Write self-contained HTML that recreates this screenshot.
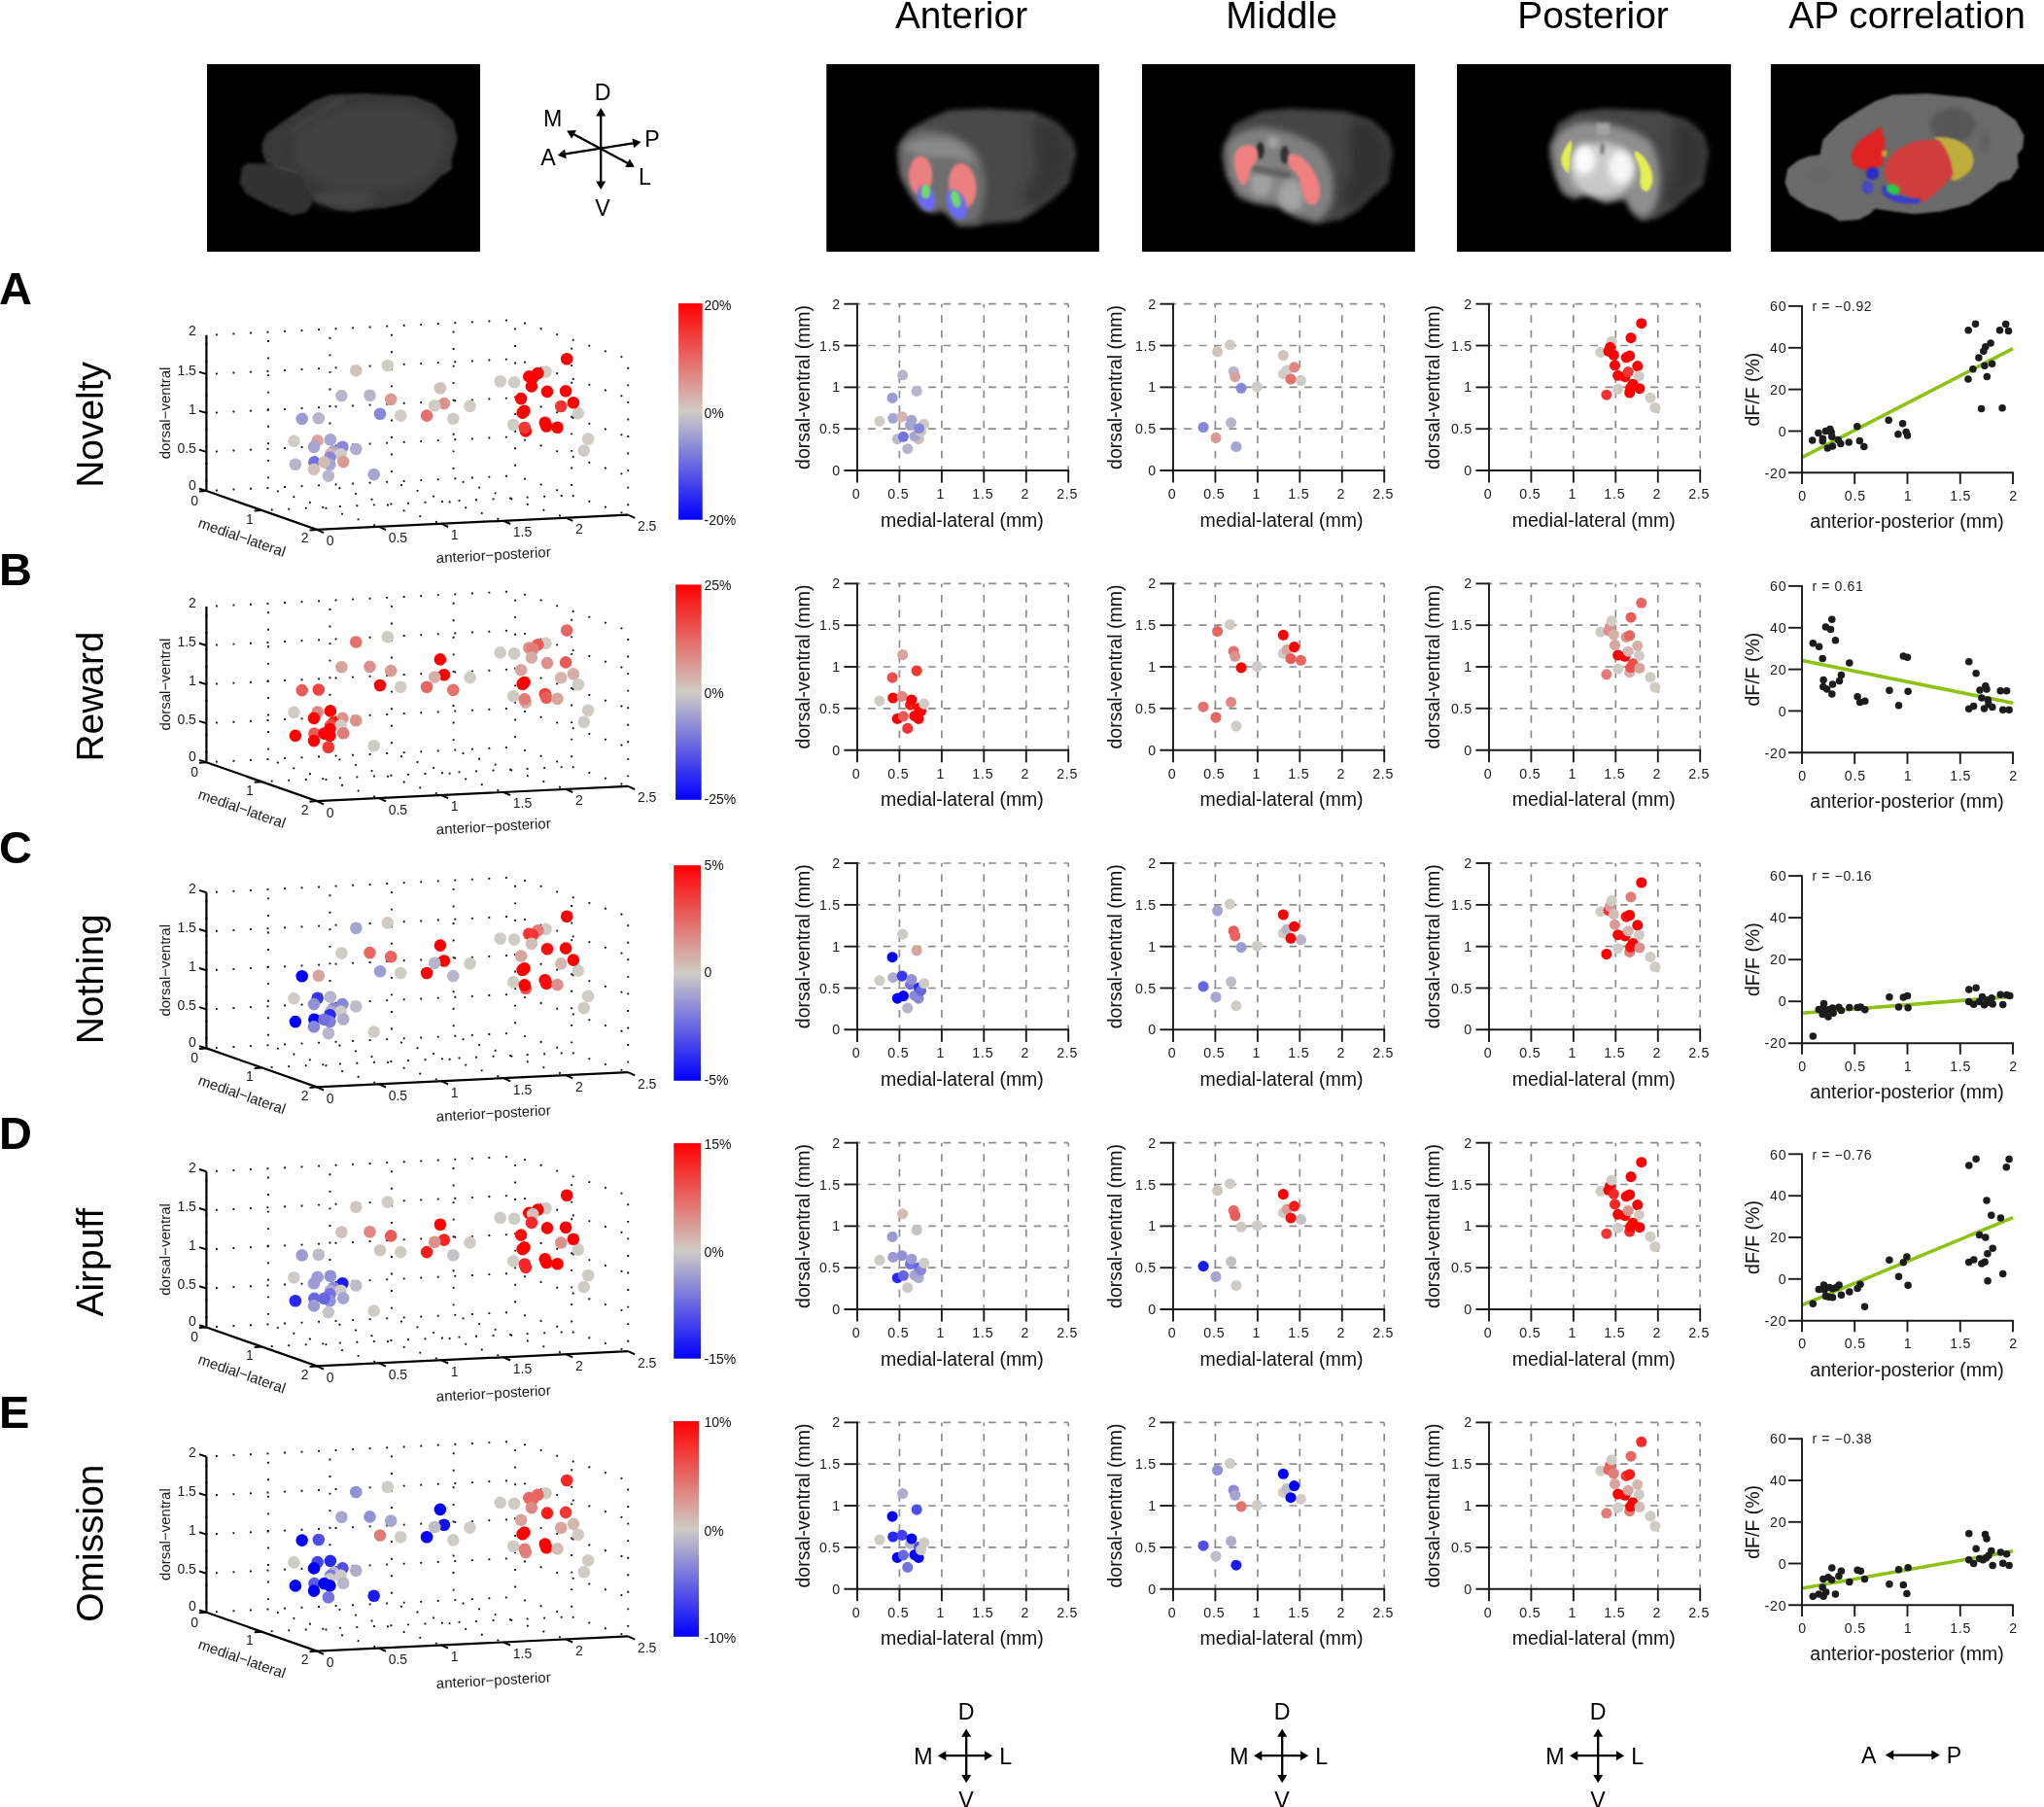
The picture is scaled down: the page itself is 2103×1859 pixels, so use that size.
<!DOCTYPE html>
<html lang="en"><head><meta charset="utf-8"><title>Figure</title>
<style>
html,body{margin:0;padding:0;background:#fff}
svg{display:block}
text{font-family:"Liberation Sans", Arial, Helvetica, sans-serif}
</style></head>
<body>
<svg width="2103" height="1859" viewBox="0 0 2103 1859" font-family='"Liberation Sans", Arial, Helvetica, sans-serif'>
<defs>
<linearGradient id="cb" x1="0" y1="0" x2="0" y2="1">
<stop offset="0" stop-color="#ff0000"/><stop offset="0.5" stop-color="#cfccc5"/><stop offset="1" stop-color="#0000ff"/>
</linearGradient>
</defs>
<rect x="0" y="0" width="2103" height="1859" fill="#fff"/>
<g style="will-change:transform">
<text x="989.0" y="28.5" font-size="38.9" text-anchor="middle" font-weight="normal" fill="#000">Anterior</text>
<text x="1318.5" y="28.5" font-size="38.9" text-anchor="middle" font-weight="normal" fill="#000">Middle</text>
<text x="1639.0" y="28.5" font-size="38.9" text-anchor="middle" font-weight="normal" fill="#000">Posterior</text>
<text x="1962.0" y="28.5" font-size="38.9" text-anchor="middle" font-weight="normal" fill="#000">AP correlation</text>
<defs>
<filter id="f40" x="-40%" y="-40%" width="180%" height="180%"><feGaussianBlur stdDeviation="40"/></filter>
<filter id="f28" x="-40%" y="-40%" width="180%" height="180%"><feGaussianBlur stdDeviation="28"/></filter>
<filter id="f18" x="-40%" y="-40%" width="180%" height="180%"><feGaussianBlur stdDeviation="18"/></filter>
<filter id="f12" x="-40%" y="-40%" width="180%" height="180%"><feGaussianBlur stdDeviation="12"/></filter>
<filter id="f8" x="-40%" y="-40%" width="180%" height="180%"><feGaussianBlur stdDeviation="8"/></filter>
<clipPath id="bc0"><rect x="213.0" y="66" width="281.0" height="192.9"/></clipPath>
<clipPath id="bc1"><rect x="850.3" y="66" width="280.6" height="192.9"/></clipPath>
<clipPath id="bc2"><rect x="1175.0" y="66" width="280.9" height="192.9"/></clipPath>
<clipPath id="bc3"><rect x="1499.0" y="66" width="281.9" height="192.9"/></clipPath>
<clipPath id="bc4"><rect x="1821.9" y="66" width="282.0" height="192.9"/></clipPath>
</defs>
<rect x="213.0" y="66" width="281.0" height="192.9" fill="#000"/>
<rect x="850.3" y="66" width="280.6" height="192.9" fill="#000"/>
<rect x="1175.0" y="66" width="280.9" height="192.9" fill="#000"/>
<rect x="1499.0" y="66" width="281.9" height="192.9" fill="#000"/>
<rect x="1821.9" y="66" width="282.0" height="192.9" fill="#000"/>
<g clip-path="url(#bc0)"><g transform="translate(205 60) scale(0.146778)">
<path d="M285 880 L300 760 L340 735 L520 740 L720 800 L800 900 L790 1020 L750 1080 L650 1100 L480 1030 L330 950 Z" fill="#323232" filter="url(#f12)"/>
<path d="M440 600 L470 530 L620 420 L800 300 L920 255 L1150 245 L1500 265 L1650 320 L1780 440 L1810 560 L1790 640 L1770 700 L1770 780 L1690 830 L1600 920 L1480 1010 L1300 1050 L1150 1060 L1080 1075 L950 1060 L870 1020 L800 1000 L700 800 L470 735 L440 650 Z" fill="#383838" filter="url(#f12)"/>
<path d="M700 520 Q900 330 1300 320 Q1650 350 1720 520 Q1740 700 1600 830 Q1400 950 1100 920 Q800 880 690 760 Q640 640 700 520Z" fill="#424242" opacity="0.9" filter="url(#f28)"/>
<path d="M640 520 Q820 380 1010 290" stroke="#424242" stroke-width="40" fill="none" filter="url(#f18)"/>
<ellipse cx="1020" cy="985" rx="220" ry="55" fill="#474747" filter="url(#f28)"/>
<path d="M520 750 L700 800" stroke="#454545" stroke-width="24" fill="none" filter="url(#f12)"/>
</g></g>
<g clip-path="url(#bc1)"><g transform="translate(850 60) scale(0.14188)">
<path d="M520 640 L600 520 L760 430 L900 375 L1150 365 L1500 385 L1680 470 L1790 600 L1810 700 L1770 830 L1760 900 L1650 1010 L1500 1120 L1400 1180 L1150 1200 L1100 1220 L960 1215 L900 1150 L840 1100 L780 1120 L700 1100 L620 1000 L540 850 L515 720 Z" fill="#484848" filter="url(#f18)"/>
<path d="M540 650 Q560 560 700 520 Q900 520 1060 640 Q1180 800 1150 1000 Q1130 1150 1080 1190 L960 1200 L900 1140 L840 1090 L780 1110 L700 1090 L620 990 L545 850 Z" fill="#6e6e6e" filter="url(#f28)"/>
<path d="M560 640 Q700 560 900 590 Q1050 650 1080 760 Q900 700 760 720 Q620 700 560 640Z" fill="#8a8a8a" filter="url(#f28)"/>
<path d="M1500 420 L1700 480 L1800 620 L1790 800 L1700 960 L1500 1100 L1420 1000 L1520 800 L1500 600 Z" fill="#262626" opacity="0.55" filter="url(#f40)"/>
<ellipse cx="685" cy="850" rx="86" ry="142" fill="#ec7f7f" filter="url(#f12)"/>
<ellipse cx="988" cy="925" rx="100" ry="165" fill="#ec7f7f" filter="url(#f12)" transform="rotate(-6 988 925)"/>
<ellipse cx="728" cy="1015" rx="62" ry="95" fill="#6a6af2" filter="url(#f12)" transform="rotate(-18 728 1015)"/>
<ellipse cx="945" cy="1060" rx="68" ry="112" fill="#6a6af2" filter="url(#f12)" transform="rotate(-22 945 1060)"/>
<ellipse cx="722" cy="965" rx="34" ry="52" fill="#6fd86f" filter="url(#f8)"/>
<ellipse cx="940" cy="1020" rx="34" ry="66" fill="#6fd86f" filter="url(#f8)" transform="rotate(-15 940 1020)"/>
</g></g>
<g clip-path="url(#bc2)"><g transform="translate(1170 60) scale(0.14188)">
<path d="M625 640 L700 480 L900 385 L1100 365 L1500 385 L1700 450 L1820 560 L1850 680 L1830 800 L1820 900 L1700 1000 L1600 1100 L1480 1170 L1300 1200 L1150 1150 L1050 1080 L850 1050 L730 1000 L650 850 L615 720 Z" fill="#444444" filter="url(#f18)"/>
<path d="M640 640 Q700 520 900 500 Q1150 520 1330 660 Q1440 800 1420 1000 Q1400 1130 1300 1180 L1150 1140 L1050 1070 L850 1040 L735 990 L655 850 Z" fill="#808080" filter="url(#f28)"/>
<path d="M1560 430 L1740 490 L1840 640 L1820 860 L1700 990 L1540 1120 L1480 1000 L1560 800 L1540 600 Z" fill="#242424" opacity="0.55" filter="url(#f40)"/>
<ellipse cx="900" cy="905" rx="85" ry="100" fill="#a0a0a0" filter="url(#f28)"/>
<ellipse cx="1115" cy="995" rx="95" ry="115" fill="#a4a4a4" filter="url(#f28)"/>
<path d="M840 800 L1110 850" stroke="#5a5a5a" stroke-width="46" fill="none" filter="url(#f18)"/>
<ellipse cx="892" cy="668" rx="30" ry="62" fill="#2a2a2a" filter="url(#f12)"/>
<ellipse cx="1070" cy="700" rx="32" ry="66" fill="#303030" filter="url(#f12)"/>
<ellipse cx="985" cy="610" rx="45" ry="40" fill="#a6a6a6" filter="url(#f18)"/>
<path d="M705 700 Q730 630 800 625 Q860 630 875 680 Q880 730 850 765 Q815 790 812 850 Q805 905 765 925 Q725 880 708 800 Q700 745 705 700Z" fill="#f08080" filter="url(#f12)"/>
<path d="M1095 705 Q1130 680 1190 715 Q1280 790 1318 900 Q1340 1000 1300 1055 Q1260 1075 1225 1040 Q1195 980 1185 900 Q1170 840 1115 800 Q1085 750 1095 705Z" fill="#f08080" filter="url(#f12)"/>
</g></g>
<g clip-path="url(#bc3)"><g transform="translate(1495 60) scale(0.14188)">
<path d="M700 640 L760 470 L900 390 L1100 365 L1500 385 L1700 450 L1820 560 L1850 680 L1830 800 L1810 920 L1700 1000 L1600 1090 L1480 1160 L1370 1180 L1300 1120 L1250 1020 L1100 1050 L980 980 L880 1020 L800 980 L740 850 L700 720 Z" fill="#464646" filter="url(#f18)"/>
<path d="M715 640 Q770 490 950 460 Q1250 470 1430 600 Q1520 760 1500 960 Q1470 1120 1380 1160 L1300 1110 L1250 1010 L1100 1040 L980 970 L880 1010 L800 970 L745 850 Z" fill="#8e8e8e" filter="url(#f28)"/>
<path d="M1600 430 L1760 490 L1850 640 L1820 880 L1700 990 L1560 1100 L1540 1000 L1600 800 L1590 600 Z" fill="#242424" opacity="0.5" filter="url(#f40)"/>
<ellipse cx="1085" cy="810" rx="235" ry="200" fill="#c9c9c9" filter="url(#f28)"/>
<ellipse cx="952" cy="735" rx="80" ry="110" fill="#fbfbfb" filter="url(#f28)"/>
<ellipse cx="1215" cy="790" rx="90" ry="120" fill="#f6f6f6" filter="url(#f28)"/>
<rect x="1040" y="470" width="95" height="85" fill="#a2a2a2" filter="url(#f12)"/>
<ellipse cx="1082" cy="655" rx="16" ry="45" fill="#7a7a7a" filter="url(#f12)"/>
<path d="M858 590 Q800 650 782 730 Q790 810 838 835 Q850 770 850 700 Q870 640 858 590Z" fill="#e4ee55" filter="url(#f8)"/>
<path d="M1320 670 Q1400 700 1440 820 Q1465 920 1410 965 Q1360 965 1355 900 Q1370 800 1330 740 Q1312 700 1320 670Z" fill="#e4ee55" filter="url(#f8)"/>
</g></g>
<g clip-path="url(#bc4)"><g transform="translate(1813 60) scale(0.14188)">
<path d="M165 900 L185 800 L260 740 L340 710 L420 700 L440 590 L560 470 L700 380 L820 310 L950 265 L1200 255 L1500 285 L1700 350 L1840 450 L1900 560 L1890 650 L1850 700 L1860 790 L1800 880 L1720 900 L1650 960 L1500 1060 L1300 1110 L1100 1130 L950 1110 L820 1090 L780 1130 L700 1170 L560 1180 L480 1130 L330 1080 L200 990 Z" fill="#6b6b6b" filter="url(#f8)"/>
<ellipse cx="1385" cy="485" rx="165" ry="125" fill="#565656" filter="url(#f18)"/>
<ellipse cx="1610" cy="600" rx="40" ry="70" fill="#606060" filter="url(#f18)"/>
<ellipse cx="420" cy="850" rx="70" ry="60" fill="#666" filter="url(#f18)"/>
<path d="M1245 575 Q1400 555 1500 650 Q1565 740 1505 820 Q1440 880 1385 892 L1330 800 L1290 620 Z" fill="#bfae3c" filter="url(#f8)"/>
<path d="M645 690 L700 600 L860 498 L892 600 L880 765 L820 802 L740 812 L655 770 Z" fill="#e02222" filter="url(#f8)"/>
<path d="M885 820 Q900 690 1060 620 Q1200 575 1290 600 Q1370 700 1385 840 Q1300 960 1170 1042 Q1050 1010 960 960 Q890 900 885 820Z" fill="#d03c3c" filter="url(#f8)"/>
<rect x="868" y="668" width="36" height="44" fill="#c8a030" filter="url(#f8)"/>
<ellipse cx="800" cy="835" rx="48" ry="45" fill="#2c2cc8" filter="url(#f8)"/>
<ellipse cx="765" cy="935" rx="42" ry="50" fill="#4646c0" filter="url(#f8)"/>
<path d="M870 930 Q900 900 930 960 Q1000 1010 1150 1020 Q1160 1050 1100 1055 Q960 1060 890 1000 Q860 970 870 930Z" fill="#3a3ec8" filter="url(#f8)"/>
<ellipse cx="950" cy="950" rx="52" ry="36" fill="#2fc84a" filter="url(#f8)" transform="rotate(25 950 950)"/>
</g></g>
<line x1="618.2" y1="188.3" x2="618.2" y2="117.7" stroke="#000" stroke-width="2.3"/>
<polygon points="618.2,111.1 623.2,119.4 613.2,119.4" fill="#000"/>
<polygon points="618.2,194.9 623.2,186.6 613.2,186.6" fill="#000"/>
<line x1="647.0" y1="168.6" x2="589.1" y2="137.5" stroke="#000" stroke-width="2.3"/>
<polygon points="583.2,134.4 592.9,134.0 588.2,142.7" fill="#000"/>
<polygon points="652.9,171.7 647.9,163.4 643.2,172.1" fill="#000"/>
<line x1="580.3" y1="158.7" x2="652.9" y2="147.1" stroke="#000" stroke-width="2.3"/>
<polygon points="659.5,146.1 652.1,152.3 650.5,142.5" fill="#000"/>
<polygon points="573.7,159.7 582.7,163.3 581.1,153.5" fill="#000"/>
<text x="620.2" y="102.8" font-size="23.2" text-anchor="middle" font-weight="normal" fill="#000">D</text>
<text x="619.9" y="221.7" font-size="23.2" text-anchor="middle" font-weight="normal" fill="#000">V</text>
<text x="568.7" y="129.8" font-size="23.2" text-anchor="middle" font-weight="normal" fill="#000">M</text>
<text x="670.9" y="151.0" font-size="23.2" text-anchor="middle" font-weight="normal" fill="#000">P</text>
<text x="563.9" y="169.8" font-size="23.2" text-anchor="middle" font-weight="normal" fill="#000">A</text>
<text x="663.5" y="189.7" font-size="23.2" text-anchor="middle" font-weight="normal" fill="#000">L</text>
<line x1="994.2" y1="1827.7" x2="994.2" y2="1785.0" stroke="#000" stroke-width="2.3"/>
<polygon points="994.2,1778.4 999.2,1786.7 989.2,1786.7" fill="#000"/>
<polygon points="994.2,1834.3 999.2,1826.0 989.2,1826.0" fill="#000"/>
<line x1="971.6" y1="1806.2" x2="1014.6" y2="1806.2" stroke="#000" stroke-width="2.3"/>
<polygon points="1021.2,1806.2 1012.9,1811.2 1012.9,1801.2" fill="#000"/>
<polygon points="965.0,1806.2 973.3,1811.2 973.3,1801.2" fill="#000"/>
<text x="994.2" y="1769.0" font-size="23.2" text-anchor="middle" font-weight="normal" fill="#000">D</text>
<text x="993.9" y="1859.7" font-size="23.2" text-anchor="middle" font-weight="normal" fill="#000">V</text>
<text x="949.8" y="1814.9" font-size="23.2" text-anchor="middle" font-weight="normal" fill="#000">M</text>
<text x="1034.6" y="1814.9" font-size="23.2" text-anchor="middle" font-weight="normal" fill="#000">L</text>
<line x1="1319.2" y1="1827.7" x2="1319.2" y2="1785.0" stroke="#000" stroke-width="2.3"/>
<polygon points="1319.2,1778.4 1324.2,1786.7 1314.2,1786.7" fill="#000"/>
<polygon points="1319.2,1834.3 1324.2,1826.0 1314.2,1826.0" fill="#000"/>
<line x1="1296.6" y1="1806.2" x2="1339.6" y2="1806.2" stroke="#000" stroke-width="2.3"/>
<polygon points="1346.2,1806.2 1337.9,1811.2 1337.9,1801.2" fill="#000"/>
<polygon points="1290.0,1806.2 1298.3,1811.2 1298.3,1801.2" fill="#000"/>
<text x="1319.2" y="1769.0" font-size="23.2" text-anchor="middle" font-weight="normal" fill="#000">D</text>
<text x="1318.9" y="1859.7" font-size="23.2" text-anchor="middle" font-weight="normal" fill="#000">V</text>
<text x="1274.8" y="1814.9" font-size="23.2" text-anchor="middle" font-weight="normal" fill="#000">M</text>
<text x="1359.6" y="1814.9" font-size="23.2" text-anchor="middle" font-weight="normal" fill="#000">L</text>
<line x1="1644.2" y1="1827.7" x2="1644.2" y2="1785.0" stroke="#000" stroke-width="2.3"/>
<polygon points="1644.2,1778.4 1649.2,1786.7 1639.2,1786.7" fill="#000"/>
<polygon points="1644.2,1834.3 1649.2,1826.0 1639.2,1826.0" fill="#000"/>
<line x1="1621.6" y1="1806.2" x2="1664.6" y2="1806.2" stroke="#000" stroke-width="2.3"/>
<polygon points="1671.2,1806.2 1662.9,1811.2 1662.9,1801.2" fill="#000"/>
<polygon points="1615.0,1806.2 1623.3,1811.2 1623.3,1801.2" fill="#000"/>
<text x="1644.2" y="1769.0" font-size="23.2" text-anchor="middle" font-weight="normal" fill="#000">D</text>
<text x="1643.9" y="1859.7" font-size="23.2" text-anchor="middle" font-weight="normal" fill="#000">V</text>
<text x="1599.8" y="1814.9" font-size="23.2" text-anchor="middle" font-weight="normal" fill="#000">M</text>
<text x="1684.6" y="1814.9" font-size="23.2" text-anchor="middle" font-weight="normal" fill="#000">L</text>
<line x1="1946.5" y1="1805.6" x2="1989.1" y2="1805.6" stroke="#000" stroke-width="2.3"/>
<polygon points="1995.7,1805.6 1987.4,1810.5 1987.4,1800.6" fill="#000"/>
<polygon points="1939.9,1805.6 1948.2,1810.5 1948.2,1800.6" fill="#000"/>
<text x="1922.7" y="1813.8" font-size="23.2" text-anchor="middle" font-weight="normal" fill="#000">A</text>
<text x="2010.6" y="1813.8" font-size="23.2" text-anchor="middle" font-weight="normal" fill="#000">P</text>
<text x="-1.0" y="312.8" font-size="47.0" text-anchor="start" font-weight="bold" fill="#000">A</text>
<text x="105.8" y="436.9" font-size="38.9" text-anchor="middle" font-weight="normal" fill="#000" transform="rotate(-90 105.8 436.9)">Novelty</text>
<line x1="212.4" y1="505.0" x2="212.4" y2="344.8" stroke="#111" stroke-width="1.9" stroke-dasharray="1.9 15.65" stroke-dashoffset="8.0"/>
<line x1="275.9" y1="501.9" x2="275.9" y2="341.7" stroke="#111" stroke-width="1.9" stroke-dasharray="1.9 15.65" stroke-dashoffset="8.0"/>
<line x1="339.5" y1="498.7" x2="339.5" y2="338.5" stroke="#111" stroke-width="1.9" stroke-dasharray="1.9 15.65" stroke-dashoffset="8.0"/>
<line x1="403.0" y1="495.6" x2="403.0" y2="335.4" stroke="#111" stroke-width="1.9" stroke-dasharray="1.9 15.65" stroke-dashoffset="8.0"/>
<line x1="466.6" y1="492.4" x2="466.6" y2="332.2" stroke="#111" stroke-width="1.9" stroke-dasharray="1.9 15.65" stroke-dashoffset="8.0"/>
<line x1="530.1" y1="489.3" x2="530.1" y2="329.1" stroke="#111" stroke-width="1.9" stroke-dasharray="1.9 15.65" stroke-dashoffset="8.0"/>
<line x1="212.4" y1="505.0" x2="530.1" y2="489.3" stroke="#111" stroke-width="1.9" stroke-dasharray="1.9 15.65" stroke-dashoffset="8.0"/>
<line x1="212.4" y1="464.9" x2="530.1" y2="449.2" stroke="#111" stroke-width="1.9" stroke-dasharray="1.9 15.65" stroke-dashoffset="8.0"/>
<line x1="212.4" y1="424.9" x2="530.1" y2="409.2" stroke="#111" stroke-width="1.9" stroke-dasharray="1.9 15.65" stroke-dashoffset="8.0"/>
<line x1="212.4" y1="384.9" x2="530.1" y2="369.2" stroke="#111" stroke-width="1.9" stroke-dasharray="1.9 15.65" stroke-dashoffset="8.0"/>
<line x1="212.4" y1="344.8" x2="530.1" y2="329.1" stroke="#111" stroke-width="1.9" stroke-dasharray="1.9 15.65" stroke-dashoffset="8.0"/>
<line x1="588.2" y1="509.5" x2="588.2" y2="349.3" stroke="#111" stroke-width="1.9" stroke-dasharray="1.9 15.65" stroke-dashoffset="8.0"/>
<line x1="646.2" y1="529.7" x2="646.2" y2="369.5" stroke="#111" stroke-width="1.9" stroke-dasharray="1.9 15.65" stroke-dashoffset="8.0"/>
<line x1="530.1" y1="489.3" x2="646.2" y2="529.7" stroke="#111" stroke-width="1.9" stroke-dasharray="1.9 15.65" stroke-dashoffset="8.0"/>
<line x1="530.1" y1="449.2" x2="646.2" y2="489.7" stroke="#111" stroke-width="1.9" stroke-dasharray="1.9 15.65" stroke-dashoffset="8.0"/>
<line x1="530.1" y1="409.2" x2="646.2" y2="449.6" stroke="#111" stroke-width="1.9" stroke-dasharray="1.9 15.65" stroke-dashoffset="8.0"/>
<line x1="530.1" y1="369.2" x2="646.2" y2="409.6" stroke="#111" stroke-width="1.9" stroke-dasharray="1.9 15.65" stroke-dashoffset="8.0"/>
<line x1="530.1" y1="329.1" x2="646.2" y2="369.5" stroke="#111" stroke-width="1.9" stroke-dasharray="1.9 15.65" stroke-dashoffset="8.0"/>
<line x1="275.9" y1="501.9" x2="390.0" y2="541.9" stroke="#111" stroke-width="1.9" stroke-dasharray="1.9 15.65" stroke-dashoffset="8.0"/>
<line x1="339.5" y1="498.7" x2="454.1" y2="538.8" stroke="#111" stroke-width="1.9" stroke-dasharray="1.9 15.65" stroke-dashoffset="8.0"/>
<line x1="403.0" y1="495.6" x2="518.1" y2="535.8" stroke="#111" stroke-width="1.9" stroke-dasharray="1.9 15.65" stroke-dashoffset="8.0"/>
<line x1="466.6" y1="492.4" x2="582.2" y2="532.7" stroke="#111" stroke-width="1.9" stroke-dasharray="1.9 15.65" stroke-dashoffset="8.0"/>
<line x1="269.2" y1="525.0" x2="588.2" y2="509.5" stroke="#111" stroke-width="1.9" stroke-dasharray="1.9 15.65" stroke-dashoffset="8.0"/>
<circle cx="366.3" cy="381.3" r="6.3" fill="#d1c3bc"/>
<circle cx="398.8" cy="376.0" r="6.3" fill="#cfccc5"/>
<circle cx="351.4" cy="407.1" r="6.3" fill="#b7b5cc"/>
<circle cx="380.5" cy="406.7" r="6.3" fill="#b7b5cc"/>
<circle cx="402.2" cy="410.9" r="6.3" fill="#db9b95"/>
<circle cx="391.0" cy="425.8" r="6.3" fill="#8987d9"/>
<circle cx="412.2" cy="427.6" r="6.3" fill="#cfccc5"/>
<circle cx="439.1" cy="427.6" r="6.3" fill="#e4716d"/>
<circle cx="310.7" cy="430.9" r="6.3" fill="#9d9bd3"/>
<circle cx="327.8" cy="430.3" r="6.3" fill="#b7b5cc"/>
<circle cx="302.4" cy="453.7" r="6.3" fill="#cfccc5"/>
<circle cx="326.7" cy="453.4" r="6.3" fill="#d8a49e"/>
<circle cx="339.9" cy="452.2" r="6.3" fill="#a6a4d0"/>
<circle cx="323.0" cy="459.7" r="6.3" fill="#a6a4d0"/>
<circle cx="352.4" cy="459.7" r="6.3" fill="#8987d9"/>
<circle cx="366.3" cy="462.0" r="6.3" fill="#afadce"/>
<circle cx="343.2" cy="464.2" r="6.3" fill="#a6a4d0"/>
<circle cx="340.2" cy="467.2" r="6.3" fill="#d4b5af"/>
<circle cx="350.6" cy="467.2" r="6.3" fill="#cfccc5"/>
<circle cx="339.4" cy="470.9" r="6.3" fill="#8987d9"/>
<circle cx="353.2" cy="475.1" r="6.3" fill="#db9b95"/>
<circle cx="323.4" cy="475.4" r="6.3" fill="#7371df"/>
<circle cx="339.4" cy="477.7" r="6.3" fill="#a6a4d0"/>
<circle cx="333.5" cy="475.4" r="6.3" fill="#d3bcb6"/>
<circle cx="303.9" cy="477.7" r="6.3" fill="#b7b5cc"/>
<circle cx="323.0" cy="482.9" r="6.3" fill="#d1c3bc"/>
<circle cx="337.9" cy="489.6" r="6.3" fill="#b7b5cc"/>
<circle cx="384.7" cy="488.1" r="6.3" fill="#a6a4d0"/>
<circle cx="452.9" cy="399.2" r="6.3" fill="#d1c3bc"/>
<circle cx="456.9" cy="415.1" r="6.3" fill="#dd918c"/>
<circle cx="447.2" cy="417.3" r="6.3" fill="#cfccc5"/>
<circle cx="483.5" cy="417.9" r="6.3" fill="#cfccc5"/>
<circle cx="466.3" cy="430.7" r="6.3" fill="#cfccc5"/>
<circle cx="514.7" cy="392.2" r="6.3" fill="#cfccc5"/>
<circle cx="529.1" cy="393.2" r="6.3" fill="#cfccc5"/>
<circle cx="561.5" cy="382.5" r="6.3" fill="#cfccc5"/>
<circle cx="594.8" cy="425.1" r="6.3" fill="#cfccc5"/>
<circle cx="528.2" cy="437.0" r="6.3" fill="#cfccc5"/>
<circle cx="605.1" cy="451.5" r="6.3" fill="#cfccc5"/>
<circle cx="600.8" cy="463.6" r="6.3" fill="#cfccc5"/>
<circle cx="583.2" cy="369.3" r="6.3" fill="#ff0000"/>
<circle cx="553.3" cy="384.0" r="6.3" fill="#ff0000"/>
<circle cx="544.3" cy="387.4" r="6.3" fill="#ff0000"/>
<circle cx="548.1" cy="388.5" r="6.3" fill="#ff0000"/>
<circle cx="546.9" cy="397.4" r="6.3" fill="#ff0000"/>
<circle cx="563.0" cy="402.9" r="6.3" fill="#ff0000"/>
<circle cx="582.1" cy="402.2" r="6.3" fill="#ff0000"/>
<circle cx="536.1" cy="410.1" r="6.3" fill="#ff0000"/>
<circle cx="589.9" cy="414.2" r="6.3" fill="#ff0000"/>
<circle cx="577.2" cy="418.0" r="6.3" fill="#f33533"/>
<circle cx="539.5" cy="422.8" r="6.3" fill="#ff0000"/>
<circle cx="537.6" cy="424.6" r="6.3" fill="#ff0000"/>
<circle cx="560.8" cy="434.8" r="6.3" fill="#ff0000"/>
<circle cx="562.2" cy="438.5" r="6.3" fill="#ff0000"/>
<circle cx="573.5" cy="439.7" r="6.3" fill="#ff0000"/>
<circle cx="540.9" cy="443.4" r="6.3" fill="#ff0000"/>
<circle cx="539.8" cy="440.0" r="6.3" fill="#f33533"/>
<polyline points="212.4,344.8 212.4,505.0 326.0,544.9 646.2,529.7" fill="none" stroke="#000" stroke-width="2.2" stroke-linejoin="miter"/>
<line x1="204.9" y1="502.7" x2="212.4" y2="505.0" stroke="#000" stroke-width="2.0"/>
<text x="201.9" y="503.6" font-size="14.0" text-anchor="end" font-weight="normal" fill="#1a1a1a">0</text>
<line x1="204.9" y1="462.6" x2="212.4" y2="464.9" stroke="#000" stroke-width="2.0"/>
<text x="201.9" y="465.6" font-size="14.0" text-anchor="end" font-weight="normal" fill="#1a1a1a">0.5</text>
<line x1="204.9" y1="422.6" x2="212.4" y2="424.9" stroke="#000" stroke-width="2.0"/>
<text x="201.9" y="425.5" font-size="14.0" text-anchor="end" font-weight="normal" fill="#1a1a1a">1</text>
<line x1="204.9" y1="382.6" x2="212.4" y2="384.9" stroke="#000" stroke-width="2.0"/>
<text x="201.9" y="385.5" font-size="14.0" text-anchor="end" font-weight="normal" fill="#1a1a1a">1.5</text>
<text x="201.9" y="345.4" font-size="14.0" text-anchor="end" font-weight="normal" fill="#1a1a1a">2</text>
<line x1="204.9" y1="505.6" x2="212.4" y2="505.0" stroke="#000" stroke-width="2.0"/>
<text x="200.1" y="519.9" font-size="14.0" text-anchor="middle" font-weight="normal" fill="#1a1a1a">0</text>
<line x1="261.7" y1="525.6" x2="269.2" y2="525.0" stroke="#000" stroke-width="2.0"/>
<text x="256.9" y="538.5" font-size="14.0" text-anchor="middle" font-weight="normal" fill="#1a1a1a">1</text>
<line x1="318.5" y1="545.5" x2="326.0" y2="544.9" stroke="#000" stroke-width="2.0"/>
<text x="313.7" y="558.4" font-size="14.0" text-anchor="middle" font-weight="normal" fill="#1a1a1a">2</text>
<line x1="326.0" y1="544.9" x2="333.0" y2="548.1" stroke="#000" stroke-width="2.0"/>
<text x="335.7" y="561.3" font-size="14.0" text-anchor="start" font-weight="normal" fill="#1a1a1a">0</text>
<line x1="390.0" y1="541.9" x2="397.0" y2="545.1" stroke="#000" stroke-width="2.0"/>
<text x="399.7" y="558.3" font-size="14.0" text-anchor="start" font-weight="normal" fill="#1a1a1a">0.5</text>
<line x1="454.1" y1="538.8" x2="461.1" y2="542.0" stroke="#000" stroke-width="2.0"/>
<text x="463.8" y="555.2" font-size="14.0" text-anchor="start" font-weight="normal" fill="#1a1a1a">1</text>
<line x1="518.1" y1="535.8" x2="525.1" y2="539.0" stroke="#000" stroke-width="2.0"/>
<text x="527.8" y="552.2" font-size="14.0" text-anchor="start" font-weight="normal" fill="#1a1a1a">1.5</text>
<line x1="582.2" y1="532.7" x2="589.2" y2="535.9" stroke="#000" stroke-width="2.0"/>
<text x="591.9" y="549.1" font-size="14.0" text-anchor="start" font-weight="normal" fill="#1a1a1a">2</text>
<line x1="646.2" y1="529.7" x2="653.2" y2="532.9" stroke="#000" stroke-width="2.0"/>
<text x="655.9" y="546.1" font-size="14.0" text-anchor="start" font-weight="normal" fill="#1a1a1a">2.5</text>
<text x="174.9" y="424.9" font-size="15.0" text-anchor="middle" font-weight="normal" fill="#1a1a1a" transform="rotate(-90 174.9 424.9)">dorsal−ventral</text>
<text x="247.3" y="557.5" font-size="15.0" text-anchor="middle" font-weight="normal" fill="#1a1a1a" transform="rotate(19.3 247.3 557.5)">medial−lateral</text>
<text x="508.0" y="576.0" font-size="15.0" text-anchor="middle" font-weight="normal" fill="#1a1a1a" transform="rotate(-3.2 508.0 576.0)">anterior−posterior</text>
<rect x="698.1" y="312.1" width="24.65" height="222.6" fill="url(#cb)"/>
<text x="724.5" y="318.7" font-size="14" text-anchor="start" font-weight="normal" fill="#111">20%</text>
<text x="724.5" y="429.7" font-size="14" text-anchor="start" font-weight="normal" fill="#111">0%</text>
<text x="724.5" y="539.8" font-size="14" text-anchor="start" font-weight="normal" fill="#111">-20%</text>
<line x1="925.4" y1="312.7" x2="925.4" y2="484.0" stroke="#8c8c8c" stroke-width="1.7" stroke-dasharray="7.75 7.75" stroke-dashoffset="3.9"/>
<line x1="968.9" y1="312.7" x2="968.9" y2="484.0" stroke="#8c8c8c" stroke-width="1.7" stroke-dasharray="7.75 7.75" stroke-dashoffset="3.9"/>
<line x1="1012.3" y1="312.7" x2="1012.3" y2="484.0" stroke="#8c8c8c" stroke-width="1.7" stroke-dasharray="7.75 7.75" stroke-dashoffset="3.9"/>
<line x1="1055.8" y1="312.7" x2="1055.8" y2="484.0" stroke="#8c8c8c" stroke-width="1.7" stroke-dasharray="7.75 7.75" stroke-dashoffset="3.9"/>
<line x1="1099.2" y1="312.7" x2="1099.2" y2="484.0" stroke="#8c8c8c" stroke-width="1.7" stroke-dasharray="7.75 7.75" stroke-dashoffset="3.9"/>
<line x1="882.0" y1="441.2" x2="1099.2" y2="441.2" stroke="#8c8c8c" stroke-width="1.7" stroke-dasharray="7.75 7.75" stroke-dashoffset="4.4"/>
<line x1="882.0" y1="398.4" x2="1099.2" y2="398.4" stroke="#8c8c8c" stroke-width="1.7" stroke-dasharray="7.75 7.75" stroke-dashoffset="4.4"/>
<line x1="882.0" y1="355.5" x2="1099.2" y2="355.5" stroke="#8c8c8c" stroke-width="1.7" stroke-dasharray="7.75 7.75" stroke-dashoffset="4.4"/>
<line x1="882.0" y1="312.7" x2="1099.2" y2="312.7" stroke="#8c8c8c" stroke-width="1.7" stroke-dasharray="7.75 7.75" stroke-dashoffset="4.4"/>
<circle cx="905.0" cy="433.4" r="5.55" fill="#cfccc5"/>
<circle cx="945.1" cy="451.7" r="5.55" fill="#d3bcb6"/>
<circle cx="923.3" cy="451.7" r="5.55" fill="#bfbcc9"/>
<circle cx="928.7" cy="385.8" r="5.55" fill="#b7b5cc"/>
<circle cx="943.2" cy="402.4" r="5.55" fill="#b7b5cc"/>
<circle cx="918.1" cy="409.4" r="5.55" fill="#9d9bd3"/>
<circle cx="918.8" cy="430.3" r="5.55" fill="#a6a4d0"/>
<circle cx="928.1" cy="428.7" r="5.55" fill="#d4b5af"/>
<circle cx="936.6" cy="437.5" r="5.55" fill="#a6a4d0"/>
<circle cx="937.9" cy="432.3" r="5.55" fill="#a6a4d0"/>
<circle cx="941.1" cy="448.8" r="5.55" fill="#a6a4d0"/>
<circle cx="947.5" cy="443.8" r="5.55" fill="#cbc8c6"/>
<circle cx="950.7" cy="436.4" r="5.55" fill="#cfccc5"/>
<circle cx="945.6" cy="440.7" r="5.55" fill="#8987d9"/>
<circle cx="929.4" cy="449.3" r="5.55" fill="#7371df"/>
<circle cx="933.8" cy="461.7" r="5.55" fill="#b7b5cc"/>
<line x1="882.0" y1="311.8" x2="882.0" y2="496.6" stroke="#1a1a1a" stroke-width="1.9"/>
<line x1="868.4" y1="484.0" x2="1100.1" y2="484.0" stroke="#1a1a1a" stroke-width="1.9"/>
<line x1="925.4" y1="484.0" x2="925.4" y2="496.6" stroke="#1a1a1a" stroke-width="1.9"/>
<line x1="968.9" y1="484.0" x2="968.9" y2="496.6" stroke="#1a1a1a" stroke-width="1.9"/>
<line x1="1012.3" y1="484.0" x2="1012.3" y2="496.6" stroke="#1a1a1a" stroke-width="1.9"/>
<line x1="1055.8" y1="484.0" x2="1055.8" y2="496.6" stroke="#1a1a1a" stroke-width="1.9"/>
<line x1="1099.2" y1="484.0" x2="1099.2" y2="496.6" stroke="#1a1a1a" stroke-width="1.9"/>
<line x1="868.4" y1="441.2" x2="882.0" y2="441.2" stroke="#1a1a1a" stroke-width="1.9"/>
<line x1="868.4" y1="398.4" x2="882.0" y2="398.4" stroke="#1a1a1a" stroke-width="1.9"/>
<line x1="868.4" y1="355.5" x2="882.0" y2="355.5" stroke="#1a1a1a" stroke-width="1.9"/>
<line x1="868.4" y1="312.7" x2="882.0" y2="312.7" stroke="#1a1a1a" stroke-width="1.9"/>
<text x="881.0" y="513.0" font-size="14.2" text-anchor="middle" font-weight="normal" fill="#1a1a1a" letter-spacing="0.8">0</text>
<text x="924.4" y="513.0" font-size="14.2" text-anchor="middle" font-weight="normal" fill="#1a1a1a" letter-spacing="0.8">0.5</text>
<text x="967.9" y="513.0" font-size="14.2" text-anchor="middle" font-weight="normal" fill="#1a1a1a" letter-spacing="0.8">1</text>
<text x="1011.3" y="513.0" font-size="14.2" text-anchor="middle" font-weight="normal" fill="#1a1a1a" letter-spacing="0.8">1.5</text>
<text x="1054.8" y="513.0" font-size="14.2" text-anchor="middle" font-weight="normal" fill="#1a1a1a" letter-spacing="0.8">2</text>
<text x="1098.2" y="513.0" font-size="14.2" text-anchor="middle" font-weight="normal" fill="#1a1a1a" letter-spacing="0.8">2.5</text>
<text x="865.0" y="489.0" font-size="14.2" text-anchor="end" font-weight="normal" fill="#1a1a1a" letter-spacing="0.8">0</text>
<text x="865.0" y="446.2" font-size="14.2" text-anchor="end" font-weight="normal" fill="#1a1a1a" letter-spacing="0.8">0.5</text>
<text x="865.0" y="403.4" font-size="14.2" text-anchor="end" font-weight="normal" fill="#1a1a1a" letter-spacing="0.8">1</text>
<text x="865.0" y="360.5" font-size="14.2" text-anchor="end" font-weight="normal" fill="#1a1a1a" letter-spacing="0.8">1.5</text>
<text x="865.0" y="317.7" font-size="14.2" text-anchor="end" font-weight="normal" fill="#1a1a1a" letter-spacing="0.8">2</text>
<text x="989.9" y="541.7" font-size="19.5" text-anchor="middle" font-weight="normal" fill="#111">medial-lateral (mm)</text>
<text x="833.0" y="398.4" font-size="19.5" text-anchor="middle" font-weight="normal" fill="#111" transform="rotate(-90 833.0 398.4)">dorsal-ventral (mm)</text>
<line x1="1250.4" y1="312.7" x2="1250.4" y2="484.0" stroke="#8c8c8c" stroke-width="1.7" stroke-dasharray="7.75 7.75" stroke-dashoffset="3.9"/>
<line x1="1293.9" y1="312.7" x2="1293.9" y2="484.0" stroke="#8c8c8c" stroke-width="1.7" stroke-dasharray="7.75 7.75" stroke-dashoffset="3.9"/>
<line x1="1337.3" y1="312.7" x2="1337.3" y2="484.0" stroke="#8c8c8c" stroke-width="1.7" stroke-dasharray="7.75 7.75" stroke-dashoffset="3.9"/>
<line x1="1380.8" y1="312.7" x2="1380.8" y2="484.0" stroke="#8c8c8c" stroke-width="1.7" stroke-dasharray="7.75 7.75" stroke-dashoffset="3.9"/>
<line x1="1424.2" y1="312.7" x2="1424.2" y2="484.0" stroke="#8c8c8c" stroke-width="1.7" stroke-dasharray="7.75 7.75" stroke-dashoffset="3.9"/>
<line x1="1207.0" y1="441.2" x2="1424.2" y2="441.2" stroke="#8c8c8c" stroke-width="1.7" stroke-dasharray="7.75 7.75" stroke-dashoffset="4.4"/>
<line x1="1207.0" y1="398.4" x2="1424.2" y2="398.4" stroke="#8c8c8c" stroke-width="1.7" stroke-dasharray="7.75 7.75" stroke-dashoffset="4.4"/>
<line x1="1207.0" y1="355.5" x2="1424.2" y2="355.5" stroke="#8c8c8c" stroke-width="1.7" stroke-dasharray="7.75 7.75" stroke-dashoffset="4.4"/>
<line x1="1207.0" y1="312.7" x2="1424.2" y2="312.7" stroke="#8c8c8c" stroke-width="1.7" stroke-dasharray="7.75 7.75" stroke-dashoffset="4.4"/>
<circle cx="1265.5" cy="354.8" r="5.55" fill="#cfccc5"/>
<circle cx="1252.6" cy="361.8" r="5.55" fill="#d1c3bc"/>
<circle cx="1320.3" cy="365.6" r="5.55" fill="#d1c3bc"/>
<circle cx="1269.2" cy="382.3" r="5.55" fill="#b7b5cc"/>
<circle cx="1270.8" cy="387.6" r="5.55" fill="#d8a49e"/>
<circle cx="1320.3" cy="384.7" r="5.55" fill="#cfccc5"/>
<circle cx="1324.0" cy="381.0" r="5.55" fill="#cfccc5"/>
<circle cx="1338.5" cy="391.6" r="5.55" fill="#cfccc5"/>
<circle cx="1331.6" cy="377.9" r="5.55" fill="#df8782"/>
<circle cx="1328.0" cy="390.0" r="5.55" fill="#e4716d"/>
<circle cx="1293.4" cy="397.9" r="5.55" fill="#cfccc5"/>
<circle cx="1277.1" cy="399.3" r="5.55" fill="#8987d9"/>
<circle cx="1266.6" cy="434.8" r="5.55" fill="#b7b5cc"/>
<circle cx="1238.1" cy="439.5" r="5.55" fill="#8987d9"/>
<circle cx="1251.0" cy="450.4" r="5.55" fill="#db9b95"/>
<circle cx="1271.9" cy="459.5" r="5.55" fill="#a6a4d0"/>
<line x1="1207.0" y1="311.8" x2="1207.0" y2="496.6" stroke="#1a1a1a" stroke-width="1.9"/>
<line x1="1193.4" y1="484.0" x2="1425.1" y2="484.0" stroke="#1a1a1a" stroke-width="1.9"/>
<line x1="1250.4" y1="484.0" x2="1250.4" y2="496.6" stroke="#1a1a1a" stroke-width="1.9"/>
<line x1="1293.9" y1="484.0" x2="1293.9" y2="496.6" stroke="#1a1a1a" stroke-width="1.9"/>
<line x1="1337.3" y1="484.0" x2="1337.3" y2="496.6" stroke="#1a1a1a" stroke-width="1.9"/>
<line x1="1380.8" y1="484.0" x2="1380.8" y2="496.6" stroke="#1a1a1a" stroke-width="1.9"/>
<line x1="1424.2" y1="484.0" x2="1424.2" y2="496.6" stroke="#1a1a1a" stroke-width="1.9"/>
<line x1="1193.4" y1="441.2" x2="1207.0" y2="441.2" stroke="#1a1a1a" stroke-width="1.9"/>
<line x1="1193.4" y1="398.4" x2="1207.0" y2="398.4" stroke="#1a1a1a" stroke-width="1.9"/>
<line x1="1193.4" y1="355.5" x2="1207.0" y2="355.5" stroke="#1a1a1a" stroke-width="1.9"/>
<line x1="1193.4" y1="312.7" x2="1207.0" y2="312.7" stroke="#1a1a1a" stroke-width="1.9"/>
<text x="1206.0" y="513.0" font-size="14.2" text-anchor="middle" font-weight="normal" fill="#1a1a1a" letter-spacing="0.8">0</text>
<text x="1249.4" y="513.0" font-size="14.2" text-anchor="middle" font-weight="normal" fill="#1a1a1a" letter-spacing="0.8">0.5</text>
<text x="1292.9" y="513.0" font-size="14.2" text-anchor="middle" font-weight="normal" fill="#1a1a1a" letter-spacing="0.8">1</text>
<text x="1336.3" y="513.0" font-size="14.2" text-anchor="middle" font-weight="normal" fill="#1a1a1a" letter-spacing="0.8">1.5</text>
<text x="1379.8" y="513.0" font-size="14.2" text-anchor="middle" font-weight="normal" fill="#1a1a1a" letter-spacing="0.8">2</text>
<text x="1423.2" y="513.0" font-size="14.2" text-anchor="middle" font-weight="normal" fill="#1a1a1a" letter-spacing="0.8">2.5</text>
<text x="1190.0" y="489.0" font-size="14.2" text-anchor="end" font-weight="normal" fill="#1a1a1a" letter-spacing="0.8">0</text>
<text x="1190.0" y="446.2" font-size="14.2" text-anchor="end" font-weight="normal" fill="#1a1a1a" letter-spacing="0.8">0.5</text>
<text x="1190.0" y="403.4" font-size="14.2" text-anchor="end" font-weight="normal" fill="#1a1a1a" letter-spacing="0.8">1</text>
<text x="1190.0" y="360.5" font-size="14.2" text-anchor="end" font-weight="normal" fill="#1a1a1a" letter-spacing="0.8">1.5</text>
<text x="1190.0" y="317.7" font-size="14.2" text-anchor="end" font-weight="normal" fill="#1a1a1a" letter-spacing="0.8">2</text>
<text x="1318.6" y="541.7" font-size="19.5" text-anchor="middle" font-weight="normal" fill="#111">medial-lateral (mm)</text>
<text x="1154.2" y="398.4" font-size="19.5" text-anchor="middle" font-weight="normal" fill="#111" transform="rotate(-90 1154.2 398.4)">dorsal-ventral (mm)</text>
<line x1="1575.4" y1="312.7" x2="1575.4" y2="484.0" stroke="#8c8c8c" stroke-width="1.7" stroke-dasharray="7.75 7.75" stroke-dashoffset="3.9"/>
<line x1="1618.9" y1="312.7" x2="1618.9" y2="484.0" stroke="#8c8c8c" stroke-width="1.7" stroke-dasharray="7.75 7.75" stroke-dashoffset="3.9"/>
<line x1="1662.3" y1="312.7" x2="1662.3" y2="484.0" stroke="#8c8c8c" stroke-width="1.7" stroke-dasharray="7.75 7.75" stroke-dashoffset="3.9"/>
<line x1="1705.8" y1="312.7" x2="1705.8" y2="484.0" stroke="#8c8c8c" stroke-width="1.7" stroke-dasharray="7.75 7.75" stroke-dashoffset="3.9"/>
<line x1="1749.2" y1="312.7" x2="1749.2" y2="484.0" stroke="#8c8c8c" stroke-width="1.7" stroke-dasharray="7.75 7.75" stroke-dashoffset="3.9"/>
<line x1="1532.0" y1="441.2" x2="1749.2" y2="441.2" stroke="#8c8c8c" stroke-width="1.7" stroke-dasharray="7.75 7.75" stroke-dashoffset="4.4"/>
<line x1="1532.0" y1="398.4" x2="1749.2" y2="398.4" stroke="#8c8c8c" stroke-width="1.7" stroke-dasharray="7.75 7.75" stroke-dashoffset="4.4"/>
<line x1="1532.0" y1="355.5" x2="1749.2" y2="355.5" stroke="#8c8c8c" stroke-width="1.7" stroke-dasharray="7.75 7.75" stroke-dashoffset="4.4"/>
<line x1="1532.0" y1="312.7" x2="1749.2" y2="312.7" stroke="#8c8c8c" stroke-width="1.7" stroke-dasharray="7.75 7.75" stroke-dashoffset="4.4"/>
<circle cx="1646.9" cy="362.4" r="5.55" fill="#cfccc5"/>
<circle cx="1658.2" cy="351.2" r="5.55" fill="#cfccc5"/>
<circle cx="1655.0" cy="361.3" r="5.55" fill="#ff0000"/>
<circle cx="1656.6" cy="357.3" r="5.55" fill="#ff0000"/>
<circle cx="1660.3" cy="365.3" r="5.55" fill="#ff0000"/>
<circle cx="1673.2" cy="367.8" r="5.55" fill="#ff0000"/>
<circle cx="1676.7" cy="366.1" r="5.55" fill="#ff0000"/>
<circle cx="1688.8" cy="332.7" r="5.55" fill="#ff0000"/>
<circle cx="1678.0" cy="347.6" r="5.55" fill="#ff0000"/>
<circle cx="1661.5" cy="375.8" r="5.55" fill="#ff0000"/>
<circle cx="1684.8" cy="376.6" r="5.55" fill="#ff0000"/>
<circle cx="1664.7" cy="386.3" r="5.55" fill="#ff0000"/>
<circle cx="1671.9" cy="387.6" r="5.55" fill="#ff0000"/>
<circle cx="1675.2" cy="382.6" r="5.55" fill="#f33533"/>
<circle cx="1686.4" cy="386.8" r="5.55" fill="#cfccc5"/>
<circle cx="1676.7" cy="404.0" r="5.55" fill="#ff0000"/>
<circle cx="1677.6" cy="399.1" r="5.55" fill="#ff0000"/>
<circle cx="1680.0" cy="395.2" r="5.55" fill="#ff0000"/>
<circle cx="1686.9" cy="399.7" r="5.55" fill="#ff0000"/>
<circle cx="1664.7" cy="400.4" r="5.55" fill="#cfccc5"/>
<circle cx="1652.9" cy="406.2" r="5.55" fill="#f33533"/>
<circle cx="1698.0" cy="409.2" r="5.55" fill="#cfccc5"/>
<circle cx="1702.9" cy="419.4" r="5.55" fill="#cfccc5"/>
<line x1="1532.0" y1="311.8" x2="1532.0" y2="496.6" stroke="#1a1a1a" stroke-width="1.9"/>
<line x1="1518.4" y1="484.0" x2="1750.1" y2="484.0" stroke="#1a1a1a" stroke-width="1.9"/>
<line x1="1575.4" y1="484.0" x2="1575.4" y2="496.6" stroke="#1a1a1a" stroke-width="1.9"/>
<line x1="1618.9" y1="484.0" x2="1618.9" y2="496.6" stroke="#1a1a1a" stroke-width="1.9"/>
<line x1="1662.3" y1="484.0" x2="1662.3" y2="496.6" stroke="#1a1a1a" stroke-width="1.9"/>
<line x1="1705.8" y1="484.0" x2="1705.8" y2="496.6" stroke="#1a1a1a" stroke-width="1.9"/>
<line x1="1749.2" y1="484.0" x2="1749.2" y2="496.6" stroke="#1a1a1a" stroke-width="1.9"/>
<line x1="1518.4" y1="441.2" x2="1532.0" y2="441.2" stroke="#1a1a1a" stroke-width="1.9"/>
<line x1="1518.4" y1="398.4" x2="1532.0" y2="398.4" stroke="#1a1a1a" stroke-width="1.9"/>
<line x1="1518.4" y1="355.5" x2="1532.0" y2="355.5" stroke="#1a1a1a" stroke-width="1.9"/>
<line x1="1518.4" y1="312.7" x2="1532.0" y2="312.7" stroke="#1a1a1a" stroke-width="1.9"/>
<text x="1531.0" y="513.0" font-size="14.2" text-anchor="middle" font-weight="normal" fill="#1a1a1a" letter-spacing="0.8">0</text>
<text x="1574.4" y="513.0" font-size="14.2" text-anchor="middle" font-weight="normal" fill="#1a1a1a" letter-spacing="0.8">0.5</text>
<text x="1617.9" y="513.0" font-size="14.2" text-anchor="middle" font-weight="normal" fill="#1a1a1a" letter-spacing="0.8">1</text>
<text x="1661.3" y="513.0" font-size="14.2" text-anchor="middle" font-weight="normal" fill="#1a1a1a" letter-spacing="0.8">1.5</text>
<text x="1704.8" y="513.0" font-size="14.2" text-anchor="middle" font-weight="normal" fill="#1a1a1a" letter-spacing="0.8">2</text>
<text x="1748.2" y="513.0" font-size="14.2" text-anchor="middle" font-weight="normal" fill="#1a1a1a" letter-spacing="0.8">2.5</text>
<text x="1515.0" y="489.0" font-size="14.2" text-anchor="end" font-weight="normal" fill="#1a1a1a" letter-spacing="0.8">0</text>
<text x="1515.0" y="446.2" font-size="14.2" text-anchor="end" font-weight="normal" fill="#1a1a1a" letter-spacing="0.8">0.5</text>
<text x="1515.0" y="403.4" font-size="14.2" text-anchor="end" font-weight="normal" fill="#1a1a1a" letter-spacing="0.8">1</text>
<text x="1515.0" y="360.5" font-size="14.2" text-anchor="end" font-weight="normal" fill="#1a1a1a" letter-spacing="0.8">1.5</text>
<text x="1515.0" y="317.7" font-size="14.2" text-anchor="end" font-weight="normal" fill="#1a1a1a" letter-spacing="0.8">2</text>
<text x="1639.7" y="541.7" font-size="19.5" text-anchor="middle" font-weight="normal" fill="#111">medial-lateral (mm)</text>
<text x="1480.9" y="398.4" font-size="19.5" text-anchor="middle" font-weight="normal" fill="#111" transform="rotate(-90 1480.9 398.4)">dorsal-ventral (mm)</text>
<line x1="1854.0" y1="470.7" x2="2071.0" y2="358.6" stroke="#8cc211" stroke-width="3.6"/>
<circle cx="1864.7" cy="452.9" r="3.75" fill="#1c1c1c"/>
<circle cx="1870.9" cy="445.4" r="3.75" fill="#1c1c1c"/>
<circle cx="1875.2" cy="453.8" r="3.75" fill="#1c1c1c"/>
<circle cx="1875.4" cy="451.2" r="3.75" fill="#1c1c1c"/>
<circle cx="1878.4" cy="443.5" r="3.75" fill="#1c1c1c"/>
<circle cx="1882.9" cy="441.6" r="3.75" fill="#1c1c1c"/>
<circle cx="1884.2" cy="444.8" r="3.75" fill="#1c1c1c"/>
<circle cx="1884.8" cy="449.3" r="3.75" fill="#1c1c1c"/>
<circle cx="1880.3" cy="460.9" r="3.75" fill="#1c1c1c"/>
<circle cx="1885.5" cy="458.9" r="3.75" fill="#1c1c1c"/>
<circle cx="1891.2" cy="452.5" r="3.75" fill="#1c1c1c"/>
<circle cx="1893.8" cy="456.4" r="3.75" fill="#1c1c1c"/>
<circle cx="1902.2" cy="455.1" r="3.75" fill="#1c1c1c"/>
<circle cx="1910.8" cy="438.7" r="3.75" fill="#1c1c1c"/>
<circle cx="1913.3" cy="453.4" r="3.75" fill="#1c1c1c"/>
<circle cx="1917.8" cy="459.6" r="3.75" fill="#1c1c1c"/>
<circle cx="1943.2" cy="432.2" r="3.75" fill="#1c1c1c"/>
<circle cx="1952.9" cy="446.7" r="3.75" fill="#1c1c1c"/>
<circle cx="1957.6" cy="435.8" r="3.75" fill="#1c1c1c"/>
<circle cx="1961.2" cy="444.5" r="3.75" fill="#1c1c1c"/>
<circle cx="1962.5" cy="448.0" r="3.75" fill="#1c1c1c"/>
<circle cx="2025.2" cy="339.7" r="3.75" fill="#1c1c1c"/>
<circle cx="2032.5" cy="333.3" r="3.75" fill="#1c1c1c"/>
<circle cx="2025.0" cy="389.9" r="3.75" fill="#1c1c1c"/>
<circle cx="2029.9" cy="379.8" r="3.75" fill="#1c1c1c"/>
<circle cx="2035.9" cy="367.9" r="3.75" fill="#1c1c1c"/>
<circle cx="2040.8" cy="361.2" r="3.75" fill="#1c1c1c"/>
<circle cx="2042.8" cy="356.7" r="3.75" fill="#1c1c1c"/>
<circle cx="2048.1" cy="353.1" r="3.75" fill="#1c1c1c"/>
<circle cx="2041.9" cy="376.2" r="3.75" fill="#1c1c1c"/>
<circle cx="2049.6" cy="374.3" r="3.75" fill="#1c1c1c"/>
<circle cx="2044.3" cy="387.6" r="3.75" fill="#1c1c1c"/>
<circle cx="2038.6" cy="420.4" r="3.75" fill="#1c1c1c"/>
<circle cx="2060.1" cy="419.7" r="3.75" fill="#1c1c1c"/>
<circle cx="2057.5" cy="339.7" r="3.75" fill="#1c1c1c"/>
<circle cx="2063.7" cy="333.5" r="3.75" fill="#1c1c1c"/>
<circle cx="2066.5" cy="340.4" r="3.75" fill="#1c1c1c"/>
<line x1="1854.0" y1="314.0" x2="1854.0" y2="497.9" stroke="#1a1a1a" stroke-width="1.9"/>
<line x1="1840.0" y1="486.3" x2="2071.9" y2="486.3" stroke="#1a1a1a" stroke-width="1.9"/>
<line x1="1908.2" y1="486.3" x2="1908.2" y2="497.9" stroke="#1a1a1a" stroke-width="1.9"/>
<line x1="1962.5" y1="486.3" x2="1962.5" y2="497.9" stroke="#1a1a1a" stroke-width="1.9"/>
<line x1="2016.8" y1="486.3" x2="2016.8" y2="497.9" stroke="#1a1a1a" stroke-width="1.9"/>
<line x1="2071.0" y1="486.3" x2="2071.0" y2="497.9" stroke="#1a1a1a" stroke-width="1.9"/>
<line x1="1840.0" y1="314.9" x2="1854.0" y2="314.9" stroke="#1a1a1a" stroke-width="1.9"/>
<line x1="1840.0" y1="357.8" x2="1854.0" y2="357.8" stroke="#1a1a1a" stroke-width="1.9"/>
<line x1="1840.0" y1="400.6" x2="1854.0" y2="400.6" stroke="#1a1a1a" stroke-width="1.9"/>
<line x1="1840.0" y1="443.5" x2="1854.0" y2="443.5" stroke="#1a1a1a" stroke-width="1.9"/>
<text x="1854.5" y="514.9" font-size="14.2" text-anchor="middle" font-weight="normal" fill="#1a1a1a" letter-spacing="0.8">0</text>
<text x="1908.8" y="514.9" font-size="14.2" text-anchor="middle" font-weight="normal" fill="#1a1a1a" letter-spacing="0.8">0.5</text>
<text x="1963.0" y="514.9" font-size="14.2" text-anchor="middle" font-weight="normal" fill="#1a1a1a" letter-spacing="0.8">1</text>
<text x="2017.2" y="514.9" font-size="14.2" text-anchor="middle" font-weight="normal" fill="#1a1a1a" letter-spacing="0.8">1.5</text>
<text x="2071.5" y="514.9" font-size="14.2" text-anchor="middle" font-weight="normal" fill="#1a1a1a" letter-spacing="0.8">2</text>
<text x="1838.5" y="320.1" font-size="14.2" text-anchor="end" font-weight="normal" fill="#1a1a1a" letter-spacing="0.8">60</text>
<text x="1838.5" y="362.9" font-size="14.2" text-anchor="end" font-weight="normal" fill="#1a1a1a" letter-spacing="0.8">40</text>
<text x="1838.5" y="405.8" font-size="14.2" text-anchor="end" font-weight="normal" fill="#1a1a1a" letter-spacing="0.8">20</text>
<text x="1838.5" y="448.7" font-size="14.2" text-anchor="end" font-weight="normal" fill="#1a1a1a" letter-spacing="0.8">0</text>
<text x="1838.5" y="491.5" font-size="14.2" text-anchor="end" font-weight="normal" fill="#1a1a1a" letter-spacing="0.8">-20</text>
<text x="1962.0" y="543.1" font-size="19.5" text-anchor="middle" font-weight="normal" fill="#111">anterior-posterior (mm)</text>
<text x="1810.0" y="400.6" font-size="19.5" text-anchor="middle" font-weight="normal" fill="#111" transform="rotate(-90 1810.0 400.6)">dF/F (%)</text>
<text x="1864.4" y="320.1" font-size="14.0" text-anchor="start" font-weight="normal" fill="#1a1a1a" letter-spacing="0.65">r = −0.92</text>
<text x="-1.0" y="601.5" font-size="47.0" text-anchor="start" font-weight="bold" fill="#000">B</text>
<text x="105.8" y="716.5" font-size="38.9" text-anchor="middle" font-weight="normal" fill="#000" transform="rotate(-90 105.8 716.5)">Reward</text>
<line x1="212.4" y1="784.2" x2="212.4" y2="624.0" stroke="#111" stroke-width="1.9" stroke-dasharray="1.9 15.65" stroke-dashoffset="8.0"/>
<line x1="275.9" y1="781.1" x2="275.9" y2="620.9" stroke="#111" stroke-width="1.9" stroke-dasharray="1.9 15.65" stroke-dashoffset="8.0"/>
<line x1="339.5" y1="777.9" x2="339.5" y2="617.7" stroke="#111" stroke-width="1.9" stroke-dasharray="1.9 15.65" stroke-dashoffset="8.0"/>
<line x1="403.0" y1="774.8" x2="403.0" y2="614.6" stroke="#111" stroke-width="1.9" stroke-dasharray="1.9 15.65" stroke-dashoffset="8.0"/>
<line x1="466.6" y1="771.6" x2="466.6" y2="611.4" stroke="#111" stroke-width="1.9" stroke-dasharray="1.9 15.65" stroke-dashoffset="8.0"/>
<line x1="530.1" y1="768.5" x2="530.1" y2="608.3" stroke="#111" stroke-width="1.9" stroke-dasharray="1.9 15.65" stroke-dashoffset="8.0"/>
<line x1="212.4" y1="784.2" x2="530.1" y2="768.5" stroke="#111" stroke-width="1.9" stroke-dasharray="1.9 15.65" stroke-dashoffset="8.0"/>
<line x1="212.4" y1="744.1" x2="530.1" y2="728.5" stroke="#111" stroke-width="1.9" stroke-dasharray="1.9 15.65" stroke-dashoffset="8.0"/>
<line x1="212.4" y1="704.1" x2="530.1" y2="688.4" stroke="#111" stroke-width="1.9" stroke-dasharray="1.9 15.65" stroke-dashoffset="8.0"/>
<line x1="212.4" y1="664.0" x2="530.1" y2="648.4" stroke="#111" stroke-width="1.9" stroke-dasharray="1.9 15.65" stroke-dashoffset="8.0"/>
<line x1="212.4" y1="624.0" x2="530.1" y2="608.3" stroke="#111" stroke-width="1.9" stroke-dasharray="1.9 15.65" stroke-dashoffset="8.0"/>
<line x1="588.2" y1="788.7" x2="588.2" y2="628.5" stroke="#111" stroke-width="1.9" stroke-dasharray="1.9 15.65" stroke-dashoffset="8.0"/>
<line x1="646.2" y1="808.9" x2="646.2" y2="648.7" stroke="#111" stroke-width="1.9" stroke-dasharray="1.9 15.65" stroke-dashoffset="8.0"/>
<line x1="530.1" y1="768.5" x2="646.2" y2="808.9" stroke="#111" stroke-width="1.9" stroke-dasharray="1.9 15.65" stroke-dashoffset="8.0"/>
<line x1="530.1" y1="728.5" x2="646.2" y2="768.9" stroke="#111" stroke-width="1.9" stroke-dasharray="1.9 15.65" stroke-dashoffset="8.0"/>
<line x1="530.1" y1="688.4" x2="646.2" y2="728.8" stroke="#111" stroke-width="1.9" stroke-dasharray="1.9 15.65" stroke-dashoffset="8.0"/>
<line x1="530.1" y1="648.4" x2="646.2" y2="688.8" stroke="#111" stroke-width="1.9" stroke-dasharray="1.9 15.65" stroke-dashoffset="8.0"/>
<line x1="530.1" y1="608.3" x2="646.2" y2="648.7" stroke="#111" stroke-width="1.9" stroke-dasharray="1.9 15.65" stroke-dashoffset="8.0"/>
<line x1="275.9" y1="781.1" x2="390.0" y2="821.1" stroke="#111" stroke-width="1.9" stroke-dasharray="1.9 15.65" stroke-dashoffset="8.0"/>
<line x1="339.5" y1="777.9" x2="454.1" y2="818.0" stroke="#111" stroke-width="1.9" stroke-dasharray="1.9 15.65" stroke-dashoffset="8.0"/>
<line x1="403.0" y1="774.8" x2="518.1" y2="815.0" stroke="#111" stroke-width="1.9" stroke-dasharray="1.9 15.65" stroke-dashoffset="8.0"/>
<line x1="466.6" y1="771.6" x2="582.2" y2="811.9" stroke="#111" stroke-width="1.9" stroke-dasharray="1.9 15.65" stroke-dashoffset="8.0"/>
<line x1="269.2" y1="804.2" x2="588.2" y2="788.7" stroke="#111" stroke-width="1.9" stroke-dasharray="1.9 15.65" stroke-dashoffset="8.0"/>
<circle cx="366.3" cy="660.5" r="6.3" fill="#e4716d"/>
<circle cx="398.8" cy="655.2" r="6.3" fill="#cfccc5"/>
<circle cx="351.4" cy="686.3" r="6.3" fill="#d8a49e"/>
<circle cx="380.5" cy="685.9" r="6.3" fill="#dd918c"/>
<circle cx="402.2" cy="690.1" r="6.3" fill="#db9b95"/>
<circle cx="391.0" cy="705.0" r="6.3" fill="#ff0000"/>
<circle cx="412.2" cy="706.8" r="6.3" fill="#cfccc5"/>
<circle cx="439.1" cy="706.8" r="6.3" fill="#e76662"/>
<circle cx="310.7" cy="710.1" r="6.3" fill="#ea5a57"/>
<circle cx="327.8" cy="709.5" r="6.3" fill="#f0423f"/>
<circle cx="302.4" cy="732.9" r="6.3" fill="#cfccc5"/>
<circle cx="326.7" cy="732.6" r="6.3" fill="#df8782"/>
<circle cx="339.9" cy="731.4" r="6.3" fill="#ff0000"/>
<circle cx="323.0" cy="738.9" r="6.3" fill="#ff0000"/>
<circle cx="352.4" cy="738.9" r="6.3" fill="#dd918c"/>
<circle cx="366.3" cy="741.2" r="6.3" fill="#dd918c"/>
<circle cx="343.2" cy="743.4" r="6.3" fill="#f91b1a"/>
<circle cx="340.2" cy="746.4" r="6.3" fill="#ed4e4b"/>
<circle cx="350.6" cy="746.4" r="6.3" fill="#cfccc5"/>
<circle cx="339.4" cy="750.1" r="6.3" fill="#ff0000"/>
<circle cx="353.2" cy="754.3" r="6.3" fill="#e27c78"/>
<circle cx="323.4" cy="754.6" r="6.3" fill="#ea5a57"/>
<circle cx="339.4" cy="756.9" r="6.3" fill="#ff0000"/>
<circle cx="333.5" cy="754.6" r="6.3" fill="#ff0000"/>
<circle cx="303.9" cy="756.9" r="6.3" fill="#ff0000"/>
<circle cx="323.0" cy="762.1" r="6.3" fill="#ff0000"/>
<circle cx="337.9" cy="768.8" r="6.3" fill="#f33533"/>
<circle cx="384.7" cy="767.3" r="6.3" fill="#cfccc5"/>
<circle cx="452.9" cy="678.4" r="6.3" fill="#ff0000"/>
<circle cx="456.9" cy="694.3" r="6.3" fill="#ff0000"/>
<circle cx="447.2" cy="696.5" r="6.3" fill="#d6ada7"/>
<circle cx="483.5" cy="697.1" r="6.3" fill="#cfccc5"/>
<circle cx="466.3" cy="709.9" r="6.3" fill="#e4716d"/>
<circle cx="514.7" cy="671.4" r="6.3" fill="#cfccc5"/>
<circle cx="529.1" cy="672.4" r="6.3" fill="#cfccc5"/>
<circle cx="561.5" cy="661.7" r="6.3" fill="#cfccc5"/>
<circle cx="594.8" cy="704.3" r="6.3" fill="#cfccc5"/>
<circle cx="528.2" cy="716.2" r="6.3" fill="#cfccc5"/>
<circle cx="605.1" cy="730.7" r="6.3" fill="#cfccc5"/>
<circle cx="600.8" cy="742.8" r="6.3" fill="#cfccc5"/>
<circle cx="583.2" cy="648.5" r="6.3" fill="#e76662"/>
<circle cx="553.3" cy="663.2" r="6.3" fill="#ea5a57"/>
<circle cx="544.3" cy="666.6" r="6.3" fill="#dd918c"/>
<circle cx="548.1" cy="667.7" r="6.3" fill="#e27c78"/>
<circle cx="546.9" cy="676.6" r="6.3" fill="#d6ada7"/>
<circle cx="563.0" cy="682.1" r="6.3" fill="#dd918c"/>
<circle cx="582.1" cy="681.4" r="6.3" fill="#ea5a57"/>
<circle cx="536.1" cy="689.3" r="6.3" fill="#d8a49e"/>
<circle cx="589.9" cy="693.4" r="6.3" fill="#d6ada7"/>
<circle cx="577.2" cy="697.2" r="6.3" fill="#d4b5af"/>
<circle cx="539.5" cy="702.0" r="6.3" fill="#ff0000"/>
<circle cx="537.6" cy="703.8" r="6.3" fill="#ff0000"/>
<circle cx="560.8" cy="714.0" r="6.3" fill="#f0423f"/>
<circle cx="562.2" cy="717.7" r="6.3" fill="#ea5a57"/>
<circle cx="573.5" cy="718.9" r="6.3" fill="#d8a49e"/>
<circle cx="540.9" cy="722.6" r="6.3" fill="#d6ada7"/>
<circle cx="539.8" cy="719.2" r="6.3" fill="#e27c78"/>
<polyline points="212.4,624.0 212.4,784.2 326.0,824.1 646.2,808.9" fill="none" stroke="#000" stroke-width="2.2" stroke-linejoin="miter"/>
<line x1="204.9" y1="781.9" x2="212.4" y2="784.2" stroke="#000" stroke-width="2.0"/>
<text x="201.9" y="782.8" font-size="14.0" text-anchor="end" font-weight="normal" fill="#1a1a1a">0</text>
<line x1="204.9" y1="741.9" x2="212.4" y2="744.1" stroke="#000" stroke-width="2.0"/>
<text x="201.9" y="744.8" font-size="14.0" text-anchor="end" font-weight="normal" fill="#1a1a1a">0.5</text>
<line x1="204.9" y1="701.8" x2="212.4" y2="704.1" stroke="#000" stroke-width="2.0"/>
<text x="201.9" y="704.7" font-size="14.0" text-anchor="end" font-weight="normal" fill="#1a1a1a">1</text>
<line x1="204.9" y1="661.8" x2="212.4" y2="664.0" stroke="#000" stroke-width="2.0"/>
<text x="201.9" y="664.6" font-size="14.0" text-anchor="end" font-weight="normal" fill="#1a1a1a">1.5</text>
<text x="201.9" y="624.6" font-size="14.0" text-anchor="end" font-weight="normal" fill="#1a1a1a">2</text>
<line x1="204.9" y1="784.8" x2="212.4" y2="784.2" stroke="#000" stroke-width="2.0"/>
<text x="200.1" y="799.1" font-size="14.0" text-anchor="middle" font-weight="normal" fill="#1a1a1a">0</text>
<line x1="261.7" y1="804.8" x2="269.2" y2="804.2" stroke="#000" stroke-width="2.0"/>
<text x="256.9" y="817.7" font-size="14.0" text-anchor="middle" font-weight="normal" fill="#1a1a1a">1</text>
<line x1="318.5" y1="824.7" x2="326.0" y2="824.1" stroke="#000" stroke-width="2.0"/>
<text x="313.7" y="837.6" font-size="14.0" text-anchor="middle" font-weight="normal" fill="#1a1a1a">2</text>
<line x1="326.0" y1="824.1" x2="333.0" y2="827.3" stroke="#000" stroke-width="2.0"/>
<text x="335.7" y="840.5" font-size="14.0" text-anchor="start" font-weight="normal" fill="#1a1a1a">0</text>
<line x1="390.0" y1="821.1" x2="397.0" y2="824.3" stroke="#000" stroke-width="2.0"/>
<text x="399.7" y="837.5" font-size="14.0" text-anchor="start" font-weight="normal" fill="#1a1a1a">0.5</text>
<line x1="454.1" y1="818.0" x2="461.1" y2="821.2" stroke="#000" stroke-width="2.0"/>
<text x="463.8" y="834.4" font-size="14.0" text-anchor="start" font-weight="normal" fill="#1a1a1a">1</text>
<line x1="518.1" y1="815.0" x2="525.1" y2="818.2" stroke="#000" stroke-width="2.0"/>
<text x="527.8" y="831.4" font-size="14.0" text-anchor="start" font-weight="normal" fill="#1a1a1a">1.5</text>
<line x1="582.2" y1="811.9" x2="589.2" y2="815.1" stroke="#000" stroke-width="2.0"/>
<text x="591.9" y="828.3" font-size="14.0" text-anchor="start" font-weight="normal" fill="#1a1a1a">2</text>
<line x1="646.2" y1="808.9" x2="653.2" y2="812.1" stroke="#000" stroke-width="2.0"/>
<text x="655.9" y="825.3" font-size="14.0" text-anchor="start" font-weight="normal" fill="#1a1a1a">2.5</text>
<text x="174.9" y="704.1" font-size="15.0" text-anchor="middle" font-weight="normal" fill="#1a1a1a" transform="rotate(-90 174.9 704.1)">dorsal−ventral</text>
<text x="247.3" y="836.7" font-size="15.0" text-anchor="middle" font-weight="normal" fill="#1a1a1a" transform="rotate(19.3 247.3 836.7)">medial−lateral</text>
<text x="508.0" y="855.2" font-size="15.0" text-anchor="middle" font-weight="normal" fill="#1a1a1a" transform="rotate(-3.2 508.0 855.2)">anterior−posterior</text>
<rect x="695.1" y="601.4" width="26.60" height="221.4" fill="url(#cb)"/>
<text x="724.5" y="606.9" font-size="14" text-anchor="start" font-weight="normal" fill="#111">25%</text>
<text x="724.5" y="717.5" font-size="14" text-anchor="start" font-weight="normal" fill="#111">0%</text>
<text x="724.5" y="827.3" font-size="14" text-anchor="start" font-weight="normal" fill="#111">-25%</text>
<line x1="925.4" y1="600.4" x2="925.4" y2="771.7" stroke="#8c8c8c" stroke-width="1.7" stroke-dasharray="7.75 7.75" stroke-dashoffset="3.9"/>
<line x1="968.9" y1="600.4" x2="968.9" y2="771.7" stroke="#8c8c8c" stroke-width="1.7" stroke-dasharray="7.75 7.75" stroke-dashoffset="3.9"/>
<line x1="1012.3" y1="600.4" x2="1012.3" y2="771.7" stroke="#8c8c8c" stroke-width="1.7" stroke-dasharray="7.75 7.75" stroke-dashoffset="3.9"/>
<line x1="1055.8" y1="600.4" x2="1055.8" y2="771.7" stroke="#8c8c8c" stroke-width="1.7" stroke-dasharray="7.75 7.75" stroke-dashoffset="3.9"/>
<line x1="1099.2" y1="600.4" x2="1099.2" y2="771.7" stroke="#8c8c8c" stroke-width="1.7" stroke-dasharray="7.75 7.75" stroke-dashoffset="3.9"/>
<line x1="882.0" y1="728.8" x2="1099.2" y2="728.8" stroke="#8c8c8c" stroke-width="1.7" stroke-dasharray="7.75 7.75" stroke-dashoffset="4.4"/>
<line x1="882.0" y1="686.0" x2="1099.2" y2="686.0" stroke="#8c8c8c" stroke-width="1.7" stroke-dasharray="7.75 7.75" stroke-dashoffset="4.4"/>
<line x1="882.0" y1="643.2" x2="1099.2" y2="643.2" stroke="#8c8c8c" stroke-width="1.7" stroke-dasharray="7.75 7.75" stroke-dashoffset="4.4"/>
<line x1="882.0" y1="600.4" x2="1099.2" y2="600.4" stroke="#8c8c8c" stroke-width="1.7" stroke-dasharray="7.75 7.75" stroke-dashoffset="4.4"/>
<circle cx="905.0" cy="721.1" r="5.55" fill="#cfccc5"/>
<circle cx="945.1" cy="739.4" r="5.55" fill="#ff0000"/>
<circle cx="923.3" cy="739.4" r="5.55" fill="#ff0000"/>
<circle cx="928.7" cy="673.5" r="5.55" fill="#d8a49e"/>
<circle cx="943.2" cy="690.1" r="5.55" fill="#f33533"/>
<circle cx="918.1" cy="697.1" r="5.55" fill="#ed4e4b"/>
<circle cx="918.8" cy="718.0" r="5.55" fill="#ff0000"/>
<circle cx="928.1" cy="716.4" r="5.55" fill="#df8782"/>
<circle cx="936.6" cy="725.2" r="5.55" fill="#f91b1a"/>
<circle cx="937.9" cy="720.0" r="5.55" fill="#ff0000"/>
<circle cx="941.1" cy="736.5" r="5.55" fill="#ff0000"/>
<circle cx="945.6" cy="728.4" r="5.55" fill="#ff0000"/>
<circle cx="947.5" cy="731.5" r="5.55" fill="#ff0000"/>
<circle cx="950.7" cy="724.1" r="5.55" fill="#cfccc5"/>
<circle cx="929.4" cy="736.9" r="5.55" fill="#ea5a57"/>
<circle cx="933.8" cy="749.4" r="5.55" fill="#f33533"/>
<line x1="882.0" y1="599.5" x2="882.0" y2="784.3" stroke="#1a1a1a" stroke-width="1.9"/>
<line x1="868.4" y1="771.7" x2="1100.1" y2="771.7" stroke="#1a1a1a" stroke-width="1.9"/>
<line x1="925.4" y1="771.7" x2="925.4" y2="784.3" stroke="#1a1a1a" stroke-width="1.9"/>
<line x1="968.9" y1="771.7" x2="968.9" y2="784.3" stroke="#1a1a1a" stroke-width="1.9"/>
<line x1="1012.3" y1="771.7" x2="1012.3" y2="784.3" stroke="#1a1a1a" stroke-width="1.9"/>
<line x1="1055.8" y1="771.7" x2="1055.8" y2="784.3" stroke="#1a1a1a" stroke-width="1.9"/>
<line x1="1099.2" y1="771.7" x2="1099.2" y2="784.3" stroke="#1a1a1a" stroke-width="1.9"/>
<line x1="868.4" y1="728.8" x2="882.0" y2="728.8" stroke="#1a1a1a" stroke-width="1.9"/>
<line x1="868.4" y1="686.0" x2="882.0" y2="686.0" stroke="#1a1a1a" stroke-width="1.9"/>
<line x1="868.4" y1="643.2" x2="882.0" y2="643.2" stroke="#1a1a1a" stroke-width="1.9"/>
<line x1="868.4" y1="600.4" x2="882.0" y2="600.4" stroke="#1a1a1a" stroke-width="1.9"/>
<text x="881.0" y="800.7" font-size="14.2" text-anchor="middle" font-weight="normal" fill="#1a1a1a" letter-spacing="0.8">0</text>
<text x="924.4" y="800.7" font-size="14.2" text-anchor="middle" font-weight="normal" fill="#1a1a1a" letter-spacing="0.8">0.5</text>
<text x="967.9" y="800.7" font-size="14.2" text-anchor="middle" font-weight="normal" fill="#1a1a1a" letter-spacing="0.8">1</text>
<text x="1011.3" y="800.7" font-size="14.2" text-anchor="middle" font-weight="normal" fill="#1a1a1a" letter-spacing="0.8">1.5</text>
<text x="1054.8" y="800.7" font-size="14.2" text-anchor="middle" font-weight="normal" fill="#1a1a1a" letter-spacing="0.8">2</text>
<text x="1098.2" y="800.7" font-size="14.2" text-anchor="middle" font-weight="normal" fill="#1a1a1a" letter-spacing="0.8">2.5</text>
<text x="865.0" y="776.7" font-size="14.2" text-anchor="end" font-weight="normal" fill="#1a1a1a" letter-spacing="0.8">0</text>
<text x="865.0" y="733.8" font-size="14.2" text-anchor="end" font-weight="normal" fill="#1a1a1a" letter-spacing="0.8">0.5</text>
<text x="865.0" y="691.0" font-size="14.2" text-anchor="end" font-weight="normal" fill="#1a1a1a" letter-spacing="0.8">1</text>
<text x="865.0" y="648.2" font-size="14.2" text-anchor="end" font-weight="normal" fill="#1a1a1a" letter-spacing="0.8">1.5</text>
<text x="865.0" y="605.4" font-size="14.2" text-anchor="end" font-weight="normal" fill="#1a1a1a" letter-spacing="0.8">2</text>
<text x="989.9" y="829.4" font-size="19.5" text-anchor="middle" font-weight="normal" fill="#111">medial-lateral (mm)</text>
<text x="833.0" y="686.0" font-size="19.5" text-anchor="middle" font-weight="normal" fill="#111" transform="rotate(-90 833.0 686.0)">dorsal-ventral (mm)</text>
<line x1="1250.4" y1="600.4" x2="1250.4" y2="771.7" stroke="#8c8c8c" stroke-width="1.7" stroke-dasharray="7.75 7.75" stroke-dashoffset="3.9"/>
<line x1="1293.9" y1="600.4" x2="1293.9" y2="771.7" stroke="#8c8c8c" stroke-width="1.7" stroke-dasharray="7.75 7.75" stroke-dashoffset="3.9"/>
<line x1="1337.3" y1="600.4" x2="1337.3" y2="771.7" stroke="#8c8c8c" stroke-width="1.7" stroke-dasharray="7.75 7.75" stroke-dashoffset="3.9"/>
<line x1="1380.8" y1="600.4" x2="1380.8" y2="771.7" stroke="#8c8c8c" stroke-width="1.7" stroke-dasharray="7.75 7.75" stroke-dashoffset="3.9"/>
<line x1="1424.2" y1="600.4" x2="1424.2" y2="771.7" stroke="#8c8c8c" stroke-width="1.7" stroke-dasharray="7.75 7.75" stroke-dashoffset="3.9"/>
<line x1="1207.0" y1="728.8" x2="1424.2" y2="728.8" stroke="#8c8c8c" stroke-width="1.7" stroke-dasharray="7.75 7.75" stroke-dashoffset="4.4"/>
<line x1="1207.0" y1="686.0" x2="1424.2" y2="686.0" stroke="#8c8c8c" stroke-width="1.7" stroke-dasharray="7.75 7.75" stroke-dashoffset="4.4"/>
<line x1="1207.0" y1="643.2" x2="1424.2" y2="643.2" stroke="#8c8c8c" stroke-width="1.7" stroke-dasharray="7.75 7.75" stroke-dashoffset="4.4"/>
<line x1="1207.0" y1="600.4" x2="1424.2" y2="600.4" stroke="#8c8c8c" stroke-width="1.7" stroke-dasharray="7.75 7.75" stroke-dashoffset="4.4"/>
<circle cx="1265.5" cy="642.5" r="5.55" fill="#cfccc5"/>
<circle cx="1252.6" cy="649.5" r="5.55" fill="#e76662"/>
<circle cx="1320.3" cy="653.3" r="5.55" fill="#ff0000"/>
<circle cx="1269.2" cy="670.0" r="5.55" fill="#e4716d"/>
<circle cx="1270.8" cy="675.3" r="5.55" fill="#dd918c"/>
<circle cx="1320.3" cy="672.4" r="5.55" fill="#cfccc5"/>
<circle cx="1324.0" cy="668.6" r="5.55" fill="#d8a49e"/>
<circle cx="1338.5" cy="679.3" r="5.55" fill="#e76662"/>
<circle cx="1331.6" cy="665.6" r="5.55" fill="#ff0000"/>
<circle cx="1328.0" cy="677.6" r="5.55" fill="#ea5a57"/>
<circle cx="1293.4" cy="685.6" r="5.55" fill="#cfccc5"/>
<circle cx="1277.1" cy="686.9" r="5.55" fill="#ff0000"/>
<circle cx="1266.6" cy="722.4" r="5.55" fill="#df8782"/>
<circle cx="1238.1" cy="727.2" r="5.55" fill="#e4716d"/>
<circle cx="1251.0" cy="738.0" r="5.55" fill="#e76662"/>
<circle cx="1271.9" cy="747.1" r="5.55" fill="#cfccc5"/>
<line x1="1207.0" y1="599.5" x2="1207.0" y2="784.3" stroke="#1a1a1a" stroke-width="1.9"/>
<line x1="1193.4" y1="771.7" x2="1425.1" y2="771.7" stroke="#1a1a1a" stroke-width="1.9"/>
<line x1="1250.4" y1="771.7" x2="1250.4" y2="784.3" stroke="#1a1a1a" stroke-width="1.9"/>
<line x1="1293.9" y1="771.7" x2="1293.9" y2="784.3" stroke="#1a1a1a" stroke-width="1.9"/>
<line x1="1337.3" y1="771.7" x2="1337.3" y2="784.3" stroke="#1a1a1a" stroke-width="1.9"/>
<line x1="1380.8" y1="771.7" x2="1380.8" y2="784.3" stroke="#1a1a1a" stroke-width="1.9"/>
<line x1="1424.2" y1="771.7" x2="1424.2" y2="784.3" stroke="#1a1a1a" stroke-width="1.9"/>
<line x1="1193.4" y1="728.8" x2="1207.0" y2="728.8" stroke="#1a1a1a" stroke-width="1.9"/>
<line x1="1193.4" y1="686.0" x2="1207.0" y2="686.0" stroke="#1a1a1a" stroke-width="1.9"/>
<line x1="1193.4" y1="643.2" x2="1207.0" y2="643.2" stroke="#1a1a1a" stroke-width="1.9"/>
<line x1="1193.4" y1="600.4" x2="1207.0" y2="600.4" stroke="#1a1a1a" stroke-width="1.9"/>
<text x="1206.0" y="800.7" font-size="14.2" text-anchor="middle" font-weight="normal" fill="#1a1a1a" letter-spacing="0.8">0</text>
<text x="1249.4" y="800.7" font-size="14.2" text-anchor="middle" font-weight="normal" fill="#1a1a1a" letter-spacing="0.8">0.5</text>
<text x="1292.9" y="800.7" font-size="14.2" text-anchor="middle" font-weight="normal" fill="#1a1a1a" letter-spacing="0.8">1</text>
<text x="1336.3" y="800.7" font-size="14.2" text-anchor="middle" font-weight="normal" fill="#1a1a1a" letter-spacing="0.8">1.5</text>
<text x="1379.8" y="800.7" font-size="14.2" text-anchor="middle" font-weight="normal" fill="#1a1a1a" letter-spacing="0.8">2</text>
<text x="1423.2" y="800.7" font-size="14.2" text-anchor="middle" font-weight="normal" fill="#1a1a1a" letter-spacing="0.8">2.5</text>
<text x="1190.0" y="776.7" font-size="14.2" text-anchor="end" font-weight="normal" fill="#1a1a1a" letter-spacing="0.8">0</text>
<text x="1190.0" y="733.8" font-size="14.2" text-anchor="end" font-weight="normal" fill="#1a1a1a" letter-spacing="0.8">0.5</text>
<text x="1190.0" y="691.0" font-size="14.2" text-anchor="end" font-weight="normal" fill="#1a1a1a" letter-spacing="0.8">1</text>
<text x="1190.0" y="648.2" font-size="14.2" text-anchor="end" font-weight="normal" fill="#1a1a1a" letter-spacing="0.8">1.5</text>
<text x="1190.0" y="605.4" font-size="14.2" text-anchor="end" font-weight="normal" fill="#1a1a1a" letter-spacing="0.8">2</text>
<text x="1318.6" y="829.4" font-size="19.5" text-anchor="middle" font-weight="normal" fill="#111">medial-lateral (mm)</text>
<text x="1154.2" y="686.0" font-size="19.5" text-anchor="middle" font-weight="normal" fill="#111" transform="rotate(-90 1154.2 686.0)">dorsal-ventral (mm)</text>
<line x1="1575.4" y1="600.4" x2="1575.4" y2="771.7" stroke="#8c8c8c" stroke-width="1.7" stroke-dasharray="7.75 7.75" stroke-dashoffset="3.9"/>
<line x1="1618.9" y1="600.4" x2="1618.9" y2="771.7" stroke="#8c8c8c" stroke-width="1.7" stroke-dasharray="7.75 7.75" stroke-dashoffset="3.9"/>
<line x1="1662.3" y1="600.4" x2="1662.3" y2="771.7" stroke="#8c8c8c" stroke-width="1.7" stroke-dasharray="7.75 7.75" stroke-dashoffset="3.9"/>
<line x1="1705.8" y1="600.4" x2="1705.8" y2="771.7" stroke="#8c8c8c" stroke-width="1.7" stroke-dasharray="7.75 7.75" stroke-dashoffset="3.9"/>
<line x1="1749.2" y1="600.4" x2="1749.2" y2="771.7" stroke="#8c8c8c" stroke-width="1.7" stroke-dasharray="7.75 7.75" stroke-dashoffset="3.9"/>
<line x1="1532.0" y1="728.8" x2="1749.2" y2="728.8" stroke="#8c8c8c" stroke-width="1.7" stroke-dasharray="7.75 7.75" stroke-dashoffset="4.4"/>
<line x1="1532.0" y1="686.0" x2="1749.2" y2="686.0" stroke="#8c8c8c" stroke-width="1.7" stroke-dasharray="7.75 7.75" stroke-dashoffset="4.4"/>
<line x1="1532.0" y1="643.2" x2="1749.2" y2="643.2" stroke="#8c8c8c" stroke-width="1.7" stroke-dasharray="7.75 7.75" stroke-dashoffset="4.4"/>
<line x1="1532.0" y1="600.4" x2="1749.2" y2="600.4" stroke="#8c8c8c" stroke-width="1.7" stroke-dasharray="7.75 7.75" stroke-dashoffset="4.4"/>
<circle cx="1646.9" cy="650.1" r="5.55" fill="#cfccc5"/>
<circle cx="1655.0" cy="648.9" r="5.55" fill="#dd918c"/>
<circle cx="1656.6" cy="644.9" r="5.55" fill="#dd918c"/>
<circle cx="1658.2" cy="638.9" r="5.55" fill="#cfccc5"/>
<circle cx="1660.3" cy="653.0" r="5.55" fill="#d6ada7"/>
<circle cx="1673.2" cy="655.4" r="5.55" fill="#dd918c"/>
<circle cx="1676.7" cy="653.8" r="5.55" fill="#e76662"/>
<circle cx="1688.8" cy="620.3" r="5.55" fill="#e76662"/>
<circle cx="1678.0" cy="635.2" r="5.55" fill="#ea5a57"/>
<circle cx="1661.5" cy="663.5" r="5.55" fill="#d8a49e"/>
<circle cx="1684.8" cy="664.3" r="5.55" fill="#d6ada7"/>
<circle cx="1664.7" cy="674.0" r="5.55" fill="#ff0000"/>
<circle cx="1671.9" cy="675.3" r="5.55" fill="#ff0000"/>
<circle cx="1675.2" cy="670.2" r="5.55" fill="#d4b5af"/>
<circle cx="1686.4" cy="674.5" r="5.55" fill="#cfccc5"/>
<circle cx="1676.7" cy="691.7" r="5.55" fill="#d6ada7"/>
<circle cx="1677.6" cy="686.8" r="5.55" fill="#ed4e4b"/>
<circle cx="1680.0" cy="682.8" r="5.55" fill="#ed4e4b"/>
<circle cx="1686.9" cy="687.4" r="5.55" fill="#d8a49e"/>
<circle cx="1664.7" cy="688.0" r="5.55" fill="#cfccc5"/>
<circle cx="1652.9" cy="693.8" r="5.55" fill="#e27c78"/>
<circle cx="1698.0" cy="696.9" r="5.55" fill="#cfccc5"/>
<circle cx="1702.9" cy="707.1" r="5.55" fill="#cfccc5"/>
<line x1="1532.0" y1="599.5" x2="1532.0" y2="784.3" stroke="#1a1a1a" stroke-width="1.9"/>
<line x1="1518.4" y1="771.7" x2="1750.1" y2="771.7" stroke="#1a1a1a" stroke-width="1.9"/>
<line x1="1575.4" y1="771.7" x2="1575.4" y2="784.3" stroke="#1a1a1a" stroke-width="1.9"/>
<line x1="1618.9" y1="771.7" x2="1618.9" y2="784.3" stroke="#1a1a1a" stroke-width="1.9"/>
<line x1="1662.3" y1="771.7" x2="1662.3" y2="784.3" stroke="#1a1a1a" stroke-width="1.9"/>
<line x1="1705.8" y1="771.7" x2="1705.8" y2="784.3" stroke="#1a1a1a" stroke-width="1.9"/>
<line x1="1749.2" y1="771.7" x2="1749.2" y2="784.3" stroke="#1a1a1a" stroke-width="1.9"/>
<line x1="1518.4" y1="728.8" x2="1532.0" y2="728.8" stroke="#1a1a1a" stroke-width="1.9"/>
<line x1="1518.4" y1="686.0" x2="1532.0" y2="686.0" stroke="#1a1a1a" stroke-width="1.9"/>
<line x1="1518.4" y1="643.2" x2="1532.0" y2="643.2" stroke="#1a1a1a" stroke-width="1.9"/>
<line x1="1518.4" y1="600.4" x2="1532.0" y2="600.4" stroke="#1a1a1a" stroke-width="1.9"/>
<text x="1531.0" y="800.7" font-size="14.2" text-anchor="middle" font-weight="normal" fill="#1a1a1a" letter-spacing="0.8">0</text>
<text x="1574.4" y="800.7" font-size="14.2" text-anchor="middle" font-weight="normal" fill="#1a1a1a" letter-spacing="0.8">0.5</text>
<text x="1617.9" y="800.7" font-size="14.2" text-anchor="middle" font-weight="normal" fill="#1a1a1a" letter-spacing="0.8">1</text>
<text x="1661.3" y="800.7" font-size="14.2" text-anchor="middle" font-weight="normal" fill="#1a1a1a" letter-spacing="0.8">1.5</text>
<text x="1704.8" y="800.7" font-size="14.2" text-anchor="middle" font-weight="normal" fill="#1a1a1a" letter-spacing="0.8">2</text>
<text x="1748.2" y="800.7" font-size="14.2" text-anchor="middle" font-weight="normal" fill="#1a1a1a" letter-spacing="0.8">2.5</text>
<text x="1515.0" y="776.7" font-size="14.2" text-anchor="end" font-weight="normal" fill="#1a1a1a" letter-spacing="0.8">0</text>
<text x="1515.0" y="733.8" font-size="14.2" text-anchor="end" font-weight="normal" fill="#1a1a1a" letter-spacing="0.8">0.5</text>
<text x="1515.0" y="691.0" font-size="14.2" text-anchor="end" font-weight="normal" fill="#1a1a1a" letter-spacing="0.8">1</text>
<text x="1515.0" y="648.2" font-size="14.2" text-anchor="end" font-weight="normal" fill="#1a1a1a" letter-spacing="0.8">1.5</text>
<text x="1515.0" y="605.4" font-size="14.2" text-anchor="end" font-weight="normal" fill="#1a1a1a" letter-spacing="0.8">2</text>
<text x="1639.7" y="829.4" font-size="19.5" text-anchor="middle" font-weight="normal" fill="#111">medial-lateral (mm)</text>
<text x="1480.9" y="686.0" font-size="19.5" text-anchor="middle" font-weight="normal" fill="#111" transform="rotate(-90 1480.9 686.0)">dorsal-ventral (mm)</text>
<line x1="1854.0" y1="679.4" x2="2071.0" y2="723.3" stroke="#8cc211" stroke-width="3.6"/>
<circle cx="1865.3" cy="661.7" r="3.75" fill="#1c1c1c"/>
<circle cx="1871.6" cy="665.3" r="3.75" fill="#1c1c1c"/>
<circle cx="1875.2" cy="677.5" r="3.75" fill="#1c1c1c"/>
<circle cx="1878.4" cy="645.1" r="3.75" fill="#1c1c1c"/>
<circle cx="1883.5" cy="647.5" r="3.75" fill="#1c1c1c"/>
<circle cx="1884.8" cy="637.2" r="3.75" fill="#1c1c1c"/>
<circle cx="1888.4" cy="658.8" r="3.75" fill="#1c1c1c"/>
<circle cx="1876.1" cy="699.4" r="3.75" fill="#1c1c1c"/>
<circle cx="1875.8" cy="706.4" r="3.75" fill="#1c1c1c"/>
<circle cx="1879.7" cy="709.0" r="3.75" fill="#1c1c1c"/>
<circle cx="1884.8" cy="714.1" r="3.75" fill="#1c1c1c"/>
<circle cx="1885.5" cy="703.9" r="3.75" fill="#1c1c1c"/>
<circle cx="1892.5" cy="700.6" r="3.75" fill="#1c1c1c"/>
<circle cx="1894.4" cy="694.5" r="3.75" fill="#1c1c1c"/>
<circle cx="1902.8" cy="682.0" r="3.75" fill="#1c1c1c"/>
<circle cx="1911.1" cy="716.7" r="3.75" fill="#1c1c1c"/>
<circle cx="1913.7" cy="722.5" r="3.75" fill="#1c1c1c"/>
<circle cx="1918.8" cy="721.2" r="3.75" fill="#1c1c1c"/>
<circle cx="1943.9" cy="710.3" r="3.75" fill="#1c1c1c"/>
<circle cx="1953.5" cy="725.7" r="3.75" fill="#1c1c1c"/>
<circle cx="1958.3" cy="674.9" r="3.75" fill="#1c1c1c"/>
<circle cx="1962.5" cy="676.2" r="3.75" fill="#1c1c1c"/>
<circle cx="1963.1" cy="711.3" r="3.75" fill="#1c1c1c"/>
<circle cx="2025.8" cy="680.7" r="3.75" fill="#1c1c1c"/>
<circle cx="2033.1" cy="692.7" r="3.75" fill="#1c1c1c"/>
<circle cx="2025.7" cy="729.3" r="3.75" fill="#1c1c1c"/>
<circle cx="2030.6" cy="726.6" r="3.75" fill="#1c1c1c"/>
<circle cx="2037.0" cy="709.9" r="3.75" fill="#1c1c1c"/>
<circle cx="2042.8" cy="705.8" r="3.75" fill="#1c1c1c"/>
<circle cx="2044.0" cy="709.0" r="3.75" fill="#1c1c1c"/>
<circle cx="2038.9" cy="718.0" r="3.75" fill="#1c1c1c"/>
<circle cx="2045.3" cy="719.9" r="3.75" fill="#1c1c1c"/>
<circle cx="2041.5" cy="728.9" r="3.75" fill="#1c1c1c"/>
<circle cx="2046.0" cy="724.4" r="3.75" fill="#1c1c1c"/>
<circle cx="2049.8" cy="727.6" r="3.75" fill="#1c1c1c"/>
<circle cx="2058.2" cy="710.7" r="3.75" fill="#1c1c1c"/>
<circle cx="2064.6" cy="710.7" r="3.75" fill="#1c1c1c"/>
<circle cx="2060.7" cy="730.2" r="3.75" fill="#1c1c1c"/>
<circle cx="2067.1" cy="730.2" r="3.75" fill="#1c1c1c"/>
<line x1="1854.0" y1="602.0" x2="1854.0" y2="785.9" stroke="#1a1a1a" stroke-width="1.9"/>
<line x1="1840.0" y1="774.3" x2="2071.9" y2="774.3" stroke="#1a1a1a" stroke-width="1.9"/>
<line x1="1908.2" y1="774.3" x2="1908.2" y2="785.9" stroke="#1a1a1a" stroke-width="1.9"/>
<line x1="1962.5" y1="774.3" x2="1962.5" y2="785.9" stroke="#1a1a1a" stroke-width="1.9"/>
<line x1="2016.8" y1="774.3" x2="2016.8" y2="785.9" stroke="#1a1a1a" stroke-width="1.9"/>
<line x1="2071.0" y1="774.3" x2="2071.0" y2="785.9" stroke="#1a1a1a" stroke-width="1.9"/>
<line x1="1840.0" y1="602.9" x2="1854.0" y2="602.9" stroke="#1a1a1a" stroke-width="1.9"/>
<line x1="1840.0" y1="645.8" x2="1854.0" y2="645.8" stroke="#1a1a1a" stroke-width="1.9"/>
<line x1="1840.0" y1="688.6" x2="1854.0" y2="688.6" stroke="#1a1a1a" stroke-width="1.9"/>
<line x1="1840.0" y1="731.4" x2="1854.0" y2="731.4" stroke="#1a1a1a" stroke-width="1.9"/>
<text x="1854.5" y="802.9" font-size="14.2" text-anchor="middle" font-weight="normal" fill="#1a1a1a" letter-spacing="0.8">0</text>
<text x="1908.8" y="802.9" font-size="14.2" text-anchor="middle" font-weight="normal" fill="#1a1a1a" letter-spacing="0.8">0.5</text>
<text x="1963.0" y="802.9" font-size="14.2" text-anchor="middle" font-weight="normal" fill="#1a1a1a" letter-spacing="0.8">1</text>
<text x="2017.2" y="802.9" font-size="14.2" text-anchor="middle" font-weight="normal" fill="#1a1a1a" letter-spacing="0.8">1.5</text>
<text x="2071.5" y="802.9" font-size="14.2" text-anchor="middle" font-weight="normal" fill="#1a1a1a" letter-spacing="0.8">2</text>
<text x="1838.5" y="608.1" font-size="14.2" text-anchor="end" font-weight="normal" fill="#1a1a1a" letter-spacing="0.8">60</text>
<text x="1838.5" y="651.0" font-size="14.2" text-anchor="end" font-weight="normal" fill="#1a1a1a" letter-spacing="0.8">40</text>
<text x="1838.5" y="693.8" font-size="14.2" text-anchor="end" font-weight="normal" fill="#1a1a1a" letter-spacing="0.8">20</text>
<text x="1838.5" y="736.6" font-size="14.2" text-anchor="end" font-weight="normal" fill="#1a1a1a" letter-spacing="0.8">0</text>
<text x="1838.5" y="779.5" font-size="14.2" text-anchor="end" font-weight="normal" fill="#1a1a1a" letter-spacing="0.8">-20</text>
<text x="1962.0" y="831.1" font-size="19.5" text-anchor="middle" font-weight="normal" fill="#111">anterior-posterior (mm)</text>
<text x="1810.0" y="688.6" font-size="19.5" text-anchor="middle" font-weight="normal" fill="#111" transform="rotate(-90 1810.0 688.6)">dF/F (%)</text>
<text x="1864.4" y="608.1" font-size="14.0" text-anchor="start" font-weight="normal" fill="#1a1a1a" letter-spacing="0.65">r = 0.61</text>
<text x="-1.0" y="888.0" font-size="47.0" text-anchor="start" font-weight="bold" fill="#000">C</text>
<text x="105.8" y="1007.3" font-size="38.9" text-anchor="middle" font-weight="normal" fill="#000" transform="rotate(-90 105.8 1007.3)">Nothing</text>
<line x1="212.4" y1="1078.4" x2="212.4" y2="918.2" stroke="#111" stroke-width="1.9" stroke-dasharray="1.9 15.65" stroke-dashoffset="8.0"/>
<line x1="275.9" y1="1075.3" x2="275.9" y2="915.1" stroke="#111" stroke-width="1.9" stroke-dasharray="1.9 15.65" stroke-dashoffset="8.0"/>
<line x1="339.5" y1="1072.1" x2="339.5" y2="911.9" stroke="#111" stroke-width="1.9" stroke-dasharray="1.9 15.65" stroke-dashoffset="8.0"/>
<line x1="403.0" y1="1069.0" x2="403.0" y2="908.8" stroke="#111" stroke-width="1.9" stroke-dasharray="1.9 15.65" stroke-dashoffset="8.0"/>
<line x1="466.6" y1="1065.8" x2="466.6" y2="905.6" stroke="#111" stroke-width="1.9" stroke-dasharray="1.9 15.65" stroke-dashoffset="8.0"/>
<line x1="530.1" y1="1062.7" x2="530.1" y2="902.5" stroke="#111" stroke-width="1.9" stroke-dasharray="1.9 15.65" stroke-dashoffset="8.0"/>
<line x1="212.4" y1="1078.4" x2="530.1" y2="1062.7" stroke="#111" stroke-width="1.9" stroke-dasharray="1.9 15.65" stroke-dashoffset="8.0"/>
<line x1="212.4" y1="1038.4" x2="530.1" y2="1022.7" stroke="#111" stroke-width="1.9" stroke-dasharray="1.9 15.65" stroke-dashoffset="8.0"/>
<line x1="212.4" y1="998.3" x2="530.1" y2="982.6" stroke="#111" stroke-width="1.9" stroke-dasharray="1.9 15.65" stroke-dashoffset="8.0"/>
<line x1="212.4" y1="958.3" x2="530.1" y2="942.6" stroke="#111" stroke-width="1.9" stroke-dasharray="1.9 15.65" stroke-dashoffset="8.0"/>
<line x1="212.4" y1="918.2" x2="530.1" y2="902.5" stroke="#111" stroke-width="1.9" stroke-dasharray="1.9 15.65" stroke-dashoffset="8.0"/>
<line x1="588.2" y1="1082.9" x2="588.2" y2="922.7" stroke="#111" stroke-width="1.9" stroke-dasharray="1.9 15.65" stroke-dashoffset="8.0"/>
<line x1="646.2" y1="1103.1" x2="646.2" y2="942.9" stroke="#111" stroke-width="1.9" stroke-dasharray="1.9 15.65" stroke-dashoffset="8.0"/>
<line x1="530.1" y1="1062.7" x2="646.2" y2="1103.1" stroke="#111" stroke-width="1.9" stroke-dasharray="1.9 15.65" stroke-dashoffset="8.0"/>
<line x1="530.1" y1="1022.7" x2="646.2" y2="1063.1" stroke="#111" stroke-width="1.9" stroke-dasharray="1.9 15.65" stroke-dashoffset="8.0"/>
<line x1="530.1" y1="982.6" x2="646.2" y2="1023.0" stroke="#111" stroke-width="1.9" stroke-dasharray="1.9 15.65" stroke-dashoffset="8.0"/>
<line x1="530.1" y1="942.6" x2="646.2" y2="983.0" stroke="#111" stroke-width="1.9" stroke-dasharray="1.9 15.65" stroke-dashoffset="8.0"/>
<line x1="530.1" y1="902.5" x2="646.2" y2="942.9" stroke="#111" stroke-width="1.9" stroke-dasharray="1.9 15.65" stroke-dashoffset="8.0"/>
<line x1="275.9" y1="1075.3" x2="390.0" y2="1115.3" stroke="#111" stroke-width="1.9" stroke-dasharray="1.9 15.65" stroke-dashoffset="8.0"/>
<line x1="339.5" y1="1072.1" x2="454.1" y2="1112.2" stroke="#111" stroke-width="1.9" stroke-dasharray="1.9 15.65" stroke-dashoffset="8.0"/>
<line x1="403.0" y1="1069.0" x2="518.1" y2="1109.2" stroke="#111" stroke-width="1.9" stroke-dasharray="1.9 15.65" stroke-dashoffset="8.0"/>
<line x1="466.6" y1="1065.8" x2="582.2" y2="1106.1" stroke="#111" stroke-width="1.9" stroke-dasharray="1.9 15.65" stroke-dashoffset="8.0"/>
<line x1="269.2" y1="1098.4" x2="588.2" y2="1082.9" stroke="#111" stroke-width="1.9" stroke-dasharray="1.9 15.65" stroke-dashoffset="8.0"/>
<circle cx="366.3" cy="954.7" r="6.3" fill="#a6a4d0"/>
<circle cx="398.8" cy="949.4" r="6.3" fill="#cfccc5"/>
<circle cx="351.4" cy="980.5" r="6.3" fill="#cfccc5"/>
<circle cx="380.5" cy="980.1" r="6.3" fill="#e76662"/>
<circle cx="402.2" cy="984.3" r="6.3" fill="#e76662"/>
<circle cx="391.0" cy="999.2" r="6.3" fill="#9d9bd3"/>
<circle cx="412.2" cy="1001.0" r="6.3" fill="#cfccc5"/>
<circle cx="439.1" cy="1001.0" r="6.3" fill="#ff0000"/>
<circle cx="310.7" cy="1004.3" r="6.3" fill="#0000ff"/>
<circle cx="327.8" cy="1003.7" r="6.3" fill="#d8a49e"/>
<circle cx="302.4" cy="1027.1" r="6.3" fill="#cfccc5"/>
<circle cx="326.7" cy="1026.8" r="6.3" fill="#3635f0"/>
<circle cx="339.9" cy="1025.6" r="6.3" fill="#b7b5cc"/>
<circle cx="323.0" cy="1033.1" r="6.3" fill="#9391d6"/>
<circle cx="352.4" cy="1033.1" r="6.3" fill="#8987d9"/>
<circle cx="366.3" cy="1035.4" r="6.3" fill="#bfbcc9"/>
<circle cx="343.2" cy="1037.6" r="6.3" fill="#8987d9"/>
<circle cx="340.2" cy="1040.6" r="6.3" fill="#afadce"/>
<circle cx="350.6" cy="1040.6" r="6.3" fill="#cfccc5"/>
<circle cx="339.4" cy="1044.3" r="6.3" fill="#2928f4"/>
<circle cx="353.2" cy="1048.5" r="6.3" fill="#afadce"/>
<circle cx="323.4" cy="1048.8" r="6.3" fill="#0000ff"/>
<circle cx="339.4" cy="1051.1" r="6.3" fill="#7e7cdc"/>
<circle cx="333.5" cy="1048.8" r="6.3" fill="#7371df"/>
<circle cx="303.9" cy="1051.1" r="6.3" fill="#0000ff"/>
<circle cx="323.0" cy="1056.3" r="6.3" fill="#8987d9"/>
<circle cx="337.9" cy="1063.0" r="6.3" fill="#b7b5cc"/>
<circle cx="384.7" cy="1061.5" r="6.3" fill="#cfccc5"/>
<circle cx="452.9" cy="972.6" r="6.3" fill="#ff0000"/>
<circle cx="456.9" cy="988.5" r="6.3" fill="#ff0000"/>
<circle cx="447.2" cy="990.7" r="6.3" fill="#b7b5cc"/>
<circle cx="483.5" cy="991.3" r="6.3" fill="#cfccc5"/>
<circle cx="466.3" cy="1004.1" r="6.3" fill="#b7b5cc"/>
<circle cx="514.7" cy="965.6" r="6.3" fill="#cfccc5"/>
<circle cx="529.1" cy="966.6" r="6.3" fill="#cfccc5"/>
<circle cx="561.5" cy="955.9" r="6.3" fill="#cfccc5"/>
<circle cx="594.8" cy="998.5" r="6.3" fill="#cfccc5"/>
<circle cx="528.2" cy="1010.4" r="6.3" fill="#cfccc5"/>
<circle cx="605.1" cy="1024.9" r="6.3" fill="#cfccc5"/>
<circle cx="600.8" cy="1037.0" r="6.3" fill="#cfccc5"/>
<circle cx="583.2" cy="942.7" r="6.3" fill="#ff0000"/>
<circle cx="553.3" cy="957.4" r="6.3" fill="#e27c78"/>
<circle cx="544.3" cy="960.8" r="6.3" fill="#f33533"/>
<circle cx="548.1" cy="961.9" r="6.3" fill="#f33533"/>
<circle cx="546.9" cy="970.8" r="6.3" fill="#d3bcb6"/>
<circle cx="563.0" cy="976.3" r="6.3" fill="#fc0e0d"/>
<circle cx="582.1" cy="975.6" r="6.3" fill="#ff0000"/>
<circle cx="536.1" cy="983.5" r="6.3" fill="#d8a49e"/>
<circle cx="589.9" cy="987.6" r="6.3" fill="#ff0000"/>
<circle cx="577.2" cy="991.4" r="6.3" fill="#d4b5af"/>
<circle cx="539.5" cy="996.2" r="6.3" fill="#ff0000"/>
<circle cx="537.6" cy="998.0" r="6.3" fill="#ff0000"/>
<circle cx="560.8" cy="1008.2" r="6.3" fill="#ff0000"/>
<circle cx="562.2" cy="1011.9" r="6.3" fill="#fc0e0d"/>
<circle cx="573.5" cy="1013.1" r="6.3" fill="#dd918c"/>
<circle cx="540.9" cy="1016.8" r="6.3" fill="#ed4e4b"/>
<circle cx="539.8" cy="1013.4" r="6.3" fill="#ff0000"/>
<polyline points="212.4,918.2 212.4,1078.4 326.0,1118.3 646.2,1103.1" fill="none" stroke="#000" stroke-width="2.2" stroke-linejoin="miter"/>
<line x1="204.9" y1="1076.1" x2="212.4" y2="1078.4" stroke="#000" stroke-width="2.0"/>
<text x="201.9" y="1077.0" font-size="14.0" text-anchor="end" font-weight="normal" fill="#1a1a1a">0</text>
<line x1="204.9" y1="1036.1" x2="212.4" y2="1038.4" stroke="#000" stroke-width="2.0"/>
<text x="201.9" y="1039.0" font-size="14.0" text-anchor="end" font-weight="normal" fill="#1a1a1a">0.5</text>
<line x1="204.9" y1="996.0" x2="212.4" y2="998.3" stroke="#000" stroke-width="2.0"/>
<text x="201.9" y="998.9" font-size="14.0" text-anchor="end" font-weight="normal" fill="#1a1a1a">1</text>
<line x1="204.9" y1="956.0" x2="212.4" y2="958.3" stroke="#000" stroke-width="2.0"/>
<text x="201.9" y="958.9" font-size="14.0" text-anchor="end" font-weight="normal" fill="#1a1a1a">1.5</text>
<line x1="204.9" y1="915.9" x2="212.4" y2="918.2" stroke="#000" stroke-width="2.0"/>
<text x="201.9" y="918.8" font-size="14.0" text-anchor="end" font-weight="normal" fill="#1a1a1a">2</text>
<line x1="204.9" y1="1079.0" x2="212.4" y2="1078.4" stroke="#000" stroke-width="2.0"/>
<text x="200.1" y="1093.3" font-size="14.0" text-anchor="middle" font-weight="normal" fill="#1a1a1a">0</text>
<line x1="261.7" y1="1099.0" x2="269.2" y2="1098.4" stroke="#000" stroke-width="2.0"/>
<text x="256.9" y="1111.9" font-size="14.0" text-anchor="middle" font-weight="normal" fill="#1a1a1a">1</text>
<line x1="318.5" y1="1118.9" x2="326.0" y2="1118.3" stroke="#000" stroke-width="2.0"/>
<text x="313.7" y="1131.8" font-size="14.0" text-anchor="middle" font-weight="normal" fill="#1a1a1a">2</text>
<line x1="326.0" y1="1118.3" x2="333.0" y2="1121.5" stroke="#000" stroke-width="2.0"/>
<text x="335.7" y="1134.7" font-size="14.0" text-anchor="start" font-weight="normal" fill="#1a1a1a">0</text>
<line x1="390.0" y1="1115.3" x2="397.0" y2="1118.5" stroke="#000" stroke-width="2.0"/>
<text x="399.7" y="1131.7" font-size="14.0" text-anchor="start" font-weight="normal" fill="#1a1a1a">0.5</text>
<line x1="454.1" y1="1112.2" x2="461.1" y2="1115.4" stroke="#000" stroke-width="2.0"/>
<text x="463.8" y="1128.6" font-size="14.0" text-anchor="start" font-weight="normal" fill="#1a1a1a">1</text>
<line x1="518.1" y1="1109.2" x2="525.1" y2="1112.4" stroke="#000" stroke-width="2.0"/>
<text x="527.8" y="1125.6" font-size="14.0" text-anchor="start" font-weight="normal" fill="#1a1a1a">1.5</text>
<line x1="582.2" y1="1106.1" x2="589.2" y2="1109.3" stroke="#000" stroke-width="2.0"/>
<text x="591.9" y="1122.5" font-size="14.0" text-anchor="start" font-weight="normal" fill="#1a1a1a">2</text>
<line x1="646.2" y1="1103.1" x2="653.2" y2="1106.3" stroke="#000" stroke-width="2.0"/>
<text x="655.9" y="1119.5" font-size="14.0" text-anchor="start" font-weight="normal" fill="#1a1a1a">2.5</text>
<text x="174.9" y="998.3" font-size="15.0" text-anchor="middle" font-weight="normal" fill="#1a1a1a" transform="rotate(-90 174.9 998.3)">dorsal−ventral</text>
<text x="247.3" y="1130.9" font-size="15.0" text-anchor="middle" font-weight="normal" fill="#1a1a1a" transform="rotate(19.3 247.3 1130.9)">medial−lateral</text>
<text x="508.0" y="1150.4" font-size="15.0" text-anchor="middle" font-weight="normal" fill="#1a1a1a" transform="rotate(-3.2 508.0 1150.4)">anterior−posterior</text>
<rect x="693.2" y="890.2" width="27.80" height="221.6" fill="url(#cb)"/>
<text x="724.5" y="895.1" font-size="14" text-anchor="start" font-weight="normal" fill="#111">5%</text>
<text x="724.5" y="1004.6" font-size="14" text-anchor="start" font-weight="normal" fill="#111">0</text>
<text x="724.5" y="1115.8" font-size="14" text-anchor="start" font-weight="normal" fill="#111">-5%</text>
<line x1="925.4" y1="888.0" x2="925.4" y2="1059.3" stroke="#8c8c8c" stroke-width="1.7" stroke-dasharray="7.75 7.75" stroke-dashoffset="3.9"/>
<line x1="968.9" y1="888.0" x2="968.9" y2="1059.3" stroke="#8c8c8c" stroke-width="1.7" stroke-dasharray="7.75 7.75" stroke-dashoffset="3.9"/>
<line x1="1012.3" y1="888.0" x2="1012.3" y2="1059.3" stroke="#8c8c8c" stroke-width="1.7" stroke-dasharray="7.75 7.75" stroke-dashoffset="3.9"/>
<line x1="1055.8" y1="888.0" x2="1055.8" y2="1059.3" stroke="#8c8c8c" stroke-width="1.7" stroke-dasharray="7.75 7.75" stroke-dashoffset="3.9"/>
<line x1="1099.2" y1="888.0" x2="1099.2" y2="1059.3" stroke="#8c8c8c" stroke-width="1.7" stroke-dasharray="7.75 7.75" stroke-dashoffset="3.9"/>
<line x1="882.0" y1="1016.5" x2="1099.2" y2="1016.5" stroke="#8c8c8c" stroke-width="1.7" stroke-dasharray="7.75 7.75" stroke-dashoffset="4.4"/>
<line x1="882.0" y1="973.7" x2="1099.2" y2="973.7" stroke="#8c8c8c" stroke-width="1.7" stroke-dasharray="7.75 7.75" stroke-dashoffset="4.4"/>
<line x1="882.0" y1="930.9" x2="1099.2" y2="930.9" stroke="#8c8c8c" stroke-width="1.7" stroke-dasharray="7.75 7.75" stroke-dashoffset="4.4"/>
<line x1="882.0" y1="888.0" x2="1099.2" y2="888.0" stroke="#8c8c8c" stroke-width="1.7" stroke-dasharray="7.75 7.75" stroke-dashoffset="4.4"/>
<circle cx="905.0" cy="1008.8" r="5.55" fill="#cfccc5"/>
<circle cx="945.1" cy="1027.1" r="5.55" fill="#8987d9"/>
<circle cx="923.3" cy="1027.1" r="5.55" fill="#0000ff"/>
<circle cx="928.7" cy="961.1" r="5.55" fill="#cfccc5"/>
<circle cx="943.2" cy="977.8" r="5.55" fill="#d8a49e"/>
<circle cx="918.1" cy="984.7" r="5.55" fill="#0000ff"/>
<circle cx="918.8" cy="1005.7" r="5.55" fill="#afadce"/>
<circle cx="928.1" cy="1004.1" r="5.55" fill="#3635f0"/>
<circle cx="936.6" cy="1012.8" r="5.55" fill="#7371df"/>
<circle cx="937.9" cy="1007.6" r="5.55" fill="#9391d6"/>
<circle cx="941.1" cy="1024.2" r="5.55" fill="#8987d9"/>
<circle cx="945.6" cy="1016.1" r="5.55" fill="#2928f4"/>
<circle cx="947.5" cy="1019.1" r="5.55" fill="#6766e2"/>
<circle cx="950.7" cy="1011.7" r="5.55" fill="#cfccc5"/>
<circle cx="929.4" cy="1024.6" r="5.55" fill="#0000ff"/>
<circle cx="933.8" cy="1037.0" r="5.55" fill="#b7b5cc"/>
<line x1="882.0" y1="887.1" x2="882.0" y2="1071.9" stroke="#1a1a1a" stroke-width="1.9"/>
<line x1="868.4" y1="1059.3" x2="1100.1" y2="1059.3" stroke="#1a1a1a" stroke-width="1.9"/>
<line x1="925.4" y1="1059.3" x2="925.4" y2="1071.9" stroke="#1a1a1a" stroke-width="1.9"/>
<line x1="968.9" y1="1059.3" x2="968.9" y2="1071.9" stroke="#1a1a1a" stroke-width="1.9"/>
<line x1="1012.3" y1="1059.3" x2="1012.3" y2="1071.9" stroke="#1a1a1a" stroke-width="1.9"/>
<line x1="1055.8" y1="1059.3" x2="1055.8" y2="1071.9" stroke="#1a1a1a" stroke-width="1.9"/>
<line x1="1099.2" y1="1059.3" x2="1099.2" y2="1071.9" stroke="#1a1a1a" stroke-width="1.9"/>
<line x1="868.4" y1="1016.5" x2="882.0" y2="1016.5" stroke="#1a1a1a" stroke-width="1.9"/>
<line x1="868.4" y1="973.7" x2="882.0" y2="973.7" stroke="#1a1a1a" stroke-width="1.9"/>
<line x1="868.4" y1="930.9" x2="882.0" y2="930.9" stroke="#1a1a1a" stroke-width="1.9"/>
<line x1="868.4" y1="888.0" x2="882.0" y2="888.0" stroke="#1a1a1a" stroke-width="1.9"/>
<text x="881.0" y="1088.3" font-size="14.2" text-anchor="middle" font-weight="normal" fill="#1a1a1a" letter-spacing="0.8">0</text>
<text x="924.4" y="1088.3" font-size="14.2" text-anchor="middle" font-weight="normal" fill="#1a1a1a" letter-spacing="0.8">0.5</text>
<text x="967.9" y="1088.3" font-size="14.2" text-anchor="middle" font-weight="normal" fill="#1a1a1a" letter-spacing="0.8">1</text>
<text x="1011.3" y="1088.3" font-size="14.2" text-anchor="middle" font-weight="normal" fill="#1a1a1a" letter-spacing="0.8">1.5</text>
<text x="1054.8" y="1088.3" font-size="14.2" text-anchor="middle" font-weight="normal" fill="#1a1a1a" letter-spacing="0.8">2</text>
<text x="1098.2" y="1088.3" font-size="14.2" text-anchor="middle" font-weight="normal" fill="#1a1a1a" letter-spacing="0.8">2.5</text>
<text x="865.0" y="1064.3" font-size="14.2" text-anchor="end" font-weight="normal" fill="#1a1a1a" letter-spacing="0.8">0</text>
<text x="865.0" y="1021.5" font-size="14.2" text-anchor="end" font-weight="normal" fill="#1a1a1a" letter-spacing="0.8">0.5</text>
<text x="865.0" y="978.7" font-size="14.2" text-anchor="end" font-weight="normal" fill="#1a1a1a" letter-spacing="0.8">1</text>
<text x="865.0" y="935.9" font-size="14.2" text-anchor="end" font-weight="normal" fill="#1a1a1a" letter-spacing="0.8">1.5</text>
<text x="865.0" y="893.0" font-size="14.2" text-anchor="end" font-weight="normal" fill="#1a1a1a" letter-spacing="0.8">2</text>
<text x="989.9" y="1117.0" font-size="19.5" text-anchor="middle" font-weight="normal" fill="#111">medial-lateral (mm)</text>
<text x="833.0" y="973.7" font-size="19.5" text-anchor="middle" font-weight="normal" fill="#111" transform="rotate(-90 833.0 973.7)">dorsal-ventral (mm)</text>
<line x1="1250.4" y1="888.0" x2="1250.4" y2="1059.3" stroke="#8c8c8c" stroke-width="1.7" stroke-dasharray="7.75 7.75" stroke-dashoffset="3.9"/>
<line x1="1293.9" y1="888.0" x2="1293.9" y2="1059.3" stroke="#8c8c8c" stroke-width="1.7" stroke-dasharray="7.75 7.75" stroke-dashoffset="3.9"/>
<line x1="1337.3" y1="888.0" x2="1337.3" y2="1059.3" stroke="#8c8c8c" stroke-width="1.7" stroke-dasharray="7.75 7.75" stroke-dashoffset="3.9"/>
<line x1="1380.8" y1="888.0" x2="1380.8" y2="1059.3" stroke="#8c8c8c" stroke-width="1.7" stroke-dasharray="7.75 7.75" stroke-dashoffset="3.9"/>
<line x1="1424.2" y1="888.0" x2="1424.2" y2="1059.3" stroke="#8c8c8c" stroke-width="1.7" stroke-dasharray="7.75 7.75" stroke-dashoffset="3.9"/>
<line x1="1207.0" y1="1016.5" x2="1424.2" y2="1016.5" stroke="#8c8c8c" stroke-width="1.7" stroke-dasharray="7.75 7.75" stroke-dashoffset="4.4"/>
<line x1="1207.0" y1="973.7" x2="1424.2" y2="973.7" stroke="#8c8c8c" stroke-width="1.7" stroke-dasharray="7.75 7.75" stroke-dashoffset="4.4"/>
<line x1="1207.0" y1="930.9" x2="1424.2" y2="930.9" stroke="#8c8c8c" stroke-width="1.7" stroke-dasharray="7.75 7.75" stroke-dashoffset="4.4"/>
<line x1="1207.0" y1="888.0" x2="1424.2" y2="888.0" stroke="#8c8c8c" stroke-width="1.7" stroke-dasharray="7.75 7.75" stroke-dashoffset="4.4"/>
<circle cx="1265.5" cy="930.1" r="5.55" fill="#cfccc5"/>
<circle cx="1252.6" cy="937.1" r="5.55" fill="#a6a4d0"/>
<circle cx="1320.3" cy="941.0" r="5.55" fill="#ff0000"/>
<circle cx="1269.2" cy="957.7" r="5.55" fill="#ea5a57"/>
<circle cx="1270.8" cy="962.9" r="5.55" fill="#e76662"/>
<circle cx="1320.3" cy="960.0" r="5.55" fill="#cfccc5"/>
<circle cx="1324.0" cy="956.3" r="5.55" fill="#b7b5cc"/>
<circle cx="1338.5" cy="966.9" r="5.55" fill="#b7b5cc"/>
<circle cx="1331.6" cy="953.2" r="5.55" fill="#ff0000"/>
<circle cx="1328.0" cy="965.3" r="5.55" fill="#ff0000"/>
<circle cx="1293.4" cy="973.2" r="5.55" fill="#cfccc5"/>
<circle cx="1277.1" cy="974.6" r="5.55" fill="#9d9bd3"/>
<circle cx="1266.6" cy="1010.1" r="5.55" fill="#bfbcc9"/>
<circle cx="1238.1" cy="1014.9" r="5.55" fill="#6766e2"/>
<circle cx="1251.0" cy="1025.7" r="5.55" fill="#a6a4d0"/>
<circle cx="1271.9" cy="1034.8" r="5.55" fill="#cfccc5"/>
<line x1="1207.0" y1="887.1" x2="1207.0" y2="1071.9" stroke="#1a1a1a" stroke-width="1.9"/>
<line x1="1193.4" y1="1059.3" x2="1425.1" y2="1059.3" stroke="#1a1a1a" stroke-width="1.9"/>
<line x1="1250.4" y1="1059.3" x2="1250.4" y2="1071.9" stroke="#1a1a1a" stroke-width="1.9"/>
<line x1="1293.9" y1="1059.3" x2="1293.9" y2="1071.9" stroke="#1a1a1a" stroke-width="1.9"/>
<line x1="1337.3" y1="1059.3" x2="1337.3" y2="1071.9" stroke="#1a1a1a" stroke-width="1.9"/>
<line x1="1380.8" y1="1059.3" x2="1380.8" y2="1071.9" stroke="#1a1a1a" stroke-width="1.9"/>
<line x1="1424.2" y1="1059.3" x2="1424.2" y2="1071.9" stroke="#1a1a1a" stroke-width="1.9"/>
<line x1="1193.4" y1="1016.5" x2="1207.0" y2="1016.5" stroke="#1a1a1a" stroke-width="1.9"/>
<line x1="1193.4" y1="973.7" x2="1207.0" y2="973.7" stroke="#1a1a1a" stroke-width="1.9"/>
<line x1="1193.4" y1="930.9" x2="1207.0" y2="930.9" stroke="#1a1a1a" stroke-width="1.9"/>
<line x1="1193.4" y1="888.0" x2="1207.0" y2="888.0" stroke="#1a1a1a" stroke-width="1.9"/>
<text x="1206.0" y="1088.3" font-size="14.2" text-anchor="middle" font-weight="normal" fill="#1a1a1a" letter-spacing="0.8">0</text>
<text x="1249.4" y="1088.3" font-size="14.2" text-anchor="middle" font-weight="normal" fill="#1a1a1a" letter-spacing="0.8">0.5</text>
<text x="1292.9" y="1088.3" font-size="14.2" text-anchor="middle" font-weight="normal" fill="#1a1a1a" letter-spacing="0.8">1</text>
<text x="1336.3" y="1088.3" font-size="14.2" text-anchor="middle" font-weight="normal" fill="#1a1a1a" letter-spacing="0.8">1.5</text>
<text x="1379.8" y="1088.3" font-size="14.2" text-anchor="middle" font-weight="normal" fill="#1a1a1a" letter-spacing="0.8">2</text>
<text x="1423.2" y="1088.3" font-size="14.2" text-anchor="middle" font-weight="normal" fill="#1a1a1a" letter-spacing="0.8">2.5</text>
<text x="1190.0" y="1064.3" font-size="14.2" text-anchor="end" font-weight="normal" fill="#1a1a1a" letter-spacing="0.8">0</text>
<text x="1190.0" y="1021.5" font-size="14.2" text-anchor="end" font-weight="normal" fill="#1a1a1a" letter-spacing="0.8">0.5</text>
<text x="1190.0" y="978.7" font-size="14.2" text-anchor="end" font-weight="normal" fill="#1a1a1a" letter-spacing="0.8">1</text>
<text x="1190.0" y="935.9" font-size="14.2" text-anchor="end" font-weight="normal" fill="#1a1a1a" letter-spacing="0.8">1.5</text>
<text x="1190.0" y="893.0" font-size="14.2" text-anchor="end" font-weight="normal" fill="#1a1a1a" letter-spacing="0.8">2</text>
<text x="1318.6" y="1117.0" font-size="19.5" text-anchor="middle" font-weight="normal" fill="#111">medial-lateral (mm)</text>
<text x="1154.2" y="973.7" font-size="19.5" text-anchor="middle" font-weight="normal" fill="#111" transform="rotate(-90 1154.2 973.7)">dorsal-ventral (mm)</text>
<line x1="1575.4" y1="888.0" x2="1575.4" y2="1059.3" stroke="#8c8c8c" stroke-width="1.7" stroke-dasharray="7.75 7.75" stroke-dashoffset="3.9"/>
<line x1="1618.9" y1="888.0" x2="1618.9" y2="1059.3" stroke="#8c8c8c" stroke-width="1.7" stroke-dasharray="7.75 7.75" stroke-dashoffset="3.9"/>
<line x1="1662.3" y1="888.0" x2="1662.3" y2="1059.3" stroke="#8c8c8c" stroke-width="1.7" stroke-dasharray="7.75 7.75" stroke-dashoffset="3.9"/>
<line x1="1705.8" y1="888.0" x2="1705.8" y2="1059.3" stroke="#8c8c8c" stroke-width="1.7" stroke-dasharray="7.75 7.75" stroke-dashoffset="3.9"/>
<line x1="1749.2" y1="888.0" x2="1749.2" y2="1059.3" stroke="#8c8c8c" stroke-width="1.7" stroke-dasharray="7.75 7.75" stroke-dashoffset="3.9"/>
<line x1="1532.0" y1="1016.5" x2="1749.2" y2="1016.5" stroke="#8c8c8c" stroke-width="1.7" stroke-dasharray="7.75 7.75" stroke-dashoffset="4.4"/>
<line x1="1532.0" y1="973.7" x2="1749.2" y2="973.7" stroke="#8c8c8c" stroke-width="1.7" stroke-dasharray="7.75 7.75" stroke-dashoffset="4.4"/>
<line x1="1532.0" y1="930.9" x2="1749.2" y2="930.9" stroke="#8c8c8c" stroke-width="1.7" stroke-dasharray="7.75 7.75" stroke-dashoffset="4.4"/>
<line x1="1532.0" y1="888.0" x2="1749.2" y2="888.0" stroke="#8c8c8c" stroke-width="1.7" stroke-dasharray="7.75 7.75" stroke-dashoffset="4.4"/>
<circle cx="1646.9" cy="937.7" r="5.55" fill="#cfccc5"/>
<circle cx="1655.0" cy="936.6" r="5.55" fill="#f33533"/>
<circle cx="1656.6" cy="932.6" r="5.55" fill="#db9b95"/>
<circle cx="1658.2" cy="926.6" r="5.55" fill="#cfccc5"/>
<circle cx="1660.3" cy="940.6" r="5.55" fill="#d3bcb6"/>
<circle cx="1673.2" cy="943.1" r="5.55" fill="#fc0e0d"/>
<circle cx="1676.7" cy="941.5" r="5.55" fill="#ff0000"/>
<circle cx="1688.8" cy="908.0" r="5.55" fill="#ff0000"/>
<circle cx="1678.0" cy="922.9" r="5.55" fill="#e27c78"/>
<circle cx="1661.5" cy="951.2" r="5.55" fill="#db9b95"/>
<circle cx="1684.8" cy="951.9" r="5.55" fill="#ff0000"/>
<circle cx="1664.7" cy="961.7" r="5.55" fill="#ff0000"/>
<circle cx="1671.9" cy="962.9" r="5.55" fill="#ff0000"/>
<circle cx="1675.2" cy="957.9" r="5.55" fill="#d4b5af"/>
<circle cx="1686.4" cy="962.2" r="5.55" fill="#cfccc5"/>
<circle cx="1676.7" cy="979.4" r="5.55" fill="#e27c78"/>
<circle cx="1677.6" cy="974.4" r="5.55" fill="#fc0e0d"/>
<circle cx="1680.0" cy="970.5" r="5.55" fill="#ff0000"/>
<circle cx="1686.9" cy="975.0" r="5.55" fill="#dd918c"/>
<circle cx="1664.7" cy="975.7" r="5.55" fill="#cfccc5"/>
<circle cx="1652.9" cy="981.5" r="5.55" fill="#ff0000"/>
<circle cx="1698.0" cy="984.6" r="5.55" fill="#cfccc5"/>
<circle cx="1702.9" cy="994.8" r="5.55" fill="#cfccc5"/>
<line x1="1532.0" y1="887.1" x2="1532.0" y2="1071.9" stroke="#1a1a1a" stroke-width="1.9"/>
<line x1="1518.4" y1="1059.3" x2="1750.1" y2="1059.3" stroke="#1a1a1a" stroke-width="1.9"/>
<line x1="1575.4" y1="1059.3" x2="1575.4" y2="1071.9" stroke="#1a1a1a" stroke-width="1.9"/>
<line x1="1618.9" y1="1059.3" x2="1618.9" y2="1071.9" stroke="#1a1a1a" stroke-width="1.9"/>
<line x1="1662.3" y1="1059.3" x2="1662.3" y2="1071.9" stroke="#1a1a1a" stroke-width="1.9"/>
<line x1="1705.8" y1="1059.3" x2="1705.8" y2="1071.9" stroke="#1a1a1a" stroke-width="1.9"/>
<line x1="1749.2" y1="1059.3" x2="1749.2" y2="1071.9" stroke="#1a1a1a" stroke-width="1.9"/>
<line x1="1518.4" y1="1016.5" x2="1532.0" y2="1016.5" stroke="#1a1a1a" stroke-width="1.9"/>
<line x1="1518.4" y1="973.7" x2="1532.0" y2="973.7" stroke="#1a1a1a" stroke-width="1.9"/>
<line x1="1518.4" y1="930.9" x2="1532.0" y2="930.9" stroke="#1a1a1a" stroke-width="1.9"/>
<line x1="1518.4" y1="888.0" x2="1532.0" y2="888.0" stroke="#1a1a1a" stroke-width="1.9"/>
<text x="1531.0" y="1088.3" font-size="14.2" text-anchor="middle" font-weight="normal" fill="#1a1a1a" letter-spacing="0.8">0</text>
<text x="1574.4" y="1088.3" font-size="14.2" text-anchor="middle" font-weight="normal" fill="#1a1a1a" letter-spacing="0.8">0.5</text>
<text x="1617.9" y="1088.3" font-size="14.2" text-anchor="middle" font-weight="normal" fill="#1a1a1a" letter-spacing="0.8">1</text>
<text x="1661.3" y="1088.3" font-size="14.2" text-anchor="middle" font-weight="normal" fill="#1a1a1a" letter-spacing="0.8">1.5</text>
<text x="1704.8" y="1088.3" font-size="14.2" text-anchor="middle" font-weight="normal" fill="#1a1a1a" letter-spacing="0.8">2</text>
<text x="1748.2" y="1088.3" font-size="14.2" text-anchor="middle" font-weight="normal" fill="#1a1a1a" letter-spacing="0.8">2.5</text>
<text x="1515.0" y="1064.3" font-size="14.2" text-anchor="end" font-weight="normal" fill="#1a1a1a" letter-spacing="0.8">0</text>
<text x="1515.0" y="1021.5" font-size="14.2" text-anchor="end" font-weight="normal" fill="#1a1a1a" letter-spacing="0.8">0.5</text>
<text x="1515.0" y="978.7" font-size="14.2" text-anchor="end" font-weight="normal" fill="#1a1a1a" letter-spacing="0.8">1</text>
<text x="1515.0" y="935.9" font-size="14.2" text-anchor="end" font-weight="normal" fill="#1a1a1a" letter-spacing="0.8">1.5</text>
<text x="1515.0" y="893.0" font-size="14.2" text-anchor="end" font-weight="normal" fill="#1a1a1a" letter-spacing="0.8">2</text>
<text x="1639.7" y="1117.0" font-size="19.5" text-anchor="middle" font-weight="normal" fill="#111">medial-lateral (mm)</text>
<text x="1480.9" y="973.7" font-size="19.5" text-anchor="middle" font-weight="normal" fill="#111" transform="rotate(-90 1480.9 973.7)">dorsal-ventral (mm)</text>
<line x1="1854.0" y1="1042.2" x2="2071.0" y2="1025.2" stroke="#8cc211" stroke-width="3.6"/>
<circle cx="1865.3" cy="1065.9" r="3.75" fill="#1c1c1c"/>
<circle cx="1871.3" cy="1038.4" r="3.75" fill="#1c1c1c"/>
<circle cx="1876.5" cy="1032.6" r="3.75" fill="#1c1c1c"/>
<circle cx="1875.8" cy="1037.1" r="3.75" fill="#1c1c1c"/>
<circle cx="1875.2" cy="1043.5" r="3.75" fill="#1c1c1c"/>
<circle cx="1878.4" cy="1040.3" r="3.75" fill="#1c1c1c"/>
<circle cx="1881.0" cy="1046.1" r="3.75" fill="#1c1c1c"/>
<circle cx="1882.2" cy="1038.4" r="3.75" fill="#1c1c1c"/>
<circle cx="1885.5" cy="1037.1" r="3.75" fill="#1c1c1c"/>
<circle cx="1886.1" cy="1042.2" r="3.75" fill="#1c1c1c"/>
<circle cx="1891.9" cy="1036.2" r="3.75" fill="#1c1c1c"/>
<circle cx="1894.4" cy="1039.4" r="3.75" fill="#1c1c1c"/>
<circle cx="1902.8" cy="1036.4" r="3.75" fill="#1c1c1c"/>
<circle cx="1911.1" cy="1036.4" r="3.75" fill="#1c1c1c"/>
<circle cx="1914.3" cy="1036.0" r="3.75" fill="#1c1c1c"/>
<circle cx="1918.8" cy="1038.7" r="3.75" fill="#1c1c1c"/>
<circle cx="1943.9" cy="1025.8" r="3.75" fill="#1c1c1c"/>
<circle cx="1953.5" cy="1036.0" r="3.75" fill="#1c1c1c"/>
<circle cx="1958.3" cy="1026.1" r="3.75" fill="#1c1c1c"/>
<circle cx="1962.5" cy="1024.5" r="3.75" fill="#1c1c1c"/>
<circle cx="1963.1" cy="1036.7" r="3.75" fill="#1c1c1c"/>
<circle cx="2025.8" cy="1018.1" r="3.75" fill="#1c1c1c"/>
<circle cx="2033.1" cy="1016.2" r="3.75" fill="#1c1c1c"/>
<circle cx="2025.7" cy="1030.6" r="3.75" fill="#1c1c1c"/>
<circle cx="2030.6" cy="1033.2" r="3.75" fill="#1c1c1c"/>
<circle cx="2036.3" cy="1030.6" r="3.75" fill="#1c1c1c"/>
<circle cx="2039.5" cy="1025.4" r="3.75" fill="#1c1c1c"/>
<circle cx="2041.5" cy="1033.8" r="3.75" fill="#1c1c1c"/>
<circle cx="2044.0" cy="1028.7" r="3.75" fill="#1c1c1c"/>
<circle cx="2046.6" cy="1031.3" r="3.75" fill="#1c1c1c"/>
<circle cx="2049.2" cy="1026.7" r="3.75" fill="#1c1c1c"/>
<circle cx="2050.2" cy="1032.9" r="3.75" fill="#1c1c1c"/>
<circle cx="2058.2" cy="1023.3" r="3.75" fill="#1c1c1c"/>
<circle cx="2064.6" cy="1023.5" r="3.75" fill="#1c1c1c"/>
<circle cx="2067.8" cy="1024.5" r="3.75" fill="#1c1c1c"/>
<circle cx="2060.7" cy="1033.6" r="3.75" fill="#1c1c1c"/>
<line x1="1854.0" y1="900.2" x2="1854.0" y2="1084.8" stroke="#1a1a1a" stroke-width="1.9"/>
<line x1="1840.0" y1="1073.2" x2="2071.9" y2="1073.2" stroke="#1a1a1a" stroke-width="1.9"/>
<line x1="1908.2" y1="1073.2" x2="1908.2" y2="1084.8" stroke="#1a1a1a" stroke-width="1.9"/>
<line x1="1962.5" y1="1073.2" x2="1962.5" y2="1084.8" stroke="#1a1a1a" stroke-width="1.9"/>
<line x1="2016.8" y1="1073.2" x2="2016.8" y2="1084.8" stroke="#1a1a1a" stroke-width="1.9"/>
<line x1="2071.0" y1="1073.2" x2="2071.0" y2="1084.8" stroke="#1a1a1a" stroke-width="1.9"/>
<line x1="1840.0" y1="901.1" x2="1854.0" y2="901.1" stroke="#1a1a1a" stroke-width="1.9"/>
<line x1="1840.0" y1="944.1" x2="1854.0" y2="944.1" stroke="#1a1a1a" stroke-width="1.9"/>
<line x1="1840.0" y1="987.2" x2="1854.0" y2="987.2" stroke="#1a1a1a" stroke-width="1.9"/>
<line x1="1840.0" y1="1030.2" x2="1854.0" y2="1030.2" stroke="#1a1a1a" stroke-width="1.9"/>
<text x="1854.5" y="1101.8" font-size="14.2" text-anchor="middle" font-weight="normal" fill="#1a1a1a" letter-spacing="0.8">0</text>
<text x="1908.8" y="1101.8" font-size="14.2" text-anchor="middle" font-weight="normal" fill="#1a1a1a" letter-spacing="0.8">0.5</text>
<text x="1963.0" y="1101.8" font-size="14.2" text-anchor="middle" font-weight="normal" fill="#1a1a1a" letter-spacing="0.8">1</text>
<text x="2017.2" y="1101.8" font-size="14.2" text-anchor="middle" font-weight="normal" fill="#1a1a1a" letter-spacing="0.8">1.5</text>
<text x="2071.5" y="1101.8" font-size="14.2" text-anchor="middle" font-weight="normal" fill="#1a1a1a" letter-spacing="0.8">2</text>
<text x="1838.5" y="906.3" font-size="14.2" text-anchor="end" font-weight="normal" fill="#1a1a1a" letter-spacing="0.8">60</text>
<text x="1838.5" y="949.3" font-size="14.2" text-anchor="end" font-weight="normal" fill="#1a1a1a" letter-spacing="0.8">40</text>
<text x="1838.5" y="992.4" font-size="14.2" text-anchor="end" font-weight="normal" fill="#1a1a1a" letter-spacing="0.8">20</text>
<text x="1838.5" y="1035.4" font-size="14.2" text-anchor="end" font-weight="normal" fill="#1a1a1a" letter-spacing="0.8">0</text>
<text x="1838.5" y="1078.4" font-size="14.2" text-anchor="end" font-weight="normal" fill="#1a1a1a" letter-spacing="0.8">-20</text>
<text x="1962.0" y="1130.0" font-size="19.5" text-anchor="middle" font-weight="normal" fill="#111">anterior-posterior (mm)</text>
<text x="1810.0" y="987.2" font-size="19.5" text-anchor="middle" font-weight="normal" fill="#111" transform="rotate(-90 1810.0 987.2)">dF/F (%)</text>
<text x="1864.4" y="906.3" font-size="14.0" text-anchor="start" font-weight="normal" fill="#1a1a1a" letter-spacing="0.65">r = −0.16</text>
<text x="-1.0" y="1181.5" font-size="47.0" text-anchor="start" font-weight="bold" fill="#000">D</text>
<text x="105.8" y="1298.6" font-size="38.9" text-anchor="middle" font-weight="normal" fill="#000" transform="rotate(-90 105.8 1298.6)">Airpuff</text>
<line x1="212.4" y1="1365.5" x2="212.4" y2="1205.3" stroke="#111" stroke-width="1.9" stroke-dasharray="1.9 15.65" stroke-dashoffset="8.0"/>
<line x1="275.9" y1="1362.4" x2="275.9" y2="1202.2" stroke="#111" stroke-width="1.9" stroke-dasharray="1.9 15.65" stroke-dashoffset="8.0"/>
<line x1="339.5" y1="1359.2" x2="339.5" y2="1199.0" stroke="#111" stroke-width="1.9" stroke-dasharray="1.9 15.65" stroke-dashoffset="8.0"/>
<line x1="403.0" y1="1356.1" x2="403.0" y2="1195.9" stroke="#111" stroke-width="1.9" stroke-dasharray="1.9 15.65" stroke-dashoffset="8.0"/>
<line x1="466.6" y1="1352.9" x2="466.6" y2="1192.7" stroke="#111" stroke-width="1.9" stroke-dasharray="1.9 15.65" stroke-dashoffset="8.0"/>
<line x1="530.1" y1="1349.8" x2="530.1" y2="1189.6" stroke="#111" stroke-width="1.9" stroke-dasharray="1.9 15.65" stroke-dashoffset="8.0"/>
<line x1="212.4" y1="1365.5" x2="530.1" y2="1349.8" stroke="#111" stroke-width="1.9" stroke-dasharray="1.9 15.65" stroke-dashoffset="8.0"/>
<line x1="212.4" y1="1325.5" x2="530.1" y2="1309.8" stroke="#111" stroke-width="1.9" stroke-dasharray="1.9 15.65" stroke-dashoffset="8.0"/>
<line x1="212.4" y1="1285.4" x2="530.1" y2="1269.7" stroke="#111" stroke-width="1.9" stroke-dasharray="1.9 15.65" stroke-dashoffset="8.0"/>
<line x1="212.4" y1="1245.3" x2="530.1" y2="1229.7" stroke="#111" stroke-width="1.9" stroke-dasharray="1.9 15.65" stroke-dashoffset="8.0"/>
<line x1="212.4" y1="1205.3" x2="530.1" y2="1189.6" stroke="#111" stroke-width="1.9" stroke-dasharray="1.9 15.65" stroke-dashoffset="8.0"/>
<line x1="588.2" y1="1370.0" x2="588.2" y2="1209.8" stroke="#111" stroke-width="1.9" stroke-dasharray="1.9 15.65" stroke-dashoffset="8.0"/>
<line x1="646.2" y1="1390.2" x2="646.2" y2="1230.0" stroke="#111" stroke-width="1.9" stroke-dasharray="1.9 15.65" stroke-dashoffset="8.0"/>
<line x1="530.1" y1="1349.8" x2="646.2" y2="1390.2" stroke="#111" stroke-width="1.9" stroke-dasharray="1.9 15.65" stroke-dashoffset="8.0"/>
<line x1="530.1" y1="1309.8" x2="646.2" y2="1350.2" stroke="#111" stroke-width="1.9" stroke-dasharray="1.9 15.65" stroke-dashoffset="8.0"/>
<line x1="530.1" y1="1269.7" x2="646.2" y2="1310.1" stroke="#111" stroke-width="1.9" stroke-dasharray="1.9 15.65" stroke-dashoffset="8.0"/>
<line x1="530.1" y1="1229.7" x2="646.2" y2="1270.1" stroke="#111" stroke-width="1.9" stroke-dasharray="1.9 15.65" stroke-dashoffset="8.0"/>
<line x1="530.1" y1="1189.6" x2="646.2" y2="1230.0" stroke="#111" stroke-width="1.9" stroke-dasharray="1.9 15.65" stroke-dashoffset="8.0"/>
<line x1="275.9" y1="1362.4" x2="390.0" y2="1402.4" stroke="#111" stroke-width="1.9" stroke-dasharray="1.9 15.65" stroke-dashoffset="8.0"/>
<line x1="339.5" y1="1359.2" x2="454.1" y2="1399.3" stroke="#111" stroke-width="1.9" stroke-dasharray="1.9 15.65" stroke-dashoffset="8.0"/>
<line x1="403.0" y1="1356.1" x2="518.1" y2="1396.3" stroke="#111" stroke-width="1.9" stroke-dasharray="1.9 15.65" stroke-dashoffset="8.0"/>
<line x1="466.6" y1="1352.9" x2="582.2" y2="1393.2" stroke="#111" stroke-width="1.9" stroke-dasharray="1.9 15.65" stroke-dashoffset="8.0"/>
<line x1="269.2" y1="1385.5" x2="588.2" y2="1370.0" stroke="#111" stroke-width="1.9" stroke-dasharray="1.9 15.65" stroke-dashoffset="8.0"/>
<circle cx="366.3" cy="1241.8" r="6.3" fill="#d0c6c0"/>
<circle cx="398.8" cy="1236.5" r="6.3" fill="#cfccc5"/>
<circle cx="351.4" cy="1267.6" r="6.3" fill="#d2c0ba"/>
<circle cx="380.5" cy="1267.2" r="6.3" fill="#df8782"/>
<circle cx="402.2" cy="1271.4" r="6.3" fill="#ea5a57"/>
<circle cx="391.0" cy="1286.3" r="6.3" fill="#d0c6c0"/>
<circle cx="412.2" cy="1288.1" r="6.3" fill="#cfccc5"/>
<circle cx="439.1" cy="1288.1" r="6.3" fill="#f91b1a"/>
<circle cx="310.7" cy="1291.4" r="6.3" fill="#9d9bd3"/>
<circle cx="327.8" cy="1290.8" r="6.3" fill="#bfbcc9"/>
<circle cx="302.4" cy="1314.2" r="6.3" fill="#cfccc5"/>
<circle cx="326.7" cy="1313.9" r="6.3" fill="#9d9bd3"/>
<circle cx="339.9" cy="1312.7" r="6.3" fill="#9391d6"/>
<circle cx="323.0" cy="1320.2" r="6.3" fill="#9d9bd3"/>
<circle cx="352.4" cy="1320.2" r="6.3" fill="#1b1bf7"/>
<circle cx="366.3" cy="1322.5" r="6.3" fill="#bfbcc9"/>
<circle cx="343.2" cy="1324.7" r="6.3" fill="#8987d9"/>
<circle cx="340.2" cy="1327.7" r="6.3" fill="#afadce"/>
<circle cx="350.6" cy="1327.7" r="6.3" fill="#cfccc5"/>
<circle cx="339.4" cy="1331.4" r="6.3" fill="#7371df"/>
<circle cx="353.2" cy="1335.6" r="6.3" fill="#a6a4d0"/>
<circle cx="323.4" cy="1335.9" r="6.3" fill="#6766e2"/>
<circle cx="339.4" cy="1338.2" r="6.3" fill="#9391d6"/>
<circle cx="333.5" cy="1335.9" r="6.3" fill="#6766e2"/>
<circle cx="303.9" cy="1338.2" r="6.3" fill="#2928f4"/>
<circle cx="323.0" cy="1343.4" r="6.3" fill="#9d9bd3"/>
<circle cx="337.9" cy="1350.1" r="6.3" fill="#c6c3c8"/>
<circle cx="384.7" cy="1348.6" r="6.3" fill="#cfccc5"/>
<circle cx="452.9" cy="1259.7" r="6.3" fill="#ff0000"/>
<circle cx="456.9" cy="1275.6" r="6.3" fill="#f62827"/>
<circle cx="447.2" cy="1277.8" r="6.3" fill="#dd918c"/>
<circle cx="483.5" cy="1278.4" r="6.3" fill="#cfccc5"/>
<circle cx="466.3" cy="1291.2" r="6.3" fill="#c6c3c8"/>
<circle cx="514.7" cy="1252.7" r="6.3" fill="#cfccc5"/>
<circle cx="529.1" cy="1253.7" r="6.3" fill="#cfccc5"/>
<circle cx="561.5" cy="1243.0" r="6.3" fill="#cfccc5"/>
<circle cx="594.8" cy="1285.6" r="6.3" fill="#cfccc5"/>
<circle cx="528.2" cy="1297.5" r="6.3" fill="#cfccc5"/>
<circle cx="605.1" cy="1312.0" r="6.3" fill="#cfccc5"/>
<circle cx="600.8" cy="1324.1" r="6.3" fill="#cfccc5"/>
<circle cx="583.2" cy="1229.8" r="6.3" fill="#ff0000"/>
<circle cx="553.3" cy="1244.5" r="6.3" fill="#ff0000"/>
<circle cx="544.3" cy="1247.9" r="6.3" fill="#ff0000"/>
<circle cx="548.1" cy="1249.0" r="6.3" fill="#d1c3bc"/>
<circle cx="546.9" cy="1257.9" r="6.3" fill="#f62827"/>
<circle cx="563.0" cy="1263.4" r="6.3" fill="#ff0000"/>
<circle cx="582.1" cy="1262.7" r="6.3" fill="#ff0000"/>
<circle cx="536.1" cy="1270.6" r="6.3" fill="#fc0e0d"/>
<circle cx="589.9" cy="1274.7" r="6.3" fill="#ff0000"/>
<circle cx="577.2" cy="1278.5" r="6.3" fill="#dd918c"/>
<circle cx="539.5" cy="1283.3" r="6.3" fill="#ff0000"/>
<circle cx="537.6" cy="1285.1" r="6.3" fill="#ff0000"/>
<circle cx="560.8" cy="1295.3" r="6.3" fill="#ff0000"/>
<circle cx="562.2" cy="1299.0" r="6.3" fill="#ff0000"/>
<circle cx="573.5" cy="1300.2" r="6.3" fill="#ff0000"/>
<circle cx="540.9" cy="1303.9" r="6.3" fill="#f62827"/>
<circle cx="539.8" cy="1300.5" r="6.3" fill="#f62827"/>
<polyline points="212.4,1205.3 212.4,1365.5 326.0,1405.4 646.2,1390.2" fill="none" stroke="#000" stroke-width="2.2" stroke-linejoin="miter"/>
<line x1="204.9" y1="1363.2" x2="212.4" y2="1365.5" stroke="#000" stroke-width="2.0"/>
<text x="201.9" y="1364.1" font-size="14.0" text-anchor="end" font-weight="normal" fill="#1a1a1a">0</text>
<line x1="204.9" y1="1323.2" x2="212.4" y2="1325.5" stroke="#000" stroke-width="2.0"/>
<text x="201.9" y="1326.0" font-size="14.0" text-anchor="end" font-weight="normal" fill="#1a1a1a">0.5</text>
<line x1="204.9" y1="1283.1" x2="212.4" y2="1285.4" stroke="#000" stroke-width="2.0"/>
<text x="201.9" y="1286.0" font-size="14.0" text-anchor="end" font-weight="normal" fill="#1a1a1a">1</text>
<line x1="204.9" y1="1243.0" x2="212.4" y2="1245.3" stroke="#000" stroke-width="2.0"/>
<text x="201.9" y="1245.9" font-size="14.0" text-anchor="end" font-weight="normal" fill="#1a1a1a">1.5</text>
<line x1="204.9" y1="1203.0" x2="212.4" y2="1205.3" stroke="#000" stroke-width="2.0"/>
<text x="201.9" y="1205.9" font-size="14.0" text-anchor="end" font-weight="normal" fill="#1a1a1a">2</text>
<line x1="204.9" y1="1366.1" x2="212.4" y2="1365.5" stroke="#000" stroke-width="2.0"/>
<text x="200.1" y="1380.4" font-size="14.0" text-anchor="middle" font-weight="normal" fill="#1a1a1a">0</text>
<line x1="261.7" y1="1386.0" x2="269.2" y2="1385.5" stroke="#000" stroke-width="2.0"/>
<text x="256.9" y="1399.0" font-size="14.0" text-anchor="middle" font-weight="normal" fill="#1a1a1a">1</text>
<line x1="318.5" y1="1406.0" x2="326.0" y2="1405.4" stroke="#000" stroke-width="2.0"/>
<text x="313.7" y="1418.9" font-size="14.0" text-anchor="middle" font-weight="normal" fill="#1a1a1a">2</text>
<line x1="326.0" y1="1405.4" x2="333.0" y2="1408.6" stroke="#000" stroke-width="2.0"/>
<text x="335.7" y="1421.8" font-size="14.0" text-anchor="start" font-weight="normal" fill="#1a1a1a">0</text>
<line x1="390.0" y1="1402.4" x2="397.0" y2="1405.6" stroke="#000" stroke-width="2.0"/>
<text x="399.7" y="1418.8" font-size="14.0" text-anchor="start" font-weight="normal" fill="#1a1a1a">0.5</text>
<line x1="454.1" y1="1399.3" x2="461.1" y2="1402.5" stroke="#000" stroke-width="2.0"/>
<text x="463.8" y="1415.7" font-size="14.0" text-anchor="start" font-weight="normal" fill="#1a1a1a">1</text>
<line x1="518.1" y1="1396.3" x2="525.1" y2="1399.5" stroke="#000" stroke-width="2.0"/>
<text x="527.8" y="1412.7" font-size="14.0" text-anchor="start" font-weight="normal" fill="#1a1a1a">1.5</text>
<line x1="582.2" y1="1393.2" x2="589.2" y2="1396.4" stroke="#000" stroke-width="2.0"/>
<text x="591.9" y="1409.6" font-size="14.0" text-anchor="start" font-weight="normal" fill="#1a1a1a">2</text>
<line x1="646.2" y1="1390.2" x2="653.2" y2="1393.4" stroke="#000" stroke-width="2.0"/>
<text x="655.9" y="1406.6" font-size="14.0" text-anchor="start" font-weight="normal" fill="#1a1a1a">2.5</text>
<text x="174.9" y="1285.4" font-size="15.0" text-anchor="middle" font-weight="normal" fill="#1a1a1a" transform="rotate(-90 174.9 1285.4)">dorsal−ventral</text>
<text x="247.3" y="1418.0" font-size="15.0" text-anchor="middle" font-weight="normal" fill="#1a1a1a" transform="rotate(19.3 247.3 1418.0)">medial−lateral</text>
<text x="508.0" y="1438.5" font-size="15.0" text-anchor="middle" font-weight="normal" fill="#1a1a1a" transform="rotate(-3.2 508.0 1438.5)">anterior−posterior</text>
<rect x="693.2" y="1176.1" width="27.80" height="221.6" fill="url(#cb)"/>
<text x="724.5" y="1181.7" font-size="14" text-anchor="start" font-weight="normal" fill="#111">15%</text>
<text x="724.5" y="1292.7" font-size="14" text-anchor="start" font-weight="normal" fill="#111">0%</text>
<text x="724.5" y="1402.8" font-size="14" text-anchor="start" font-weight="normal" fill="#111">-15%</text>
<line x1="925.4" y1="1175.7" x2="925.4" y2="1347.0" stroke="#8c8c8c" stroke-width="1.7" stroke-dasharray="7.75 7.75" stroke-dashoffset="3.9"/>
<line x1="968.9" y1="1175.7" x2="968.9" y2="1347.0" stroke="#8c8c8c" stroke-width="1.7" stroke-dasharray="7.75 7.75" stroke-dashoffset="3.9"/>
<line x1="1012.3" y1="1175.7" x2="1012.3" y2="1347.0" stroke="#8c8c8c" stroke-width="1.7" stroke-dasharray="7.75 7.75" stroke-dashoffset="3.9"/>
<line x1="1055.8" y1="1175.7" x2="1055.8" y2="1347.0" stroke="#8c8c8c" stroke-width="1.7" stroke-dasharray="7.75 7.75" stroke-dashoffset="3.9"/>
<line x1="1099.2" y1="1175.7" x2="1099.2" y2="1347.0" stroke="#8c8c8c" stroke-width="1.7" stroke-dasharray="7.75 7.75" stroke-dashoffset="3.9"/>
<line x1="882.0" y1="1304.2" x2="1099.2" y2="1304.2" stroke="#8c8c8c" stroke-width="1.7" stroke-dasharray="7.75 7.75" stroke-dashoffset="4.4"/>
<line x1="882.0" y1="1261.4" x2="1099.2" y2="1261.4" stroke="#8c8c8c" stroke-width="1.7" stroke-dasharray="7.75 7.75" stroke-dashoffset="4.4"/>
<line x1="882.0" y1="1218.5" x2="1099.2" y2="1218.5" stroke="#8c8c8c" stroke-width="1.7" stroke-dasharray="7.75 7.75" stroke-dashoffset="4.4"/>
<line x1="882.0" y1="1175.7" x2="1099.2" y2="1175.7" stroke="#8c8c8c" stroke-width="1.7" stroke-dasharray="7.75 7.75" stroke-dashoffset="4.4"/>
<circle cx="905.0" cy="1296.4" r="5.55" fill="#cfccc5"/>
<circle cx="945.1" cy="1314.7" r="5.55" fill="#afadce"/>
<circle cx="923.3" cy="1314.7" r="5.55" fill="#2928f4"/>
<circle cx="928.7" cy="1248.8" r="5.55" fill="#d3bcb6"/>
<circle cx="943.2" cy="1265.4" r="5.55" fill="#c6c3c8"/>
<circle cx="918.1" cy="1272.4" r="5.55" fill="#9d9bd3"/>
<circle cx="918.8" cy="1293.4" r="5.55" fill="#9d9bd3"/>
<circle cx="928.1" cy="1291.7" r="5.55" fill="#9391d6"/>
<circle cx="936.6" cy="1300.5" r="5.55" fill="#7371df"/>
<circle cx="937.9" cy="1295.3" r="5.55" fill="#9d9bd3"/>
<circle cx="941.1" cy="1311.8" r="5.55" fill="#a6a4d0"/>
<circle cx="945.6" cy="1303.7" r="5.55" fill="#6766e2"/>
<circle cx="947.5" cy="1306.8" r="5.55" fill="#8987d9"/>
<circle cx="950.7" cy="1299.4" r="5.55" fill="#cfccc5"/>
<circle cx="929.4" cy="1312.3" r="5.55" fill="#6766e2"/>
<circle cx="933.8" cy="1324.7" r="5.55" fill="#cbc8c6"/>
<line x1="882.0" y1="1174.8" x2="882.0" y2="1359.6" stroke="#1a1a1a" stroke-width="1.9"/>
<line x1="868.4" y1="1347.0" x2="1100.1" y2="1347.0" stroke="#1a1a1a" stroke-width="1.9"/>
<line x1="925.4" y1="1347.0" x2="925.4" y2="1359.6" stroke="#1a1a1a" stroke-width="1.9"/>
<line x1="968.9" y1="1347.0" x2="968.9" y2="1359.6" stroke="#1a1a1a" stroke-width="1.9"/>
<line x1="1012.3" y1="1347.0" x2="1012.3" y2="1359.6" stroke="#1a1a1a" stroke-width="1.9"/>
<line x1="1055.8" y1="1347.0" x2="1055.8" y2="1359.6" stroke="#1a1a1a" stroke-width="1.9"/>
<line x1="1099.2" y1="1347.0" x2="1099.2" y2="1359.6" stroke="#1a1a1a" stroke-width="1.9"/>
<line x1="868.4" y1="1304.2" x2="882.0" y2="1304.2" stroke="#1a1a1a" stroke-width="1.9"/>
<line x1="868.4" y1="1261.4" x2="882.0" y2="1261.4" stroke="#1a1a1a" stroke-width="1.9"/>
<line x1="868.4" y1="1218.5" x2="882.0" y2="1218.5" stroke="#1a1a1a" stroke-width="1.9"/>
<line x1="868.4" y1="1175.7" x2="882.0" y2="1175.7" stroke="#1a1a1a" stroke-width="1.9"/>
<text x="881.0" y="1376.0" font-size="14.2" text-anchor="middle" font-weight="normal" fill="#1a1a1a" letter-spacing="0.8">0</text>
<text x="924.4" y="1376.0" font-size="14.2" text-anchor="middle" font-weight="normal" fill="#1a1a1a" letter-spacing="0.8">0.5</text>
<text x="967.9" y="1376.0" font-size="14.2" text-anchor="middle" font-weight="normal" fill="#1a1a1a" letter-spacing="0.8">1</text>
<text x="1011.3" y="1376.0" font-size="14.2" text-anchor="middle" font-weight="normal" fill="#1a1a1a" letter-spacing="0.8">1.5</text>
<text x="1054.8" y="1376.0" font-size="14.2" text-anchor="middle" font-weight="normal" fill="#1a1a1a" letter-spacing="0.8">2</text>
<text x="1098.2" y="1376.0" font-size="14.2" text-anchor="middle" font-weight="normal" fill="#1a1a1a" letter-spacing="0.8">2.5</text>
<text x="865.0" y="1352.0" font-size="14.2" text-anchor="end" font-weight="normal" fill="#1a1a1a" letter-spacing="0.8">0</text>
<text x="865.0" y="1309.2" font-size="14.2" text-anchor="end" font-weight="normal" fill="#1a1a1a" letter-spacing="0.8">0.5</text>
<text x="865.0" y="1266.4" font-size="14.2" text-anchor="end" font-weight="normal" fill="#1a1a1a" letter-spacing="0.8">1</text>
<text x="865.0" y="1223.5" font-size="14.2" text-anchor="end" font-weight="normal" fill="#1a1a1a" letter-spacing="0.8">1.5</text>
<text x="865.0" y="1180.7" font-size="14.2" text-anchor="end" font-weight="normal" fill="#1a1a1a" letter-spacing="0.8">2</text>
<text x="989.9" y="1404.7" font-size="19.5" text-anchor="middle" font-weight="normal" fill="#111">medial-lateral (mm)</text>
<text x="833.0" y="1261.4" font-size="19.5" text-anchor="middle" font-weight="normal" fill="#111" transform="rotate(-90 833.0 1261.4)">dorsal-ventral (mm)</text>
<line x1="1250.4" y1="1175.7" x2="1250.4" y2="1347.0" stroke="#8c8c8c" stroke-width="1.7" stroke-dasharray="7.75 7.75" stroke-dashoffset="3.9"/>
<line x1="1293.9" y1="1175.7" x2="1293.9" y2="1347.0" stroke="#8c8c8c" stroke-width="1.7" stroke-dasharray="7.75 7.75" stroke-dashoffset="3.9"/>
<line x1="1337.3" y1="1175.7" x2="1337.3" y2="1347.0" stroke="#8c8c8c" stroke-width="1.7" stroke-dasharray="7.75 7.75" stroke-dashoffset="3.9"/>
<line x1="1380.8" y1="1175.7" x2="1380.8" y2="1347.0" stroke="#8c8c8c" stroke-width="1.7" stroke-dasharray="7.75 7.75" stroke-dashoffset="3.9"/>
<line x1="1424.2" y1="1175.7" x2="1424.2" y2="1347.0" stroke="#8c8c8c" stroke-width="1.7" stroke-dasharray="7.75 7.75" stroke-dashoffset="3.9"/>
<line x1="1207.0" y1="1304.2" x2="1424.2" y2="1304.2" stroke="#8c8c8c" stroke-width="1.7" stroke-dasharray="7.75 7.75" stroke-dashoffset="4.4"/>
<line x1="1207.0" y1="1261.4" x2="1424.2" y2="1261.4" stroke="#8c8c8c" stroke-width="1.7" stroke-dasharray="7.75 7.75" stroke-dashoffset="4.4"/>
<line x1="1207.0" y1="1218.5" x2="1424.2" y2="1218.5" stroke="#8c8c8c" stroke-width="1.7" stroke-dasharray="7.75 7.75" stroke-dashoffset="4.4"/>
<line x1="1207.0" y1="1175.7" x2="1424.2" y2="1175.7" stroke="#8c8c8c" stroke-width="1.7" stroke-dasharray="7.75 7.75" stroke-dashoffset="4.4"/>
<circle cx="1265.5" cy="1217.8" r="5.55" fill="#cfccc5"/>
<circle cx="1252.6" cy="1224.8" r="5.55" fill="#d0c6c0"/>
<circle cx="1320.3" cy="1228.6" r="5.55" fill="#ff0000"/>
<circle cx="1269.2" cy="1245.3" r="5.55" fill="#e76662"/>
<circle cx="1270.8" cy="1250.6" r="5.55" fill="#ea5a57"/>
<circle cx="1320.3" cy="1247.7" r="5.55" fill="#cfccc5"/>
<circle cx="1324.0" cy="1244.0" r="5.55" fill="#db9b95"/>
<circle cx="1338.5" cy="1254.6" r="5.55" fill="#c6c3c8"/>
<circle cx="1331.6" cy="1240.9" r="5.55" fill="#f91b1a"/>
<circle cx="1328.0" cy="1253.0" r="5.55" fill="#fc0e0d"/>
<circle cx="1293.4" cy="1260.9" r="5.55" fill="#cfccc5"/>
<circle cx="1277.1" cy="1262.3" r="5.55" fill="#d0c8c2"/>
<circle cx="1266.6" cy="1297.8" r="5.55" fill="#c3c0c8"/>
<circle cx="1238.1" cy="1302.6" r="5.55" fill="#1b1bf7"/>
<circle cx="1251.0" cy="1313.4" r="5.55" fill="#a6a4d0"/>
<circle cx="1271.9" cy="1322.5" r="5.55" fill="#cfccc5"/>
<line x1="1207.0" y1="1174.8" x2="1207.0" y2="1359.6" stroke="#1a1a1a" stroke-width="1.9"/>
<line x1="1193.4" y1="1347.0" x2="1425.1" y2="1347.0" stroke="#1a1a1a" stroke-width="1.9"/>
<line x1="1250.4" y1="1347.0" x2="1250.4" y2="1359.6" stroke="#1a1a1a" stroke-width="1.9"/>
<line x1="1293.9" y1="1347.0" x2="1293.9" y2="1359.6" stroke="#1a1a1a" stroke-width="1.9"/>
<line x1="1337.3" y1="1347.0" x2="1337.3" y2="1359.6" stroke="#1a1a1a" stroke-width="1.9"/>
<line x1="1380.8" y1="1347.0" x2="1380.8" y2="1359.6" stroke="#1a1a1a" stroke-width="1.9"/>
<line x1="1424.2" y1="1347.0" x2="1424.2" y2="1359.6" stroke="#1a1a1a" stroke-width="1.9"/>
<line x1="1193.4" y1="1304.2" x2="1207.0" y2="1304.2" stroke="#1a1a1a" stroke-width="1.9"/>
<line x1="1193.4" y1="1261.4" x2="1207.0" y2="1261.4" stroke="#1a1a1a" stroke-width="1.9"/>
<line x1="1193.4" y1="1218.5" x2="1207.0" y2="1218.5" stroke="#1a1a1a" stroke-width="1.9"/>
<line x1="1193.4" y1="1175.7" x2="1207.0" y2="1175.7" stroke="#1a1a1a" stroke-width="1.9"/>
<text x="1206.0" y="1376.0" font-size="14.2" text-anchor="middle" font-weight="normal" fill="#1a1a1a" letter-spacing="0.8">0</text>
<text x="1249.4" y="1376.0" font-size="14.2" text-anchor="middle" font-weight="normal" fill="#1a1a1a" letter-spacing="0.8">0.5</text>
<text x="1292.9" y="1376.0" font-size="14.2" text-anchor="middle" font-weight="normal" fill="#1a1a1a" letter-spacing="0.8">1</text>
<text x="1336.3" y="1376.0" font-size="14.2" text-anchor="middle" font-weight="normal" fill="#1a1a1a" letter-spacing="0.8">1.5</text>
<text x="1379.8" y="1376.0" font-size="14.2" text-anchor="middle" font-weight="normal" fill="#1a1a1a" letter-spacing="0.8">2</text>
<text x="1423.2" y="1376.0" font-size="14.2" text-anchor="middle" font-weight="normal" fill="#1a1a1a" letter-spacing="0.8">2.5</text>
<text x="1190.0" y="1352.0" font-size="14.2" text-anchor="end" font-weight="normal" fill="#1a1a1a" letter-spacing="0.8">0</text>
<text x="1190.0" y="1309.2" font-size="14.2" text-anchor="end" font-weight="normal" fill="#1a1a1a" letter-spacing="0.8">0.5</text>
<text x="1190.0" y="1266.4" font-size="14.2" text-anchor="end" font-weight="normal" fill="#1a1a1a" letter-spacing="0.8">1</text>
<text x="1190.0" y="1223.5" font-size="14.2" text-anchor="end" font-weight="normal" fill="#1a1a1a" letter-spacing="0.8">1.5</text>
<text x="1190.0" y="1180.7" font-size="14.2" text-anchor="end" font-weight="normal" fill="#1a1a1a" letter-spacing="0.8">2</text>
<text x="1318.6" y="1404.7" font-size="19.5" text-anchor="middle" font-weight="normal" fill="#111">medial-lateral (mm)</text>
<text x="1154.2" y="1261.4" font-size="19.5" text-anchor="middle" font-weight="normal" fill="#111" transform="rotate(-90 1154.2 1261.4)">dorsal-ventral (mm)</text>
<line x1="1575.4" y1="1175.7" x2="1575.4" y2="1347.0" stroke="#8c8c8c" stroke-width="1.7" stroke-dasharray="7.75 7.75" stroke-dashoffset="3.9"/>
<line x1="1618.9" y1="1175.7" x2="1618.9" y2="1347.0" stroke="#8c8c8c" stroke-width="1.7" stroke-dasharray="7.75 7.75" stroke-dashoffset="3.9"/>
<line x1="1662.3" y1="1175.7" x2="1662.3" y2="1347.0" stroke="#8c8c8c" stroke-width="1.7" stroke-dasharray="7.75 7.75" stroke-dashoffset="3.9"/>
<line x1="1705.8" y1="1175.7" x2="1705.8" y2="1347.0" stroke="#8c8c8c" stroke-width="1.7" stroke-dasharray="7.75 7.75" stroke-dashoffset="3.9"/>
<line x1="1749.2" y1="1175.7" x2="1749.2" y2="1347.0" stroke="#8c8c8c" stroke-width="1.7" stroke-dasharray="7.75 7.75" stroke-dashoffset="3.9"/>
<line x1="1532.0" y1="1304.2" x2="1749.2" y2="1304.2" stroke="#8c8c8c" stroke-width="1.7" stroke-dasharray="7.75 7.75" stroke-dashoffset="4.4"/>
<line x1="1532.0" y1="1261.4" x2="1749.2" y2="1261.4" stroke="#8c8c8c" stroke-width="1.7" stroke-dasharray="7.75 7.75" stroke-dashoffset="4.4"/>
<line x1="1532.0" y1="1218.5" x2="1749.2" y2="1218.5" stroke="#8c8c8c" stroke-width="1.7" stroke-dasharray="7.75 7.75" stroke-dashoffset="4.4"/>
<line x1="1532.0" y1="1175.7" x2="1749.2" y2="1175.7" stroke="#8c8c8c" stroke-width="1.7" stroke-dasharray="7.75 7.75" stroke-dashoffset="4.4"/>
<circle cx="1646.9" cy="1225.4" r="5.55" fill="#cfccc5"/>
<circle cx="1655.0" cy="1224.3" r="5.55" fill="#ff0000"/>
<circle cx="1656.6" cy="1220.3" r="5.55" fill="#ff0000"/>
<circle cx="1658.2" cy="1214.2" r="5.55" fill="#cfccc5"/>
<circle cx="1660.3" cy="1228.3" r="5.55" fill="#f62827"/>
<circle cx="1673.2" cy="1230.8" r="5.55" fill="#ff0000"/>
<circle cx="1676.7" cy="1229.1" r="5.55" fill="#ff0000"/>
<circle cx="1688.8" cy="1195.7" r="5.55" fill="#ff0000"/>
<circle cx="1678.0" cy="1210.6" r="5.55" fill="#ff0000"/>
<circle cx="1661.5" cy="1238.9" r="5.55" fill="#f62827"/>
<circle cx="1684.8" cy="1239.6" r="5.55" fill="#ff0000"/>
<circle cx="1664.7" cy="1249.3" r="5.55" fill="#ff0000"/>
<circle cx="1671.9" cy="1250.6" r="5.55" fill="#ff0000"/>
<circle cx="1675.2" cy="1245.6" r="5.55" fill="#dd918c"/>
<circle cx="1686.4" cy="1249.8" r="5.55" fill="#cfccc5"/>
<circle cx="1676.7" cy="1267.0" r="5.55" fill="#f62827"/>
<circle cx="1677.6" cy="1262.1" r="5.55" fill="#ff0000"/>
<circle cx="1680.0" cy="1258.2" r="5.55" fill="#ff0000"/>
<circle cx="1686.9" cy="1262.7" r="5.55" fill="#ff0000"/>
<circle cx="1664.7" cy="1263.4" r="5.55" fill="#cfccc5"/>
<circle cx="1652.9" cy="1269.2" r="5.55" fill="#f33533"/>
<circle cx="1698.0" cy="1272.2" r="5.55" fill="#cfccc5"/>
<circle cx="1702.9" cy="1282.5" r="5.55" fill="#cfccc5"/>
<line x1="1532.0" y1="1174.8" x2="1532.0" y2="1359.6" stroke="#1a1a1a" stroke-width="1.9"/>
<line x1="1518.4" y1="1347.0" x2="1750.1" y2="1347.0" stroke="#1a1a1a" stroke-width="1.9"/>
<line x1="1575.4" y1="1347.0" x2="1575.4" y2="1359.6" stroke="#1a1a1a" stroke-width="1.9"/>
<line x1="1618.9" y1="1347.0" x2="1618.9" y2="1359.6" stroke="#1a1a1a" stroke-width="1.9"/>
<line x1="1662.3" y1="1347.0" x2="1662.3" y2="1359.6" stroke="#1a1a1a" stroke-width="1.9"/>
<line x1="1705.8" y1="1347.0" x2="1705.8" y2="1359.6" stroke="#1a1a1a" stroke-width="1.9"/>
<line x1="1749.2" y1="1347.0" x2="1749.2" y2="1359.6" stroke="#1a1a1a" stroke-width="1.9"/>
<line x1="1518.4" y1="1304.2" x2="1532.0" y2="1304.2" stroke="#1a1a1a" stroke-width="1.9"/>
<line x1="1518.4" y1="1261.4" x2="1532.0" y2="1261.4" stroke="#1a1a1a" stroke-width="1.9"/>
<line x1="1518.4" y1="1218.5" x2="1532.0" y2="1218.5" stroke="#1a1a1a" stroke-width="1.9"/>
<line x1="1518.4" y1="1175.7" x2="1532.0" y2="1175.7" stroke="#1a1a1a" stroke-width="1.9"/>
<text x="1531.0" y="1376.0" font-size="14.2" text-anchor="middle" font-weight="normal" fill="#1a1a1a" letter-spacing="0.8">0</text>
<text x="1574.4" y="1376.0" font-size="14.2" text-anchor="middle" font-weight="normal" fill="#1a1a1a" letter-spacing="0.8">0.5</text>
<text x="1617.9" y="1376.0" font-size="14.2" text-anchor="middle" font-weight="normal" fill="#1a1a1a" letter-spacing="0.8">1</text>
<text x="1661.3" y="1376.0" font-size="14.2" text-anchor="middle" font-weight="normal" fill="#1a1a1a" letter-spacing="0.8">1.5</text>
<text x="1704.8" y="1376.0" font-size="14.2" text-anchor="middle" font-weight="normal" fill="#1a1a1a" letter-spacing="0.8">2</text>
<text x="1748.2" y="1376.0" font-size="14.2" text-anchor="middle" font-weight="normal" fill="#1a1a1a" letter-spacing="0.8">2.5</text>
<text x="1515.0" y="1352.0" font-size="14.2" text-anchor="end" font-weight="normal" fill="#1a1a1a" letter-spacing="0.8">0</text>
<text x="1515.0" y="1309.2" font-size="14.2" text-anchor="end" font-weight="normal" fill="#1a1a1a" letter-spacing="0.8">0.5</text>
<text x="1515.0" y="1266.4" font-size="14.2" text-anchor="end" font-weight="normal" fill="#1a1a1a" letter-spacing="0.8">1</text>
<text x="1515.0" y="1223.5" font-size="14.2" text-anchor="end" font-weight="normal" fill="#1a1a1a" letter-spacing="0.8">1.5</text>
<text x="1515.0" y="1180.7" font-size="14.2" text-anchor="end" font-weight="normal" fill="#1a1a1a" letter-spacing="0.8">2</text>
<text x="1639.7" y="1404.7" font-size="19.5" text-anchor="middle" font-weight="normal" fill="#111">medial-lateral (mm)</text>
<text x="1480.9" y="1261.4" font-size="19.5" text-anchor="middle" font-weight="normal" fill="#111" transform="rotate(-90 1480.9 1261.4)">dorsal-ventral (mm)</text>
<line x1="1854.0" y1="1342.6" x2="2071.0" y2="1252.6" stroke="#8cc211" stroke-width="3.6"/>
<circle cx="1865.3" cy="1341.2" r="3.75" fill="#1c1c1c"/>
<circle cx="1871.3" cy="1326.4" r="3.75" fill="#1c1c1c"/>
<circle cx="1876.5" cy="1321.9" r="3.75" fill="#1c1c1c"/>
<circle cx="1877.1" cy="1327.1" r="3.75" fill="#1c1c1c"/>
<circle cx="1878.4" cy="1333.5" r="3.75" fill="#1c1c1c"/>
<circle cx="1882.2" cy="1324.5" r="3.75" fill="#1c1c1c"/>
<circle cx="1881.6" cy="1334.2" r="3.75" fill="#1c1c1c"/>
<circle cx="1885.5" cy="1325.8" r="3.75" fill="#1c1c1c"/>
<circle cx="1885.5" cy="1334.8" r="3.75" fill="#1c1c1c"/>
<circle cx="1889.3" cy="1324.5" r="3.75" fill="#1c1c1c"/>
<circle cx="1892.1" cy="1321.9" r="3.75" fill="#1c1c1c"/>
<circle cx="1894.4" cy="1332.2" r="3.75" fill="#1c1c1c"/>
<circle cx="1902.8" cy="1329.0" r="3.75" fill="#1c1c1c"/>
<circle cx="1911.1" cy="1325.4" r="3.75" fill="#1c1c1c"/>
<circle cx="1914.0" cy="1321.3" r="3.75" fill="#1c1c1c"/>
<circle cx="1918.5" cy="1344.2" r="3.75" fill="#1c1c1c"/>
<circle cx="1943.9" cy="1296.2" r="3.75" fill="#1c1c1c"/>
<circle cx="1953.5" cy="1313.3" r="3.75" fill="#1c1c1c"/>
<circle cx="1958.3" cy="1298.8" r="3.75" fill="#1c1c1c"/>
<circle cx="1961.9" cy="1293.0" r="3.75" fill="#1c1c1c"/>
<circle cx="1963.1" cy="1322.3" r="3.75" fill="#1c1c1c"/>
<circle cx="2025.8" cy="1198.9" r="3.75" fill="#1c1c1c"/>
<circle cx="2033.1" cy="1192.3" r="3.75" fill="#1c1c1c"/>
<circle cx="2025.7" cy="1298.5" r="3.75" fill="#1c1c1c"/>
<circle cx="2030.8" cy="1296.0" r="3.75" fill="#1c1c1c"/>
<circle cx="2036.6" cy="1270.5" r="3.75" fill="#1c1c1c"/>
<circle cx="2042.8" cy="1273.1" r="3.75" fill="#1c1c1c"/>
<circle cx="2038.9" cy="1300.1" r="3.75" fill="#1c1c1c"/>
<circle cx="2042.1" cy="1298.2" r="3.75" fill="#1c1c1c"/>
<circle cx="2044.9" cy="1289.8" r="3.75" fill="#1c1c1c"/>
<circle cx="2050.2" cy="1284.3" r="3.75" fill="#1c1c1c"/>
<circle cx="2044.0" cy="1235.1" r="3.75" fill="#1c1c1c"/>
<circle cx="2048.8" cy="1250.2" r="3.75" fill="#1c1c1c"/>
<circle cx="2058.4" cy="1252.9" r="3.75" fill="#1c1c1c"/>
<circle cx="2045.1" cy="1317.8" r="3.75" fill="#1c1c1c"/>
<circle cx="2060.7" cy="1310.6" r="3.75" fill="#1c1c1c"/>
<circle cx="2064.3" cy="1200.7" r="3.75" fill="#1c1c1c"/>
<circle cx="2067.1" cy="1192.4" r="3.75" fill="#1c1c1c"/>
<line x1="1854.0" y1="1186.4" x2="1854.0" y2="1370.3" stroke="#1a1a1a" stroke-width="1.9"/>
<line x1="1840.0" y1="1358.7" x2="2071.9" y2="1358.7" stroke="#1a1a1a" stroke-width="1.9"/>
<line x1="1908.2" y1="1358.7" x2="1908.2" y2="1370.3" stroke="#1a1a1a" stroke-width="1.9"/>
<line x1="1962.5" y1="1358.7" x2="1962.5" y2="1370.3" stroke="#1a1a1a" stroke-width="1.9"/>
<line x1="2016.8" y1="1358.7" x2="2016.8" y2="1370.3" stroke="#1a1a1a" stroke-width="1.9"/>
<line x1="2071.0" y1="1358.7" x2="2071.0" y2="1370.3" stroke="#1a1a1a" stroke-width="1.9"/>
<line x1="1840.0" y1="1187.3" x2="1854.0" y2="1187.3" stroke="#1a1a1a" stroke-width="1.9"/>
<line x1="1840.0" y1="1230.2" x2="1854.0" y2="1230.2" stroke="#1a1a1a" stroke-width="1.9"/>
<line x1="1840.0" y1="1273.0" x2="1854.0" y2="1273.0" stroke="#1a1a1a" stroke-width="1.9"/>
<line x1="1840.0" y1="1315.8" x2="1854.0" y2="1315.8" stroke="#1a1a1a" stroke-width="1.9"/>
<text x="1854.5" y="1387.3" font-size="14.2" text-anchor="middle" font-weight="normal" fill="#1a1a1a" letter-spacing="0.8">0</text>
<text x="1908.8" y="1387.3" font-size="14.2" text-anchor="middle" font-weight="normal" fill="#1a1a1a" letter-spacing="0.8">0.5</text>
<text x="1963.0" y="1387.3" font-size="14.2" text-anchor="middle" font-weight="normal" fill="#1a1a1a" letter-spacing="0.8">1</text>
<text x="2017.2" y="1387.3" font-size="14.2" text-anchor="middle" font-weight="normal" fill="#1a1a1a" letter-spacing="0.8">1.5</text>
<text x="2071.5" y="1387.3" font-size="14.2" text-anchor="middle" font-weight="normal" fill="#1a1a1a" letter-spacing="0.8">2</text>
<text x="1838.5" y="1192.5" font-size="14.2" text-anchor="end" font-weight="normal" fill="#1a1a1a" letter-spacing="0.8">60</text>
<text x="1838.5" y="1235.4" font-size="14.2" text-anchor="end" font-weight="normal" fill="#1a1a1a" letter-spacing="0.8">40</text>
<text x="1838.5" y="1278.2" font-size="14.2" text-anchor="end" font-weight="normal" fill="#1a1a1a" letter-spacing="0.8">20</text>
<text x="1838.5" y="1321.0" font-size="14.2" text-anchor="end" font-weight="normal" fill="#1a1a1a" letter-spacing="0.8">0</text>
<text x="1838.5" y="1363.9" font-size="14.2" text-anchor="end" font-weight="normal" fill="#1a1a1a" letter-spacing="0.8">-20</text>
<text x="1962.0" y="1415.5" font-size="19.5" text-anchor="middle" font-weight="normal" fill="#111">anterior-posterior (mm)</text>
<text x="1810.0" y="1273.0" font-size="19.5" text-anchor="middle" font-weight="normal" fill="#111" transform="rotate(-90 1810.0 1273.0)">dF/F (%)</text>
<text x="1864.4" y="1192.5" font-size="14.0" text-anchor="start" font-weight="normal" fill="#1a1a1a" letter-spacing="0.65">r = −0.76</text>
<text x="-1.0" y="1468.5" font-size="47.0" text-anchor="start" font-weight="bold" fill="#000">E</text>
<text x="105.8" y="1587.6" font-size="38.9" text-anchor="middle" font-weight="normal" fill="#000" transform="rotate(-90 105.8 1587.6)">Omission</text>
<line x1="212.4" y1="1658.7" x2="212.4" y2="1498.5" stroke="#111" stroke-width="1.9" stroke-dasharray="1.9 15.65" stroke-dashoffset="8.0"/>
<line x1="275.9" y1="1655.6" x2="275.9" y2="1495.4" stroke="#111" stroke-width="1.9" stroke-dasharray="1.9 15.65" stroke-dashoffset="8.0"/>
<line x1="339.5" y1="1652.4" x2="339.5" y2="1492.2" stroke="#111" stroke-width="1.9" stroke-dasharray="1.9 15.65" stroke-dashoffset="8.0"/>
<line x1="403.0" y1="1649.3" x2="403.0" y2="1489.1" stroke="#111" stroke-width="1.9" stroke-dasharray="1.9 15.65" stroke-dashoffset="8.0"/>
<line x1="466.6" y1="1646.1" x2="466.6" y2="1485.9" stroke="#111" stroke-width="1.9" stroke-dasharray="1.9 15.65" stroke-dashoffset="8.0"/>
<line x1="530.1" y1="1643.0" x2="530.1" y2="1482.8" stroke="#111" stroke-width="1.9" stroke-dasharray="1.9 15.65" stroke-dashoffset="8.0"/>
<line x1="212.4" y1="1658.7" x2="530.1" y2="1643.0" stroke="#111" stroke-width="1.9" stroke-dasharray="1.9 15.65" stroke-dashoffset="8.0"/>
<line x1="212.4" y1="1618.7" x2="530.1" y2="1603.0" stroke="#111" stroke-width="1.9" stroke-dasharray="1.9 15.65" stroke-dashoffset="8.0"/>
<line x1="212.4" y1="1578.6" x2="530.1" y2="1562.9" stroke="#111" stroke-width="1.9" stroke-dasharray="1.9 15.65" stroke-dashoffset="8.0"/>
<line x1="212.4" y1="1538.6" x2="530.1" y2="1522.9" stroke="#111" stroke-width="1.9" stroke-dasharray="1.9 15.65" stroke-dashoffset="8.0"/>
<line x1="212.4" y1="1498.5" x2="530.1" y2="1482.8" stroke="#111" stroke-width="1.9" stroke-dasharray="1.9 15.65" stroke-dashoffset="8.0"/>
<line x1="588.2" y1="1663.2" x2="588.2" y2="1503.0" stroke="#111" stroke-width="1.9" stroke-dasharray="1.9 15.65" stroke-dashoffset="8.0"/>
<line x1="646.2" y1="1683.4" x2="646.2" y2="1523.2" stroke="#111" stroke-width="1.9" stroke-dasharray="1.9 15.65" stroke-dashoffset="8.0"/>
<line x1="530.1" y1="1643.0" x2="646.2" y2="1683.4" stroke="#111" stroke-width="1.9" stroke-dasharray="1.9 15.65" stroke-dashoffset="8.0"/>
<line x1="530.1" y1="1603.0" x2="646.2" y2="1643.4" stroke="#111" stroke-width="1.9" stroke-dasharray="1.9 15.65" stroke-dashoffset="8.0"/>
<line x1="530.1" y1="1562.9" x2="646.2" y2="1603.3" stroke="#111" stroke-width="1.9" stroke-dasharray="1.9 15.65" stroke-dashoffset="8.0"/>
<line x1="530.1" y1="1522.9" x2="646.2" y2="1563.2" stroke="#111" stroke-width="1.9" stroke-dasharray="1.9 15.65" stroke-dashoffset="8.0"/>
<line x1="530.1" y1="1482.8" x2="646.2" y2="1523.2" stroke="#111" stroke-width="1.9" stroke-dasharray="1.9 15.65" stroke-dashoffset="8.0"/>
<line x1="275.9" y1="1655.6" x2="390.0" y2="1695.6" stroke="#111" stroke-width="1.9" stroke-dasharray="1.9 15.65" stroke-dashoffset="8.0"/>
<line x1="339.5" y1="1652.4" x2="454.1" y2="1692.5" stroke="#111" stroke-width="1.9" stroke-dasharray="1.9 15.65" stroke-dashoffset="8.0"/>
<line x1="403.0" y1="1649.3" x2="518.1" y2="1689.5" stroke="#111" stroke-width="1.9" stroke-dasharray="1.9 15.65" stroke-dashoffset="8.0"/>
<line x1="466.6" y1="1646.1" x2="582.2" y2="1686.4" stroke="#111" stroke-width="1.9" stroke-dasharray="1.9 15.65" stroke-dashoffset="8.0"/>
<line x1="269.2" y1="1678.7" x2="588.2" y2="1663.2" stroke="#111" stroke-width="1.9" stroke-dasharray="1.9 15.65" stroke-dashoffset="8.0"/>
<circle cx="366.3" cy="1535.0" r="6.3" fill="#9391d6"/>
<circle cx="398.8" cy="1529.7" r="6.3" fill="#cfccc5"/>
<circle cx="351.4" cy="1560.8" r="6.3" fill="#a6a4d0"/>
<circle cx="380.5" cy="1560.4" r="6.3" fill="#9391d6"/>
<circle cx="402.2" cy="1564.6" r="6.3" fill="#a6a4d0"/>
<circle cx="391.0" cy="1579.5" r="6.3" fill="#e27c78"/>
<circle cx="412.2" cy="1581.3" r="6.3" fill="#cfccc5"/>
<circle cx="439.1" cy="1581.3" r="6.3" fill="#0000ff"/>
<circle cx="310.7" cy="1584.6" r="6.3" fill="#0000ff"/>
<circle cx="327.8" cy="1584.0" r="6.3" fill="#4f4ee9"/>
<circle cx="302.4" cy="1607.4" r="6.3" fill="#cfccc5"/>
<circle cx="326.7" cy="1607.1" r="6.3" fill="#4342ec"/>
<circle cx="339.9" cy="1605.9" r="6.3" fill="#2928f4"/>
<circle cx="323.0" cy="1613.4" r="6.3" fill="#0000ff"/>
<circle cx="352.4" cy="1613.4" r="6.3" fill="#4f4ee9"/>
<circle cx="366.3" cy="1615.7" r="6.3" fill="#afadce"/>
<circle cx="343.2" cy="1617.9" r="6.3" fill="#b7b5cc"/>
<circle cx="340.2" cy="1620.9" r="6.3" fill="#7e7cdc"/>
<circle cx="350.6" cy="1620.9" r="6.3" fill="#cfccc5"/>
<circle cx="339.4" cy="1624.6" r="6.3" fill="#cbc8c6"/>
<circle cx="353.2" cy="1628.8" r="6.3" fill="#b7b5cc"/>
<circle cx="323.4" cy="1629.1" r="6.3" fill="#5b5ae5"/>
<circle cx="339.4" cy="1631.4" r="6.3" fill="#0000ff"/>
<circle cx="333.5" cy="1629.1" r="6.3" fill="#0000ff"/>
<circle cx="303.9" cy="1631.4" r="6.3" fill="#0000ff"/>
<circle cx="323.0" cy="1636.6" r="6.3" fill="#0000ff"/>
<circle cx="337.9" cy="1643.3" r="6.3" fill="#7371df"/>
<circle cx="384.7" cy="1641.8" r="6.3" fill="#1b1bf7"/>
<circle cx="452.9" cy="1552.9" r="6.3" fill="#0000ff"/>
<circle cx="456.9" cy="1568.8" r="6.3" fill="#0e0efb"/>
<circle cx="447.2" cy="1571.0" r="6.3" fill="#bfbcc9"/>
<circle cx="483.5" cy="1571.6" r="6.3" fill="#cfccc5"/>
<circle cx="466.3" cy="1584.4" r="6.3" fill="#cfccc5"/>
<circle cx="514.7" cy="1545.9" r="6.3" fill="#cfccc5"/>
<circle cx="529.1" cy="1546.9" r="6.3" fill="#cfccc5"/>
<circle cx="561.5" cy="1536.2" r="6.3" fill="#cfccc5"/>
<circle cx="594.8" cy="1578.8" r="6.3" fill="#cfccc5"/>
<circle cx="528.2" cy="1590.7" r="6.3" fill="#cfccc5"/>
<circle cx="605.1" cy="1605.2" r="6.3" fill="#cfccc5"/>
<circle cx="600.8" cy="1617.3" r="6.3" fill="#cfccc5"/>
<circle cx="583.2" cy="1523.0" r="6.3" fill="#f62827"/>
<circle cx="553.3" cy="1537.7" r="6.3" fill="#e76662"/>
<circle cx="544.3" cy="1541.1" r="6.3" fill="#e76662"/>
<circle cx="548.1" cy="1542.2" r="6.3" fill="#e76662"/>
<circle cx="546.9" cy="1551.1" r="6.3" fill="#df8782"/>
<circle cx="563.0" cy="1556.6" r="6.3" fill="#f91b1a"/>
<circle cx="582.1" cy="1555.9" r="6.3" fill="#f33533"/>
<circle cx="536.1" cy="1563.8" r="6.3" fill="#d8a49e"/>
<circle cx="589.9" cy="1567.9" r="6.3" fill="#d4b5af"/>
<circle cx="577.2" cy="1571.7" r="6.3" fill="#d8a49e"/>
<circle cx="539.5" cy="1576.5" r="6.3" fill="#ff0000"/>
<circle cx="537.6" cy="1578.3" r="6.3" fill="#ff0000"/>
<circle cx="560.8" cy="1588.5" r="6.3" fill="#ff0000"/>
<circle cx="562.2" cy="1592.2" r="6.3" fill="#ff0000"/>
<circle cx="573.5" cy="1593.4" r="6.3" fill="#d3bcb6"/>
<circle cx="540.9" cy="1597.1" r="6.3" fill="#df8782"/>
<circle cx="539.8" cy="1593.7" r="6.3" fill="#e27c78"/>
<polyline points="212.4,1498.5 212.4,1658.7 326.0,1698.6 646.2,1683.4" fill="none" stroke="#000" stroke-width="2.2" stroke-linejoin="miter"/>
<line x1="204.9" y1="1656.4" x2="212.4" y2="1658.7" stroke="#000" stroke-width="2.0"/>
<text x="201.9" y="1657.3" font-size="14.0" text-anchor="end" font-weight="normal" fill="#1a1a1a">0</text>
<line x1="204.9" y1="1616.4" x2="212.4" y2="1618.7" stroke="#000" stroke-width="2.0"/>
<text x="201.9" y="1619.2" font-size="14.0" text-anchor="end" font-weight="normal" fill="#1a1a1a">0.5</text>
<line x1="204.9" y1="1576.3" x2="212.4" y2="1578.6" stroke="#000" stroke-width="2.0"/>
<text x="201.9" y="1579.2" font-size="14.0" text-anchor="end" font-weight="normal" fill="#1a1a1a">1</text>
<line x1="204.9" y1="1536.3" x2="212.4" y2="1538.6" stroke="#000" stroke-width="2.0"/>
<text x="201.9" y="1539.2" font-size="14.0" text-anchor="end" font-weight="normal" fill="#1a1a1a">1.5</text>
<line x1="204.9" y1="1496.2" x2="212.4" y2="1498.5" stroke="#000" stroke-width="2.0"/>
<text x="201.9" y="1499.1" font-size="14.0" text-anchor="end" font-weight="normal" fill="#1a1a1a">2</text>
<line x1="204.9" y1="1659.3" x2="212.4" y2="1658.7" stroke="#000" stroke-width="2.0"/>
<text x="200.1" y="1673.6" font-size="14.0" text-anchor="middle" font-weight="normal" fill="#1a1a1a">0</text>
<line x1="261.7" y1="1679.2" x2="269.2" y2="1678.7" stroke="#000" stroke-width="2.0"/>
<text x="256.9" y="1692.2" font-size="14.0" text-anchor="middle" font-weight="normal" fill="#1a1a1a">1</text>
<line x1="318.5" y1="1699.2" x2="326.0" y2="1698.6" stroke="#000" stroke-width="2.0"/>
<text x="313.7" y="1712.1" font-size="14.0" text-anchor="middle" font-weight="normal" fill="#1a1a1a">2</text>
<line x1="326.0" y1="1698.6" x2="333.0" y2="1701.8" stroke="#000" stroke-width="2.0"/>
<text x="335.7" y="1715.0" font-size="14.0" text-anchor="start" font-weight="normal" fill="#1a1a1a">0</text>
<line x1="390.0" y1="1695.6" x2="397.0" y2="1698.8" stroke="#000" stroke-width="2.0"/>
<text x="399.7" y="1712.0" font-size="14.0" text-anchor="start" font-weight="normal" fill="#1a1a1a">0.5</text>
<line x1="454.1" y1="1692.5" x2="461.1" y2="1695.7" stroke="#000" stroke-width="2.0"/>
<text x="463.8" y="1708.9" font-size="14.0" text-anchor="start" font-weight="normal" fill="#1a1a1a">1</text>
<line x1="518.1" y1="1689.5" x2="525.1" y2="1692.7" stroke="#000" stroke-width="2.0"/>
<text x="527.8" y="1705.9" font-size="14.0" text-anchor="start" font-weight="normal" fill="#1a1a1a">1.5</text>
<line x1="582.2" y1="1686.4" x2="589.2" y2="1689.6" stroke="#000" stroke-width="2.0"/>
<text x="591.9" y="1702.8" font-size="14.0" text-anchor="start" font-weight="normal" fill="#1a1a1a">2</text>
<line x1="646.2" y1="1683.4" x2="653.2" y2="1686.6" stroke="#000" stroke-width="2.0"/>
<text x="655.9" y="1699.8" font-size="14.0" text-anchor="start" font-weight="normal" fill="#1a1a1a">2.5</text>
<text x="174.9" y="1578.6" font-size="15.0" text-anchor="middle" font-weight="normal" fill="#1a1a1a" transform="rotate(-90 174.9 1578.6)">dorsal−ventral</text>
<text x="247.3" y="1711.2" font-size="15.0" text-anchor="middle" font-weight="normal" fill="#1a1a1a" transform="rotate(19.3 247.3 1711.2)">medial−lateral</text>
<text x="508.0" y="1733.7" font-size="15.0" text-anchor="middle" font-weight="normal" fill="#1a1a1a" transform="rotate(-3.2 508.0 1733.7)">anterior−posterior</text>
<rect x="692.9" y="1462.1" width="26.10" height="221.7" fill="url(#cb)"/>
<text x="724.5" y="1468.4" font-size="14" text-anchor="start" font-weight="normal" fill="#111">10%</text>
<text x="724.5" y="1579.7" font-size="14" text-anchor="start" font-weight="normal" fill="#111">0%</text>
<text x="724.5" y="1689.8" font-size="14" text-anchor="start" font-weight="normal" fill="#111">-10%</text>
<line x1="925.4" y1="1463.4" x2="925.4" y2="1634.7" stroke="#8c8c8c" stroke-width="1.7" stroke-dasharray="7.75 7.75" stroke-dashoffset="3.9"/>
<line x1="968.9" y1="1463.4" x2="968.9" y2="1634.7" stroke="#8c8c8c" stroke-width="1.7" stroke-dasharray="7.75 7.75" stroke-dashoffset="3.9"/>
<line x1="1012.3" y1="1463.4" x2="1012.3" y2="1634.7" stroke="#8c8c8c" stroke-width="1.7" stroke-dasharray="7.75 7.75" stroke-dashoffset="3.9"/>
<line x1="1055.8" y1="1463.4" x2="1055.8" y2="1634.7" stroke="#8c8c8c" stroke-width="1.7" stroke-dasharray="7.75 7.75" stroke-dashoffset="3.9"/>
<line x1="1099.2" y1="1463.4" x2="1099.2" y2="1634.7" stroke="#8c8c8c" stroke-width="1.7" stroke-dasharray="7.75 7.75" stroke-dashoffset="3.9"/>
<line x1="882.0" y1="1591.9" x2="1099.2" y2="1591.9" stroke="#8c8c8c" stroke-width="1.7" stroke-dasharray="7.75 7.75" stroke-dashoffset="4.4"/>
<line x1="882.0" y1="1549.0" x2="1099.2" y2="1549.0" stroke="#8c8c8c" stroke-width="1.7" stroke-dasharray="7.75 7.75" stroke-dashoffset="4.4"/>
<line x1="882.0" y1="1506.2" x2="1099.2" y2="1506.2" stroke="#8c8c8c" stroke-width="1.7" stroke-dasharray="7.75 7.75" stroke-dashoffset="4.4"/>
<line x1="882.0" y1="1463.4" x2="1099.2" y2="1463.4" stroke="#8c8c8c" stroke-width="1.7" stroke-dasharray="7.75 7.75" stroke-dashoffset="4.4"/>
<circle cx="905.0" cy="1584.1" r="5.55" fill="#cfccc5"/>
<circle cx="945.1" cy="1602.4" r="5.55" fill="#0000ff"/>
<circle cx="923.3" cy="1602.4" r="5.55" fill="#0000ff"/>
<circle cx="928.7" cy="1536.5" r="5.55" fill="#afadce"/>
<circle cx="943.2" cy="1553.1" r="5.55" fill="#4f4ee9"/>
<circle cx="918.1" cy="1560.1" r="5.55" fill="#0000ff"/>
<circle cx="918.8" cy="1581.0" r="5.55" fill="#2928f4"/>
<circle cx="928.1" cy="1579.4" r="5.55" fill="#4342ec"/>
<circle cx="936.6" cy="1588.2" r="5.55" fill="#b7b5cc"/>
<circle cx="937.9" cy="1583.0" r="5.55" fill="#0000ff"/>
<circle cx="941.1" cy="1599.5" r="5.55" fill="#0000ff"/>
<circle cx="945.6" cy="1591.4" r="5.55" fill="#4f4ee9"/>
<circle cx="947.5" cy="1594.5" r="5.55" fill="#cdcac6"/>
<circle cx="950.7" cy="1587.1" r="5.55" fill="#cfccc5"/>
<circle cx="929.4" cy="1599.9" r="5.55" fill="#6766e2"/>
<circle cx="933.8" cy="1612.4" r="5.55" fill="#7371df"/>
<line x1="882.0" y1="1462.5" x2="882.0" y2="1647.3" stroke="#1a1a1a" stroke-width="1.9"/>
<line x1="868.4" y1="1634.7" x2="1100.1" y2="1634.7" stroke="#1a1a1a" stroke-width="1.9"/>
<line x1="925.4" y1="1634.7" x2="925.4" y2="1647.3" stroke="#1a1a1a" stroke-width="1.9"/>
<line x1="968.9" y1="1634.7" x2="968.9" y2="1647.3" stroke="#1a1a1a" stroke-width="1.9"/>
<line x1="1012.3" y1="1634.7" x2="1012.3" y2="1647.3" stroke="#1a1a1a" stroke-width="1.9"/>
<line x1="1055.8" y1="1634.7" x2="1055.8" y2="1647.3" stroke="#1a1a1a" stroke-width="1.9"/>
<line x1="1099.2" y1="1634.7" x2="1099.2" y2="1647.3" stroke="#1a1a1a" stroke-width="1.9"/>
<line x1="868.4" y1="1591.9" x2="882.0" y2="1591.9" stroke="#1a1a1a" stroke-width="1.9"/>
<line x1="868.4" y1="1549.0" x2="882.0" y2="1549.0" stroke="#1a1a1a" stroke-width="1.9"/>
<line x1="868.4" y1="1506.2" x2="882.0" y2="1506.2" stroke="#1a1a1a" stroke-width="1.9"/>
<line x1="868.4" y1="1463.4" x2="882.0" y2="1463.4" stroke="#1a1a1a" stroke-width="1.9"/>
<text x="881.0" y="1663.7" font-size="14.2" text-anchor="middle" font-weight="normal" fill="#1a1a1a" letter-spacing="0.8">0</text>
<text x="924.4" y="1663.7" font-size="14.2" text-anchor="middle" font-weight="normal" fill="#1a1a1a" letter-spacing="0.8">0.5</text>
<text x="967.9" y="1663.7" font-size="14.2" text-anchor="middle" font-weight="normal" fill="#1a1a1a" letter-spacing="0.8">1</text>
<text x="1011.3" y="1663.7" font-size="14.2" text-anchor="middle" font-weight="normal" fill="#1a1a1a" letter-spacing="0.8">1.5</text>
<text x="1054.8" y="1663.7" font-size="14.2" text-anchor="middle" font-weight="normal" fill="#1a1a1a" letter-spacing="0.8">2</text>
<text x="1098.2" y="1663.7" font-size="14.2" text-anchor="middle" font-weight="normal" fill="#1a1a1a" letter-spacing="0.8">2.5</text>
<text x="865.0" y="1639.7" font-size="14.2" text-anchor="end" font-weight="normal" fill="#1a1a1a" letter-spacing="0.8">0</text>
<text x="865.0" y="1596.9" font-size="14.2" text-anchor="end" font-weight="normal" fill="#1a1a1a" letter-spacing="0.8">0.5</text>
<text x="865.0" y="1554.0" font-size="14.2" text-anchor="end" font-weight="normal" fill="#1a1a1a" letter-spacing="0.8">1</text>
<text x="865.0" y="1511.2" font-size="14.2" text-anchor="end" font-weight="normal" fill="#1a1a1a" letter-spacing="0.8">1.5</text>
<text x="865.0" y="1468.4" font-size="14.2" text-anchor="end" font-weight="normal" fill="#1a1a1a" letter-spacing="0.8">2</text>
<text x="989.9" y="1692.4" font-size="19.5" text-anchor="middle" font-weight="normal" fill="#111">medial-lateral (mm)</text>
<text x="833.0" y="1549.0" font-size="19.5" text-anchor="middle" font-weight="normal" fill="#111" transform="rotate(-90 833.0 1549.0)">dorsal-ventral (mm)</text>
<line x1="1250.4" y1="1463.4" x2="1250.4" y2="1634.7" stroke="#8c8c8c" stroke-width="1.7" stroke-dasharray="7.75 7.75" stroke-dashoffset="3.9"/>
<line x1="1293.9" y1="1463.4" x2="1293.9" y2="1634.7" stroke="#8c8c8c" stroke-width="1.7" stroke-dasharray="7.75 7.75" stroke-dashoffset="3.9"/>
<line x1="1337.3" y1="1463.4" x2="1337.3" y2="1634.7" stroke="#8c8c8c" stroke-width="1.7" stroke-dasharray="7.75 7.75" stroke-dashoffset="3.9"/>
<line x1="1380.8" y1="1463.4" x2="1380.8" y2="1634.7" stroke="#8c8c8c" stroke-width="1.7" stroke-dasharray="7.75 7.75" stroke-dashoffset="3.9"/>
<line x1="1424.2" y1="1463.4" x2="1424.2" y2="1634.7" stroke="#8c8c8c" stroke-width="1.7" stroke-dasharray="7.75 7.75" stroke-dashoffset="3.9"/>
<line x1="1207.0" y1="1591.9" x2="1424.2" y2="1591.9" stroke="#8c8c8c" stroke-width="1.7" stroke-dasharray="7.75 7.75" stroke-dashoffset="4.4"/>
<line x1="1207.0" y1="1549.0" x2="1424.2" y2="1549.0" stroke="#8c8c8c" stroke-width="1.7" stroke-dasharray="7.75 7.75" stroke-dashoffset="4.4"/>
<line x1="1207.0" y1="1506.2" x2="1424.2" y2="1506.2" stroke="#8c8c8c" stroke-width="1.7" stroke-dasharray="7.75 7.75" stroke-dashoffset="4.4"/>
<line x1="1207.0" y1="1463.4" x2="1424.2" y2="1463.4" stroke="#8c8c8c" stroke-width="1.7" stroke-dasharray="7.75 7.75" stroke-dashoffset="4.4"/>
<circle cx="1265.5" cy="1505.5" r="5.55" fill="#cfccc5"/>
<circle cx="1252.6" cy="1512.5" r="5.55" fill="#9391d6"/>
<circle cx="1320.3" cy="1516.3" r="5.55" fill="#0000ff"/>
<circle cx="1269.2" cy="1533.0" r="5.55" fill="#8987d9"/>
<circle cx="1270.8" cy="1538.3" r="5.55" fill="#a6a4d0"/>
<circle cx="1320.3" cy="1535.4" r="5.55" fill="#cfccc5"/>
<circle cx="1324.0" cy="1531.6" r="5.55" fill="#bfbcc9"/>
<circle cx="1338.5" cy="1542.3" r="5.55" fill="#cfccc5"/>
<circle cx="1331.6" cy="1528.6" r="5.55" fill="#0000ff"/>
<circle cx="1328.0" cy="1540.7" r="5.55" fill="#0000ff"/>
<circle cx="1293.4" cy="1548.6" r="5.55" fill="#cfccc5"/>
<circle cx="1277.1" cy="1549.9" r="5.55" fill="#e4716d"/>
<circle cx="1266.6" cy="1585.5" r="5.55" fill="#afadce"/>
<circle cx="1238.1" cy="1590.2" r="5.55" fill="#4f4ee9"/>
<circle cx="1251.0" cy="1601.0" r="5.55" fill="#bfbcc9"/>
<circle cx="1271.9" cy="1610.2" r="5.55" fill="#1b1bf7"/>
<line x1="1207.0" y1="1462.5" x2="1207.0" y2="1647.3" stroke="#1a1a1a" stroke-width="1.9"/>
<line x1="1193.4" y1="1634.7" x2="1425.1" y2="1634.7" stroke="#1a1a1a" stroke-width="1.9"/>
<line x1="1250.4" y1="1634.7" x2="1250.4" y2="1647.3" stroke="#1a1a1a" stroke-width="1.9"/>
<line x1="1293.9" y1="1634.7" x2="1293.9" y2="1647.3" stroke="#1a1a1a" stroke-width="1.9"/>
<line x1="1337.3" y1="1634.7" x2="1337.3" y2="1647.3" stroke="#1a1a1a" stroke-width="1.9"/>
<line x1="1380.8" y1="1634.7" x2="1380.8" y2="1647.3" stroke="#1a1a1a" stroke-width="1.9"/>
<line x1="1424.2" y1="1634.7" x2="1424.2" y2="1647.3" stroke="#1a1a1a" stroke-width="1.9"/>
<line x1="1193.4" y1="1591.9" x2="1207.0" y2="1591.9" stroke="#1a1a1a" stroke-width="1.9"/>
<line x1="1193.4" y1="1549.0" x2="1207.0" y2="1549.0" stroke="#1a1a1a" stroke-width="1.9"/>
<line x1="1193.4" y1="1506.2" x2="1207.0" y2="1506.2" stroke="#1a1a1a" stroke-width="1.9"/>
<line x1="1193.4" y1="1463.4" x2="1207.0" y2="1463.4" stroke="#1a1a1a" stroke-width="1.9"/>
<text x="1206.0" y="1663.7" font-size="14.2" text-anchor="middle" font-weight="normal" fill="#1a1a1a" letter-spacing="0.8">0</text>
<text x="1249.4" y="1663.7" font-size="14.2" text-anchor="middle" font-weight="normal" fill="#1a1a1a" letter-spacing="0.8">0.5</text>
<text x="1292.9" y="1663.7" font-size="14.2" text-anchor="middle" font-weight="normal" fill="#1a1a1a" letter-spacing="0.8">1</text>
<text x="1336.3" y="1663.7" font-size="14.2" text-anchor="middle" font-weight="normal" fill="#1a1a1a" letter-spacing="0.8">1.5</text>
<text x="1379.8" y="1663.7" font-size="14.2" text-anchor="middle" font-weight="normal" fill="#1a1a1a" letter-spacing="0.8">2</text>
<text x="1423.2" y="1663.7" font-size="14.2" text-anchor="middle" font-weight="normal" fill="#1a1a1a" letter-spacing="0.8">2.5</text>
<text x="1190.0" y="1639.7" font-size="14.2" text-anchor="end" font-weight="normal" fill="#1a1a1a" letter-spacing="0.8">0</text>
<text x="1190.0" y="1596.9" font-size="14.2" text-anchor="end" font-weight="normal" fill="#1a1a1a" letter-spacing="0.8">0.5</text>
<text x="1190.0" y="1554.0" font-size="14.2" text-anchor="end" font-weight="normal" fill="#1a1a1a" letter-spacing="0.8">1</text>
<text x="1190.0" y="1511.2" font-size="14.2" text-anchor="end" font-weight="normal" fill="#1a1a1a" letter-spacing="0.8">1.5</text>
<text x="1190.0" y="1468.4" font-size="14.2" text-anchor="end" font-weight="normal" fill="#1a1a1a" letter-spacing="0.8">2</text>
<text x="1318.6" y="1692.4" font-size="19.5" text-anchor="middle" font-weight="normal" fill="#111">medial-lateral (mm)</text>
<text x="1154.2" y="1549.0" font-size="19.5" text-anchor="middle" font-weight="normal" fill="#111" transform="rotate(-90 1154.2 1549.0)">dorsal-ventral (mm)</text>
<line x1="1575.4" y1="1463.4" x2="1575.4" y2="1634.7" stroke="#8c8c8c" stroke-width="1.7" stroke-dasharray="7.75 7.75" stroke-dashoffset="3.9"/>
<line x1="1618.9" y1="1463.4" x2="1618.9" y2="1634.7" stroke="#8c8c8c" stroke-width="1.7" stroke-dasharray="7.75 7.75" stroke-dashoffset="3.9"/>
<line x1="1662.3" y1="1463.4" x2="1662.3" y2="1634.7" stroke="#8c8c8c" stroke-width="1.7" stroke-dasharray="7.75 7.75" stroke-dashoffset="3.9"/>
<line x1="1705.8" y1="1463.4" x2="1705.8" y2="1634.7" stroke="#8c8c8c" stroke-width="1.7" stroke-dasharray="7.75 7.75" stroke-dashoffset="3.9"/>
<line x1="1749.2" y1="1463.4" x2="1749.2" y2="1634.7" stroke="#8c8c8c" stroke-width="1.7" stroke-dasharray="7.75 7.75" stroke-dashoffset="3.9"/>
<line x1="1532.0" y1="1591.9" x2="1749.2" y2="1591.9" stroke="#8c8c8c" stroke-width="1.7" stroke-dasharray="7.75 7.75" stroke-dashoffset="4.4"/>
<line x1="1532.0" y1="1549.0" x2="1749.2" y2="1549.0" stroke="#8c8c8c" stroke-width="1.7" stroke-dasharray="7.75 7.75" stroke-dashoffset="4.4"/>
<line x1="1532.0" y1="1506.2" x2="1749.2" y2="1506.2" stroke="#8c8c8c" stroke-width="1.7" stroke-dasharray="7.75 7.75" stroke-dashoffset="4.4"/>
<line x1="1532.0" y1="1463.4" x2="1749.2" y2="1463.4" stroke="#8c8c8c" stroke-width="1.7" stroke-dasharray="7.75 7.75" stroke-dashoffset="4.4"/>
<circle cx="1646.9" cy="1513.1" r="5.55" fill="#cfccc5"/>
<circle cx="1655.0" cy="1512.0" r="5.55" fill="#e76662"/>
<circle cx="1656.6" cy="1508.0" r="5.55" fill="#e76662"/>
<circle cx="1658.2" cy="1501.9" r="5.55" fill="#cfccc5"/>
<circle cx="1660.3" cy="1516.0" r="5.55" fill="#e27c78"/>
<circle cx="1673.2" cy="1518.4" r="5.55" fill="#f33533"/>
<circle cx="1676.7" cy="1516.8" r="5.55" fill="#f91b1a"/>
<circle cx="1688.8" cy="1483.3" r="5.55" fill="#f62827"/>
<circle cx="1678.0" cy="1498.2" r="5.55" fill="#e76662"/>
<circle cx="1661.5" cy="1526.5" r="5.55" fill="#d8a49e"/>
<circle cx="1684.8" cy="1527.3" r="5.55" fill="#d4b5af"/>
<circle cx="1664.7" cy="1537.0" r="5.55" fill="#ff0000"/>
<circle cx="1671.9" cy="1538.3" r="5.55" fill="#ff0000"/>
<circle cx="1675.2" cy="1533.3" r="5.55" fill="#d8a49e"/>
<circle cx="1686.4" cy="1537.5" r="5.55" fill="#cfccc5"/>
<circle cx="1676.7" cy="1554.7" r="5.55" fill="#e27c78"/>
<circle cx="1677.6" cy="1549.8" r="5.55" fill="#ff0000"/>
<circle cx="1680.0" cy="1545.9" r="5.55" fill="#ff0000"/>
<circle cx="1686.9" cy="1550.4" r="5.55" fill="#d3bcb6"/>
<circle cx="1664.7" cy="1551.0" r="5.55" fill="#cfccc5"/>
<circle cx="1652.9" cy="1556.8" r="5.55" fill="#e27c78"/>
<circle cx="1698.0" cy="1559.9" r="5.55" fill="#cfccc5"/>
<circle cx="1702.9" cy="1570.1" r="5.55" fill="#cfccc5"/>
<line x1="1532.0" y1="1462.5" x2="1532.0" y2="1647.3" stroke="#1a1a1a" stroke-width="1.9"/>
<line x1="1518.4" y1="1634.7" x2="1750.1" y2="1634.7" stroke="#1a1a1a" stroke-width="1.9"/>
<line x1="1575.4" y1="1634.7" x2="1575.4" y2="1647.3" stroke="#1a1a1a" stroke-width="1.9"/>
<line x1="1618.9" y1="1634.7" x2="1618.9" y2="1647.3" stroke="#1a1a1a" stroke-width="1.9"/>
<line x1="1662.3" y1="1634.7" x2="1662.3" y2="1647.3" stroke="#1a1a1a" stroke-width="1.9"/>
<line x1="1705.8" y1="1634.7" x2="1705.8" y2="1647.3" stroke="#1a1a1a" stroke-width="1.9"/>
<line x1="1749.2" y1="1634.7" x2="1749.2" y2="1647.3" stroke="#1a1a1a" stroke-width="1.9"/>
<line x1="1518.4" y1="1591.9" x2="1532.0" y2="1591.9" stroke="#1a1a1a" stroke-width="1.9"/>
<line x1="1518.4" y1="1549.0" x2="1532.0" y2="1549.0" stroke="#1a1a1a" stroke-width="1.9"/>
<line x1="1518.4" y1="1506.2" x2="1532.0" y2="1506.2" stroke="#1a1a1a" stroke-width="1.9"/>
<line x1="1518.4" y1="1463.4" x2="1532.0" y2="1463.4" stroke="#1a1a1a" stroke-width="1.9"/>
<text x="1531.0" y="1663.7" font-size="14.2" text-anchor="middle" font-weight="normal" fill="#1a1a1a" letter-spacing="0.8">0</text>
<text x="1574.4" y="1663.7" font-size="14.2" text-anchor="middle" font-weight="normal" fill="#1a1a1a" letter-spacing="0.8">0.5</text>
<text x="1617.9" y="1663.7" font-size="14.2" text-anchor="middle" font-weight="normal" fill="#1a1a1a" letter-spacing="0.8">1</text>
<text x="1661.3" y="1663.7" font-size="14.2" text-anchor="middle" font-weight="normal" fill="#1a1a1a" letter-spacing="0.8">1.5</text>
<text x="1704.8" y="1663.7" font-size="14.2" text-anchor="middle" font-weight="normal" fill="#1a1a1a" letter-spacing="0.8">2</text>
<text x="1748.2" y="1663.7" font-size="14.2" text-anchor="middle" font-weight="normal" fill="#1a1a1a" letter-spacing="0.8">2.5</text>
<text x="1515.0" y="1639.7" font-size="14.2" text-anchor="end" font-weight="normal" fill="#1a1a1a" letter-spacing="0.8">0</text>
<text x="1515.0" y="1596.9" font-size="14.2" text-anchor="end" font-weight="normal" fill="#1a1a1a" letter-spacing="0.8">0.5</text>
<text x="1515.0" y="1554.0" font-size="14.2" text-anchor="end" font-weight="normal" fill="#1a1a1a" letter-spacing="0.8">1</text>
<text x="1515.0" y="1511.2" font-size="14.2" text-anchor="end" font-weight="normal" fill="#1a1a1a" letter-spacing="0.8">1.5</text>
<text x="1515.0" y="1468.4" font-size="14.2" text-anchor="end" font-weight="normal" fill="#1a1a1a" letter-spacing="0.8">2</text>
<text x="1639.7" y="1692.4" font-size="19.5" text-anchor="middle" font-weight="normal" fill="#111">medial-lateral (mm)</text>
<text x="1480.9" y="1549.0" font-size="19.5" text-anchor="middle" font-weight="normal" fill="#111" transform="rotate(-90 1480.9 1549.0)">dorsal-ventral (mm)</text>
<line x1="1854.0" y1="1634.1" x2="2071.0" y2="1595.8" stroke="#8cc211" stroke-width="3.6"/>
<circle cx="1865.3" cy="1642.3" r="3.75" fill="#1c1c1c"/>
<circle cx="1871.3" cy="1640.0" r="3.75" fill="#1c1c1c"/>
<circle cx="1876.1" cy="1642.3" r="3.75" fill="#1c1c1c"/>
<circle cx="1875.2" cy="1633.0" r="3.75" fill="#1c1c1c"/>
<circle cx="1878.7" cy="1638.1" r="3.75" fill="#1c1c1c"/>
<circle cx="1875.8" cy="1624.6" r="3.75" fill="#1c1c1c"/>
<circle cx="1881.0" cy="1622.7" r="3.75" fill="#1c1c1c"/>
<circle cx="1884.8" cy="1613.1" r="3.75" fill="#1c1c1c"/>
<circle cx="1884.6" cy="1625.3" r="3.75" fill="#1c1c1c"/>
<circle cx="1888.4" cy="1640.0" r="3.75" fill="#1c1c1c"/>
<circle cx="1891.9" cy="1621.4" r="3.75" fill="#1c1c1c"/>
<circle cx="1894.4" cy="1616.3" r="3.75" fill="#1c1c1c"/>
<circle cx="1902.8" cy="1627.6" r="3.75" fill="#1c1c1c"/>
<circle cx="1911.1" cy="1615.3" r="3.75" fill="#1c1c1c"/>
<circle cx="1914.3" cy="1616.3" r="3.75" fill="#1c1c1c"/>
<circle cx="1918.5" cy="1624.6" r="3.75" fill="#1c1c1c"/>
<circle cx="1943.9" cy="1629.8" r="3.75" fill="#1c1c1c"/>
<circle cx="1953.5" cy="1614.7" r="3.75" fill="#1c1c1c"/>
<circle cx="1958.3" cy="1630.4" r="3.75" fill="#1c1c1c"/>
<circle cx="1961.9" cy="1639.4" r="3.75" fill="#1c1c1c"/>
<circle cx="1963.1" cy="1612.7" r="3.75" fill="#1c1c1c"/>
<circle cx="2025.8" cy="1577.8" r="3.75" fill="#1c1c1c"/>
<circle cx="2042.5" cy="1578.4" r="3.75" fill="#1c1c1c"/>
<circle cx="2044.0" cy="1582.9" r="3.75" fill="#1c1c1c"/>
<circle cx="2033.1" cy="1593.2" r="3.75" fill="#1c1c1c"/>
<circle cx="2025.7" cy="1604.7" r="3.75" fill="#1c1c1c"/>
<circle cx="2030.6" cy="1608.6" r="3.75" fill="#1c1c1c"/>
<circle cx="2036.6" cy="1603.4" r="3.75" fill="#1c1c1c"/>
<circle cx="2040.2" cy="1604.7" r="3.75" fill="#1c1c1c"/>
<circle cx="2043.4" cy="1602.8" r="3.75" fill="#1c1c1c"/>
<circle cx="2046.0" cy="1600.2" r="3.75" fill="#1c1c1c"/>
<circle cx="2048.8" cy="1595.5" r="3.75" fill="#1c1c1c"/>
<circle cx="2050.2" cy="1610.5" r="3.75" fill="#1c1c1c"/>
<circle cx="2058.4" cy="1597.0" r="3.75" fill="#1c1c1c"/>
<circle cx="2064.6" cy="1598.7" r="3.75" fill="#1c1c1c"/>
<circle cx="2060.7" cy="1608.3" r="3.75" fill="#1c1c1c"/>
<circle cx="2067.1" cy="1610.5" r="3.75" fill="#1c1c1c"/>
<line x1="1854.0" y1="1479.3" x2="1854.0" y2="1662.9" stroke="#1a1a1a" stroke-width="1.9"/>
<line x1="1840.0" y1="1651.3" x2="2071.9" y2="1651.3" stroke="#1a1a1a" stroke-width="1.9"/>
<line x1="1908.2" y1="1651.3" x2="1908.2" y2="1662.9" stroke="#1a1a1a" stroke-width="1.9"/>
<line x1="1962.5" y1="1651.3" x2="1962.5" y2="1662.9" stroke="#1a1a1a" stroke-width="1.9"/>
<line x1="2016.8" y1="1651.3" x2="2016.8" y2="1662.9" stroke="#1a1a1a" stroke-width="1.9"/>
<line x1="2071.0" y1="1651.3" x2="2071.0" y2="1662.9" stroke="#1a1a1a" stroke-width="1.9"/>
<line x1="1840.0" y1="1480.2" x2="1854.0" y2="1480.2" stroke="#1a1a1a" stroke-width="1.9"/>
<line x1="1840.0" y1="1523.0" x2="1854.0" y2="1523.0" stroke="#1a1a1a" stroke-width="1.9"/>
<line x1="1840.0" y1="1565.8" x2="1854.0" y2="1565.8" stroke="#1a1a1a" stroke-width="1.9"/>
<line x1="1840.0" y1="1608.5" x2="1854.0" y2="1608.5" stroke="#1a1a1a" stroke-width="1.9"/>
<text x="1854.5" y="1679.9" font-size="14.2" text-anchor="middle" font-weight="normal" fill="#1a1a1a" letter-spacing="0.8">0</text>
<text x="1908.8" y="1679.9" font-size="14.2" text-anchor="middle" font-weight="normal" fill="#1a1a1a" letter-spacing="0.8">0.5</text>
<text x="1963.0" y="1679.9" font-size="14.2" text-anchor="middle" font-weight="normal" fill="#1a1a1a" letter-spacing="0.8">1</text>
<text x="2017.2" y="1679.9" font-size="14.2" text-anchor="middle" font-weight="normal" fill="#1a1a1a" letter-spacing="0.8">1.5</text>
<text x="2071.5" y="1679.9" font-size="14.2" text-anchor="middle" font-weight="normal" fill="#1a1a1a" letter-spacing="0.8">2</text>
<text x="1838.5" y="1485.4" font-size="14.2" text-anchor="end" font-weight="normal" fill="#1a1a1a" letter-spacing="0.8">60</text>
<text x="1838.5" y="1528.2" font-size="14.2" text-anchor="end" font-weight="normal" fill="#1a1a1a" letter-spacing="0.8">40</text>
<text x="1838.5" y="1571.0" font-size="14.2" text-anchor="end" font-weight="normal" fill="#1a1a1a" letter-spacing="0.8">20</text>
<text x="1838.5" y="1613.7" font-size="14.2" text-anchor="end" font-weight="normal" fill="#1a1a1a" letter-spacing="0.8">0</text>
<text x="1838.5" y="1656.5" font-size="14.2" text-anchor="end" font-weight="normal" fill="#1a1a1a" letter-spacing="0.8">-20</text>
<text x="1962.0" y="1708.1" font-size="19.5" text-anchor="middle" font-weight="normal" fill="#111">anterior-posterior (mm)</text>
<text x="1810.0" y="1565.8" font-size="19.5" text-anchor="middle" font-weight="normal" fill="#111" transform="rotate(-90 1810.0 1565.8)">dF/F (%)</text>
<text x="1864.4" y="1485.4" font-size="14.0" text-anchor="start" font-weight="normal" fill="#1a1a1a" letter-spacing="0.65">r = −0.38</text>
</g>
</svg>
</body></html>
